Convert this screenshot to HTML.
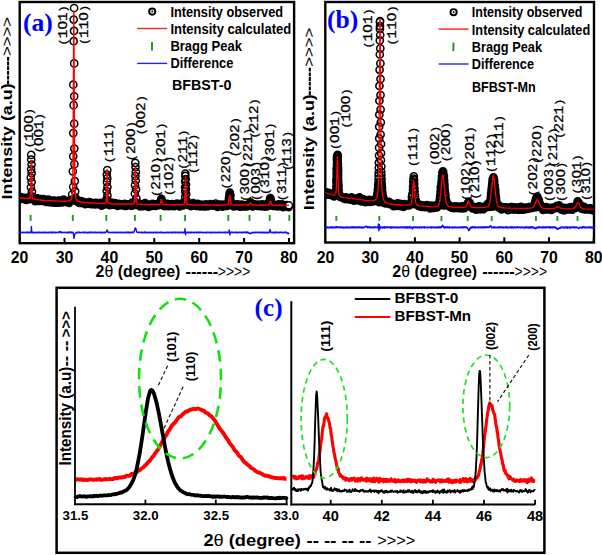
<!DOCTYPE html>
<html><head><meta charset="utf-8"><style>
html,body{margin:0;padding:0;background:#fff;overflow:hidden;}
svg{display:block;}
</style></head><body>
<svg width="602" height="555" viewBox="0 0 602 555">
<rect width="602" height="555" fill="#fff"/>
<rect x="19.7" y="2" width="274.4" height="241.2" fill="none" stroke="#000" stroke-width="2.4"/>
<line x1="64.5" y1="243.2" x2="64.5" y2="238" stroke="#000" stroke-width="2" />
<line x1="109.4" y1="243.2" x2="109.4" y2="238" stroke="#000" stroke-width="2" />
<line x1="154.3" y1="243.2" x2="154.3" y2="238" stroke="#000" stroke-width="2" />
<line x1="199.2" y1="243.2" x2="199.2" y2="238" stroke="#000" stroke-width="2" />
<line x1="244.1" y1="243.2" x2="244.1" y2="238" stroke="#000" stroke-width="2" />
<line x1="289" y1="243.2" x2="289" y2="238" stroke="#000" stroke-width="2" />
<clipPath id="c19"><rect x="19.7" y="2" width="274.4" height="241.2"/></clipPath><g clip-path="url(#c19)">
<path d="M16 199.4a3.6 3.6 0 1 0 7.2 0a3.6 3.6 0 1 0-7.2 0M16.5 198.6a3.6 3.6 0 1 0 7.2 0a3.6 3.6 0 1 0-7.2 0M17 198.4a3.6 3.6 0 1 0 7.2 0a3.6 3.6 0 1 0-7.2 0M17.5 197.1a3.6 3.6 0 1 0 7.2 0a3.6 3.6 0 1 0-7.2 0M18 198.2a3.6 3.6 0 1 0 7.2 0a3.6 3.6 0 1 0-7.2 0M18.5 198.2a3.6 3.6 0 1 0 7.2 0a3.6 3.6 0 1 0-7.2 0M19 198.5a3.6 3.6 0 1 0 7.2 0a3.6 3.6 0 1 0-7.2 0M19.5 198.1a3.6 3.6 0 1 0 7.2 0a3.6 3.6 0 1 0-7.2 0M20 198.6a3.6 3.6 0 1 0 7.2 0a3.6 3.6 0 1 0-7.2 0M20.5 198.3a3.6 3.6 0 1 0 7.2 0a3.6 3.6 0 1 0-7.2 0M21 197.8a3.6 3.6 0 1 0 7.2 0a3.6 3.6 0 1 0-7.2 0M21.5 199.4a3.6 3.6 0 1 0 7.2 0a3.6 3.6 0 1 0-7.2 0M22 199.4a3.6 3.6 0 1 0 7.2 0a3.6 3.6 0 1 0-7.2 0M22.5 200a3.6 3.6 0 1 0 7.2 0a3.6 3.6 0 1 0-7.2 0M23 198.9a3.6 3.6 0 1 0 7.2 0a3.6 3.6 0 1 0-7.2 0M23.5 198.6a3.6 3.6 0 1 0 7.2 0a3.6 3.6 0 1 0-7.2 0M24 198.5a3.6 3.6 0 1 0 7.2 0a3.6 3.6 0 1 0-7.2 0M24.5 197.8a3.6 3.6 0 1 0 7.2 0a3.6 3.6 0 1 0-7.2 0M25 199.5a3.6 3.6 0 1 0 7.2 0a3.6 3.6 0 1 0-7.2 0M25.5 198a3.6 3.6 0 1 0 7.2 0a3.6 3.6 0 1 0-7.2 0M26 197.7a3.6 3.6 0 1 0 7.2 0a3.6 3.6 0 1 0-7.2 0M26.5 197.7a3.6 3.6 0 1 0 7.2 0a3.6 3.6 0 1 0-7.2 0M27 197.9a3.6 3.6 0 1 0 7.2 0a3.6 3.6 0 1 0-7.2 0M27.5 197.1a3.6 3.6 0 1 0 7.2 0a3.6 3.6 0 1 0-7.2 0M28 196.3a3.6 3.6 0 1 0 7.2 0a3.6 3.6 0 1 0-7.2 0M28.5 196.6a3.6 3.6 0 1 0 7.2 0a3.6 3.6 0 1 0-7.2 0M29 198.6a3.6 3.6 0 1 0 7.2 0a3.6 3.6 0 1 0-7.2 0M29.5 198.8a3.6 3.6 0 1 0 7.2 0a3.6 3.6 0 1 0-7.2 0M30 198.7a3.6 3.6 0 1 0 7.2 0a3.6 3.6 0 1 0-7.2 0M30.5 199.3a3.6 3.6 0 1 0 7.2 0a3.6 3.6 0 1 0-7.2 0M31 200.1a3.6 3.6 0 1 0 7.2 0a3.6 3.6 0 1 0-7.2 0M31.5 201.1a3.6 3.6 0 1 0 7.2 0a3.6 3.6 0 1 0-7.2 0M32 198.9a3.6 3.6 0 1 0 7.2 0a3.6 3.6 0 1 0-7.2 0M32.5 199.4a3.6 3.6 0 1 0 7.2 0a3.6 3.6 0 1 0-7.2 0M33 199.4a3.6 3.6 0 1 0 7.2 0a3.6 3.6 0 1 0-7.2 0M33.5 198.3a3.6 3.6 0 1 0 7.2 0a3.6 3.6 0 1 0-7.2 0M34 199.4a3.6 3.6 0 1 0 7.2 0a3.6 3.6 0 1 0-7.2 0M34.5 199.4a3.6 3.6 0 1 0 7.2 0a3.6 3.6 0 1 0-7.2 0M35 201a3.6 3.6 0 1 0 7.2 0a3.6 3.6 0 1 0-7.2 0M35.5 200.1a3.6 3.6 0 1 0 7.2 0a3.6 3.6 0 1 0-7.2 0M36 199.1a3.6 3.6 0 1 0 7.2 0a3.6 3.6 0 1 0-7.2 0M36.5 200.8a3.6 3.6 0 1 0 7.2 0a3.6 3.6 0 1 0-7.2 0M37 200.1a3.6 3.6 0 1 0 7.2 0a3.6 3.6 0 1 0-7.2 0M37.5 199.2a3.6 3.6 0 1 0 7.2 0a3.6 3.6 0 1 0-7.2 0M38 200.1a3.6 3.6 0 1 0 7.2 0a3.6 3.6 0 1 0-7.2 0M38.5 200.1a3.6 3.6 0 1 0 7.2 0a3.6 3.6 0 1 0-7.2 0M39 200a3.6 3.6 0 1 0 7.2 0a3.6 3.6 0 1 0-7.2 0M39.5 200.7a3.6 3.6 0 1 0 7.2 0a3.6 3.6 0 1 0-7.2 0M40 199.1a3.6 3.6 0 1 0 7.2 0a3.6 3.6 0 1 0-7.2 0M40.5 200.6a3.6 3.6 0 1 0 7.2 0a3.6 3.6 0 1 0-7.2 0M41 201.5a3.6 3.6 0 1 0 7.2 0a3.6 3.6 0 1 0-7.2 0M41.5 201.5a3.6 3.6 0 1 0 7.2 0a3.6 3.6 0 1 0-7.2 0M42 201.7a3.6 3.6 0 1 0 7.2 0a3.6 3.6 0 1 0-7.2 0M42.5 201.7a3.6 3.6 0 1 0 7.2 0a3.6 3.6 0 1 0-7.2 0M43 202a3.6 3.6 0 1 0 7.2 0a3.6 3.6 0 1 0-7.2 0M43.5 200.2a3.6 3.6 0 1 0 7.2 0a3.6 3.6 0 1 0-7.2 0M44 201.6a3.6 3.6 0 1 0 7.2 0a3.6 3.6 0 1 0-7.2 0M44.5 199.7a3.6 3.6 0 1 0 7.2 0a3.6 3.6 0 1 0-7.2 0M45 200.7a3.6 3.6 0 1 0 7.2 0a3.6 3.6 0 1 0-7.2 0M45.5 199.8a3.6 3.6 0 1 0 7.2 0a3.6 3.6 0 1 0-7.2 0M46 201.9a3.6 3.6 0 1 0 7.2 0a3.6 3.6 0 1 0-7.2 0M46.5 202.1a3.6 3.6 0 1 0 7.2 0a3.6 3.6 0 1 0-7.2 0M47 201.1a3.6 3.6 0 1 0 7.2 0a3.6 3.6 0 1 0-7.2 0M47.5 202.5a3.6 3.6 0 1 0 7.2 0a3.6 3.6 0 1 0-7.2 0M48 200.8a3.6 3.6 0 1 0 7.2 0a3.6 3.6 0 1 0-7.2 0M48.5 201.4a3.6 3.6 0 1 0 7.2 0a3.6 3.6 0 1 0-7.2 0M49 201.4a3.6 3.6 0 1 0 7.2 0a3.6 3.6 0 1 0-7.2 0M49.5 200.6a3.6 3.6 0 1 0 7.2 0a3.6 3.6 0 1 0-7.2 0M50 201.7a3.6 3.6 0 1 0 7.2 0a3.6 3.6 0 1 0-7.2 0M50.5 202.7a3.6 3.6 0 1 0 7.2 0a3.6 3.6 0 1 0-7.2 0M51 200.7a3.6 3.6 0 1 0 7.2 0a3.6 3.6 0 1 0-7.2 0M51.5 202.1a3.6 3.6 0 1 0 7.2 0a3.6 3.6 0 1 0-7.2 0M52 201.4a3.6 3.6 0 1 0 7.2 0a3.6 3.6 0 1 0-7.2 0M52.5 202.7a3.6 3.6 0 1 0 7.2 0a3.6 3.6 0 1 0-7.2 0M53 201.8a3.6 3.6 0 1 0 7.2 0a3.6 3.6 0 1 0-7.2 0M53.5 202a3.6 3.6 0 1 0 7.2 0a3.6 3.6 0 1 0-7.2 0M54 202a3.6 3.6 0 1 0 7.2 0a3.6 3.6 0 1 0-7.2 0M54.5 201.7a3.6 3.6 0 1 0 7.2 0a3.6 3.6 0 1 0-7.2 0M55 200.6a3.6 3.6 0 1 0 7.2 0a3.6 3.6 0 1 0-7.2 0M55.5 202.6a3.6 3.6 0 1 0 7.2 0a3.6 3.6 0 1 0-7.2 0M56 200.7a3.6 3.6 0 1 0 7.2 0a3.6 3.6 0 1 0-7.2 0M56.5 201.8a3.6 3.6 0 1 0 7.2 0a3.6 3.6 0 1 0-7.2 0M57 202.1a3.6 3.6 0 1 0 7.2 0a3.6 3.6 0 1 0-7.2 0M57.5 201.1a3.6 3.6 0 1 0 7.2 0a3.6 3.6 0 1 0-7.2 0M58 201.8a3.6 3.6 0 1 0 7.2 0a3.6 3.6 0 1 0-7.2 0M58.5 202.5a3.6 3.6 0 1 0 7.2 0a3.6 3.6 0 1 0-7.2 0M59 201.7a3.6 3.6 0 1 0 7.2 0a3.6 3.6 0 1 0-7.2 0M59.5 201.1a3.6 3.6 0 1 0 7.2 0a3.6 3.6 0 1 0-7.2 0M60 199.7a3.6 3.6 0 1 0 7.2 0a3.6 3.6 0 1 0-7.2 0M60.5 201.1a3.6 3.6 0 1 0 7.2 0a3.6 3.6 0 1 0-7.2 0M61 201.3a3.6 3.6 0 1 0 7.2 0a3.6 3.6 0 1 0-7.2 0M61.5 201.4a3.6 3.6 0 1 0 7.2 0a3.6 3.6 0 1 0-7.2 0M62 201.1a3.6 3.6 0 1 0 7.2 0a3.6 3.6 0 1 0-7.2 0M62.5 202a3.6 3.6 0 1 0 7.2 0a3.6 3.6 0 1 0-7.2 0M63 201.3a3.6 3.6 0 1 0 7.2 0a3.6 3.6 0 1 0-7.2 0M63.5 201.6a3.6 3.6 0 1 0 7.2 0a3.6 3.6 0 1 0-7.2 0M64 202.1a3.6 3.6 0 1 0 7.2 0a3.6 3.6 0 1 0-7.2 0M64.5 201a3.6 3.6 0 1 0 7.2 0a3.6 3.6 0 1 0-7.2 0M65 201.3a3.6 3.6 0 1 0 7.2 0a3.6 3.6 0 1 0-7.2 0M65.5 202.8a3.6 3.6 0 1 0 7.2 0a3.6 3.6 0 1 0-7.2 0M66 201.8a3.6 3.6 0 1 0 7.2 0a3.6 3.6 0 1 0-7.2 0M66.5 200a3.6 3.6 0 1 0 7.2 0a3.6 3.6 0 1 0-7.2 0M67 200.4a3.6 3.6 0 1 0 7.2 0a3.6 3.6 0 1 0-7.2 0M67.5 200.2a3.6 3.6 0 1 0 7.2 0a3.6 3.6 0 1 0-7.2 0M68 200.7a3.6 3.6 0 1 0 7.2 0a3.6 3.6 0 1 0-7.2 0M68.5 200a3.6 3.6 0 1 0 7.2 0a3.6 3.6 0 1 0-7.2 0M69 199.5a3.6 3.6 0 1 0 7.2 0a3.6 3.6 0 1 0-7.2 0M69.5 199.4a3.6 3.6 0 1 0 7.2 0a3.6 3.6 0 1 0-7.2 0M70 200.4a3.6 3.6 0 1 0 7.2 0a3.6 3.6 0 1 0-7.2 0M70.5 200.2a3.6 3.6 0 1 0 7.2 0a3.6 3.6 0 1 0-7.2 0M71 199.6a3.6 3.6 0 1 0 7.2 0a3.6 3.6 0 1 0-7.2 0M71.5 199.9a3.6 3.6 0 1 0 7.2 0a3.6 3.6 0 1 0-7.2 0M72 199.7a3.6 3.6 0 1 0 7.2 0a3.6 3.6 0 1 0-7.2 0M72.5 200.6a3.6 3.6 0 1 0 7.2 0a3.6 3.6 0 1 0-7.2 0M73 199.6a3.6 3.6 0 1 0 7.2 0a3.6 3.6 0 1 0-7.2 0M73.5 201.2a3.6 3.6 0 1 0 7.2 0a3.6 3.6 0 1 0-7.2 0M74 201.9a3.6 3.6 0 1 0 7.2 0a3.6 3.6 0 1 0-7.2 0M74.5 201.9a3.6 3.6 0 1 0 7.2 0a3.6 3.6 0 1 0-7.2 0M75 201.3a3.6 3.6 0 1 0 7.2 0a3.6 3.6 0 1 0-7.2 0M75.5 203a3.6 3.6 0 1 0 7.2 0a3.6 3.6 0 1 0-7.2 0M76 201.7a3.6 3.6 0 1 0 7.2 0a3.6 3.6 0 1 0-7.2 0M76.5 202.6a3.6 3.6 0 1 0 7.2 0a3.6 3.6 0 1 0-7.2 0M77 201.8a3.6 3.6 0 1 0 7.2 0a3.6 3.6 0 1 0-7.2 0M77.5 201.2a3.6 3.6 0 1 0 7.2 0a3.6 3.6 0 1 0-7.2 0M78 202.7a3.6 3.6 0 1 0 7.2 0a3.6 3.6 0 1 0-7.2 0M78.5 202.8a3.6 3.6 0 1 0 7.2 0a3.6 3.6 0 1 0-7.2 0M79 202.6a3.6 3.6 0 1 0 7.2 0a3.6 3.6 0 1 0-7.2 0M79.5 202.9a3.6 3.6 0 1 0 7.2 0a3.6 3.6 0 1 0-7.2 0M80 202.3a3.6 3.6 0 1 0 7.2 0a3.6 3.6 0 1 0-7.2 0M80.5 202.2a3.6 3.6 0 1 0 7.2 0a3.6 3.6 0 1 0-7.2 0M81 202.7a3.6 3.6 0 1 0 7.2 0a3.6 3.6 0 1 0-7.2 0M81.5 204.2a3.6 3.6 0 1 0 7.2 0a3.6 3.6 0 1 0-7.2 0M82 203.5a3.6 3.6 0 1 0 7.2 0a3.6 3.6 0 1 0-7.2 0M82.5 202.6a3.6 3.6 0 1 0 7.2 0a3.6 3.6 0 1 0-7.2 0M83 203.4a3.6 3.6 0 1 0 7.2 0a3.6 3.6 0 1 0-7.2 0M83.5 202.7a3.6 3.6 0 1 0 7.2 0a3.6 3.6 0 1 0-7.2 0M84 202.8a3.6 3.6 0 1 0 7.2 0a3.6 3.6 0 1 0-7.2 0M84.5 203.7a3.6 3.6 0 1 0 7.2 0a3.6 3.6 0 1 0-7.2 0M85 202.8a3.6 3.6 0 1 0 7.2 0a3.6 3.6 0 1 0-7.2 0M85.5 202a3.6 3.6 0 1 0 7.2 0a3.6 3.6 0 1 0-7.2 0M86 202.6a3.6 3.6 0 1 0 7.2 0a3.6 3.6 0 1 0-7.2 0M86.5 203.3a3.6 3.6 0 1 0 7.2 0a3.6 3.6 0 1 0-7.2 0M87 203.4a3.6 3.6 0 1 0 7.2 0a3.6 3.6 0 1 0-7.2 0M87.5 204.2a3.6 3.6 0 1 0 7.2 0a3.6 3.6 0 1 0-7.2 0M88 202.9a3.6 3.6 0 1 0 7.2 0a3.6 3.6 0 1 0-7.2 0M88.5 203.9a3.6 3.6 0 1 0 7.2 0a3.6 3.6 0 1 0-7.2 0M89 203.8a3.6 3.6 0 1 0 7.2 0a3.6 3.6 0 1 0-7.2 0M89.5 203.4a3.6 3.6 0 1 0 7.2 0a3.6 3.6 0 1 0-7.2 0M90 204.1a3.6 3.6 0 1 0 7.2 0a3.6 3.6 0 1 0-7.2 0M90.5 203.9a3.6 3.6 0 1 0 7.2 0a3.6 3.6 0 1 0-7.2 0M91 203a3.6 3.6 0 1 0 7.2 0a3.6 3.6 0 1 0-7.2 0M91.5 204.4a3.6 3.6 0 1 0 7.2 0a3.6 3.6 0 1 0-7.2 0M92 202.8a3.6 3.6 0 1 0 7.2 0a3.6 3.6 0 1 0-7.2 0M92.5 203.7a3.6 3.6 0 1 0 7.2 0a3.6 3.6 0 1 0-7.2 0M93 203.7a3.6 3.6 0 1 0 7.2 0a3.6 3.6 0 1 0-7.2 0M93.5 204a3.6 3.6 0 1 0 7.2 0a3.6 3.6 0 1 0-7.2 0M94 203.2a3.6 3.6 0 1 0 7.2 0a3.6 3.6 0 1 0-7.2 0M94.5 203.7a3.6 3.6 0 1 0 7.2 0a3.6 3.6 0 1 0-7.2 0M95 203.7a3.6 3.6 0 1 0 7.2 0a3.6 3.6 0 1 0-7.2 0M95.5 204.5a3.6 3.6 0 1 0 7.2 0a3.6 3.6 0 1 0-7.2 0M96 203.2a3.6 3.6 0 1 0 7.2 0a3.6 3.6 0 1 0-7.2 0M96.5 203.8a3.6 3.6 0 1 0 7.2 0a3.6 3.6 0 1 0-7.2 0M97 203.6a3.6 3.6 0 1 0 7.2 0a3.6 3.6 0 1 0-7.2 0M97.5 202.9a3.6 3.6 0 1 0 7.2 0a3.6 3.6 0 1 0-7.2 0M98 205.7a3.6 3.6 0 1 0 7.2 0a3.6 3.6 0 1 0-7.2 0M98.5 203.8a3.6 3.6 0 1 0 7.2 0a3.6 3.6 0 1 0-7.2 0M99 202.8a3.6 3.6 0 1 0 7.2 0a3.6 3.6 0 1 0-7.2 0M99.5 204.8a3.6 3.6 0 1 0 7.2 0a3.6 3.6 0 1 0-7.2 0M100 203.1a3.6 3.6 0 1 0 7.2 0a3.6 3.6 0 1 0-7.2 0M100.5 204a3.6 3.6 0 1 0 7.2 0a3.6 3.6 0 1 0-7.2 0M101 204.3a3.6 3.6 0 1 0 7.2 0a3.6 3.6 0 1 0-7.2 0M101.5 203.1a3.6 3.6 0 1 0 7.2 0a3.6 3.6 0 1 0-7.2 0M102 202.9a3.6 3.6 0 1 0 7.2 0a3.6 3.6 0 1 0-7.2 0M102.5 201.9a3.6 3.6 0 1 0 7.2 0a3.6 3.6 0 1 0-7.2 0M103 201.5a3.6 3.6 0 1 0 7.2 0a3.6 3.6 0 1 0-7.2 0M103.5 200.5a3.6 3.6 0 1 0 7.2 0a3.6 3.6 0 1 0-7.2 0M104 200.7a3.6 3.6 0 1 0 7.2 0a3.6 3.6 0 1 0-7.2 0M104.5 202.6a3.6 3.6 0 1 0 7.2 0a3.6 3.6 0 1 0-7.2 0M105 204.2a3.6 3.6 0 1 0 7.2 0a3.6 3.6 0 1 0-7.2 0M105.5 204.2a3.6 3.6 0 1 0 7.2 0a3.6 3.6 0 1 0-7.2 0M106 205.1a3.6 3.6 0 1 0 7.2 0a3.6 3.6 0 1 0-7.2 0M106.5 204.5a3.6 3.6 0 1 0 7.2 0a3.6 3.6 0 1 0-7.2 0M107 203.7a3.6 3.6 0 1 0 7.2 0a3.6 3.6 0 1 0-7.2 0M107.5 204a3.6 3.6 0 1 0 7.2 0a3.6 3.6 0 1 0-7.2 0M108 202.7a3.6 3.6 0 1 0 7.2 0a3.6 3.6 0 1 0-7.2 0M108.5 203.5a3.6 3.6 0 1 0 7.2 0a3.6 3.6 0 1 0-7.2 0M109 203.5a3.6 3.6 0 1 0 7.2 0a3.6 3.6 0 1 0-7.2 0M109.5 204.4a3.6 3.6 0 1 0 7.2 0a3.6 3.6 0 1 0-7.2 0M110 204.7a3.6 3.6 0 1 0 7.2 0a3.6 3.6 0 1 0-7.2 0M110.5 203.9a3.6 3.6 0 1 0 7.2 0a3.6 3.6 0 1 0-7.2 0M111 203.9a3.6 3.6 0 1 0 7.2 0a3.6 3.6 0 1 0-7.2 0M111.5 203.2a3.6 3.6 0 1 0 7.2 0a3.6 3.6 0 1 0-7.2 0M112 204.2a3.6 3.6 0 1 0 7.2 0a3.6 3.6 0 1 0-7.2 0M112.5 204.5a3.6 3.6 0 1 0 7.2 0a3.6 3.6 0 1 0-7.2 0M113 204.7a3.6 3.6 0 1 0 7.2 0a3.6 3.6 0 1 0-7.2 0M113.5 203.8a3.6 3.6 0 1 0 7.2 0a3.6 3.6 0 1 0-7.2 0M114 205.8a3.6 3.6 0 1 0 7.2 0a3.6 3.6 0 1 0-7.2 0M114.5 205.2a3.6 3.6 0 1 0 7.2 0a3.6 3.6 0 1 0-7.2 0M115 204.4a3.6 3.6 0 1 0 7.2 0a3.6 3.6 0 1 0-7.2 0M115.5 204.1a3.6 3.6 0 1 0 7.2 0a3.6 3.6 0 1 0-7.2 0M116 204.2a3.6 3.6 0 1 0 7.2 0a3.6 3.6 0 1 0-7.2 0M116.5 204.6a3.6 3.6 0 1 0 7.2 0a3.6 3.6 0 1 0-7.2 0M117 204.5a3.6 3.6 0 1 0 7.2 0a3.6 3.6 0 1 0-7.2 0M117.5 204.8a3.6 3.6 0 1 0 7.2 0a3.6 3.6 0 1 0-7.2 0M118 205a3.6 3.6 0 1 0 7.2 0a3.6 3.6 0 1 0-7.2 0M118.5 205.5a3.6 3.6 0 1 0 7.2 0a3.6 3.6 0 1 0-7.2 0M119 205.3a3.6 3.6 0 1 0 7.2 0a3.6 3.6 0 1 0-7.2 0M119.5 204.4a3.6 3.6 0 1 0 7.2 0a3.6 3.6 0 1 0-7.2 0M120 204.8a3.6 3.6 0 1 0 7.2 0a3.6 3.6 0 1 0-7.2 0M120.5 204.2a3.6 3.6 0 1 0 7.2 0a3.6 3.6 0 1 0-7.2 0M121 204.1a3.6 3.6 0 1 0 7.2 0a3.6 3.6 0 1 0-7.2 0M121.5 205.9a3.6 3.6 0 1 0 7.2 0a3.6 3.6 0 1 0-7.2 0M122 204.2a3.6 3.6 0 1 0 7.2 0a3.6 3.6 0 1 0-7.2 0M122.5 205.9a3.6 3.6 0 1 0 7.2 0a3.6 3.6 0 1 0-7.2 0M123 204.3a3.6 3.6 0 1 0 7.2 0a3.6 3.6 0 1 0-7.2 0M123.5 204.7a3.6 3.6 0 1 0 7.2 0a3.6 3.6 0 1 0-7.2 0M124 205.3a3.6 3.6 0 1 0 7.2 0a3.6 3.6 0 1 0-7.2 0M124.5 204.6a3.6 3.6 0 1 0 7.2 0a3.6 3.6 0 1 0-7.2 0M125 204.8a3.6 3.6 0 1 0 7.2 0a3.6 3.6 0 1 0-7.2 0M125.5 204.4a3.6 3.6 0 1 0 7.2 0a3.6 3.6 0 1 0-7.2 0M126 204.2a3.6 3.6 0 1 0 7.2 0a3.6 3.6 0 1 0-7.2 0M126.5 204.4a3.6 3.6 0 1 0 7.2 0a3.6 3.6 0 1 0-7.2 0M127 204.1a3.6 3.6 0 1 0 7.2 0a3.6 3.6 0 1 0-7.2 0M127.5 205.6a3.6 3.6 0 1 0 7.2 0a3.6 3.6 0 1 0-7.2 0M128 204.3a3.6 3.6 0 1 0 7.2 0a3.6 3.6 0 1 0-7.2 0M128.5 205.6a3.6 3.6 0 1 0 7.2 0a3.6 3.6 0 1 0-7.2 0M129 202.4a3.6 3.6 0 1 0 7.2 0a3.6 3.6 0 1 0-7.2 0M129.5 204.2a3.6 3.6 0 1 0 7.2 0a3.6 3.6 0 1 0-7.2 0M130 204.3a3.6 3.6 0 1 0 7.2 0a3.6 3.6 0 1 0-7.2 0M130.5 203a3.6 3.6 0 1 0 7.2 0a3.6 3.6 0 1 0-7.2 0M131 203a3.6 3.6 0 1 0 7.2 0a3.6 3.6 0 1 0-7.2 0M131.5 202.6a3.6 3.6 0 1 0 7.2 0a3.6 3.6 0 1 0-7.2 0M132 202a3.6 3.6 0 1 0 7.2 0a3.6 3.6 0 1 0-7.2 0M132.5 202.5a3.6 3.6 0 1 0 7.2 0a3.6 3.6 0 1 0-7.2 0M133 204.9a3.6 3.6 0 1 0 7.2 0a3.6 3.6 0 1 0-7.2 0M133.5 204a3.6 3.6 0 1 0 7.2 0a3.6 3.6 0 1 0-7.2 0M134 204.4a3.6 3.6 0 1 0 7.2 0a3.6 3.6 0 1 0-7.2 0M134.5 204.1a3.6 3.6 0 1 0 7.2 0a3.6 3.6 0 1 0-7.2 0M135 204.6a3.6 3.6 0 1 0 7.2 0a3.6 3.6 0 1 0-7.2 0M135.5 203.6a3.6 3.6 0 1 0 7.2 0a3.6 3.6 0 1 0-7.2 0M136 204.5a3.6 3.6 0 1 0 7.2 0a3.6 3.6 0 1 0-7.2 0M136.5 206.4a3.6 3.6 0 1 0 7.2 0a3.6 3.6 0 1 0-7.2 0M137 205.4a3.6 3.6 0 1 0 7.2 0a3.6 3.6 0 1 0-7.2 0M137.5 205.1a3.6 3.6 0 1 0 7.2 0a3.6 3.6 0 1 0-7.2 0M138 205.5a3.6 3.6 0 1 0 7.2 0a3.6 3.6 0 1 0-7.2 0M138.5 206a3.6 3.6 0 1 0 7.2 0a3.6 3.6 0 1 0-7.2 0M139 205.2a3.6 3.6 0 1 0 7.2 0a3.6 3.6 0 1 0-7.2 0M139.5 206.2a3.6 3.6 0 1 0 7.2 0a3.6 3.6 0 1 0-7.2 0M140 205.5a3.6 3.6 0 1 0 7.2 0a3.6 3.6 0 1 0-7.2 0M140.5 204.9a3.6 3.6 0 1 0 7.2 0a3.6 3.6 0 1 0-7.2 0M141 206a3.6 3.6 0 1 0 7.2 0a3.6 3.6 0 1 0-7.2 0M141.5 203.1a3.6 3.6 0 1 0 7.2 0a3.6 3.6 0 1 0-7.2 0M142 204.4a3.6 3.6 0 1 0 7.2 0a3.6 3.6 0 1 0-7.2 0M142.5 205a3.6 3.6 0 1 0 7.2 0a3.6 3.6 0 1 0-7.2 0M143 204.2a3.6 3.6 0 1 0 7.2 0a3.6 3.6 0 1 0-7.2 0M143.5 204.7a3.6 3.6 0 1 0 7.2 0a3.6 3.6 0 1 0-7.2 0M144 204.4a3.6 3.6 0 1 0 7.2 0a3.6 3.6 0 1 0-7.2 0M144.5 204.4a3.6 3.6 0 1 0 7.2 0a3.6 3.6 0 1 0-7.2 0M145 206.8a3.6 3.6 0 1 0 7.2 0a3.6 3.6 0 1 0-7.2 0M145.5 205.3a3.6 3.6 0 1 0 7.2 0a3.6 3.6 0 1 0-7.2 0M146 204.8a3.6 3.6 0 1 0 7.2 0a3.6 3.6 0 1 0-7.2 0M146.5 205.8a3.6 3.6 0 1 0 7.2 0a3.6 3.6 0 1 0-7.2 0M147 204.7a3.6 3.6 0 1 0 7.2 0a3.6 3.6 0 1 0-7.2 0M147.5 205.5a3.6 3.6 0 1 0 7.2 0a3.6 3.6 0 1 0-7.2 0M148 205.1a3.6 3.6 0 1 0 7.2 0a3.6 3.6 0 1 0-7.2 0M148.5 206a3.6 3.6 0 1 0 7.2 0a3.6 3.6 0 1 0-7.2 0M149 203.9a3.6 3.6 0 1 0 7.2 0a3.6 3.6 0 1 0-7.2 0M149.5 205.4a3.6 3.6 0 1 0 7.2 0a3.6 3.6 0 1 0-7.2 0M150 205a3.6 3.6 0 1 0 7.2 0a3.6 3.6 0 1 0-7.2 0M150.5 204.1a3.6 3.6 0 1 0 7.2 0a3.6 3.6 0 1 0-7.2 0M151 205.6a3.6 3.6 0 1 0 7.2 0a3.6 3.6 0 1 0-7.2 0M151.5 204.3a3.6 3.6 0 1 0 7.2 0a3.6 3.6 0 1 0-7.2 0M152 206a3.6 3.6 0 1 0 7.2 0a3.6 3.6 0 1 0-7.2 0M152.5 205.3a3.6 3.6 0 1 0 7.2 0a3.6 3.6 0 1 0-7.2 0M153 205.4a3.6 3.6 0 1 0 7.2 0a3.6 3.6 0 1 0-7.2 0M153.5 204.9a3.6 3.6 0 1 0 7.2 0a3.6 3.6 0 1 0-7.2 0M154 205.5a3.6 3.6 0 1 0 7.2 0a3.6 3.6 0 1 0-7.2 0M154.5 203.6a3.6 3.6 0 1 0 7.2 0a3.6 3.6 0 1 0-7.2 0M155 204.9a3.6 3.6 0 1 0 7.2 0a3.6 3.6 0 1 0-7.2 0M155.5 204.4a3.6 3.6 0 1 0 7.2 0a3.6 3.6 0 1 0-7.2 0M156 204.9a3.6 3.6 0 1 0 7.2 0a3.6 3.6 0 1 0-7.2 0M156.5 204.4a3.6 3.6 0 1 0 7.2 0a3.6 3.6 0 1 0-7.2 0M157 203.8a3.6 3.6 0 1 0 7.2 0a3.6 3.6 0 1 0-7.2 0M157.5 201.9a3.6 3.6 0 1 0 7.2 0a3.6 3.6 0 1 0-7.2 0M158 203.8a3.6 3.6 0 1 0 7.2 0a3.6 3.6 0 1 0-7.2 0M158.5 204.6a3.6 3.6 0 1 0 7.2 0a3.6 3.6 0 1 0-7.2 0M159 204.2a3.6 3.6 0 1 0 7.2 0a3.6 3.6 0 1 0-7.2 0M159.5 204.7a3.6 3.6 0 1 0 7.2 0a3.6 3.6 0 1 0-7.2 0M160 205a3.6 3.6 0 1 0 7.2 0a3.6 3.6 0 1 0-7.2 0M160.5 205.8a3.6 3.6 0 1 0 7.2 0a3.6 3.6 0 1 0-7.2 0M161 206.2a3.6 3.6 0 1 0 7.2 0a3.6 3.6 0 1 0-7.2 0M161.5 204.1a3.6 3.6 0 1 0 7.2 0a3.6 3.6 0 1 0-7.2 0M162 204.5a3.6 3.6 0 1 0 7.2 0a3.6 3.6 0 1 0-7.2 0M162.5 204.2a3.6 3.6 0 1 0 7.2 0a3.6 3.6 0 1 0-7.2 0M163 204.2a3.6 3.6 0 1 0 7.2 0a3.6 3.6 0 1 0-7.2 0M163.5 203.8a3.6 3.6 0 1 0 7.2 0a3.6 3.6 0 1 0-7.2 0M164 205.2a3.6 3.6 0 1 0 7.2 0a3.6 3.6 0 1 0-7.2 0M164.5 204.2a3.6 3.6 0 1 0 7.2 0a3.6 3.6 0 1 0-7.2 0M165 206.1a3.6 3.6 0 1 0 7.2 0a3.6 3.6 0 1 0-7.2 0M165.5 205.6a3.6 3.6 0 1 0 7.2 0a3.6 3.6 0 1 0-7.2 0M166 204.3a3.6 3.6 0 1 0 7.2 0a3.6 3.6 0 1 0-7.2 0M166.5 204.3a3.6 3.6 0 1 0 7.2 0a3.6 3.6 0 1 0-7.2 0M167 204.6a3.6 3.6 0 1 0 7.2 0a3.6 3.6 0 1 0-7.2 0M167.5 206a3.6 3.6 0 1 0 7.2 0a3.6 3.6 0 1 0-7.2 0M168 204.4a3.6 3.6 0 1 0 7.2 0a3.6 3.6 0 1 0-7.2 0M168.5 204a3.6 3.6 0 1 0 7.2 0a3.6 3.6 0 1 0-7.2 0M169 205a3.6 3.6 0 1 0 7.2 0a3.6 3.6 0 1 0-7.2 0M169.5 205.3a3.6 3.6 0 1 0 7.2 0a3.6 3.6 0 1 0-7.2 0M170 204.6a3.6 3.6 0 1 0 7.2 0a3.6 3.6 0 1 0-7.2 0M170.5 206.2a3.6 3.6 0 1 0 7.2 0a3.6 3.6 0 1 0-7.2 0M171 205.2a3.6 3.6 0 1 0 7.2 0a3.6 3.6 0 1 0-7.2 0M171.5 205.4a3.6 3.6 0 1 0 7.2 0a3.6 3.6 0 1 0-7.2 0M172 204.5a3.6 3.6 0 1 0 7.2 0a3.6 3.6 0 1 0-7.2 0M172.5 205a3.6 3.6 0 1 0 7.2 0a3.6 3.6 0 1 0-7.2 0M173 204.9a3.6 3.6 0 1 0 7.2 0a3.6 3.6 0 1 0-7.2 0M173.5 203.5a3.6 3.6 0 1 0 7.2 0a3.6 3.6 0 1 0-7.2 0M174 205.3a3.6 3.6 0 1 0 7.2 0a3.6 3.6 0 1 0-7.2 0M174.5 203.8a3.6 3.6 0 1 0 7.2 0a3.6 3.6 0 1 0-7.2 0M175 205a3.6 3.6 0 1 0 7.2 0a3.6 3.6 0 1 0-7.2 0M175.5 204a3.6 3.6 0 1 0 7.2 0a3.6 3.6 0 1 0-7.2 0M176 206.5a3.6 3.6 0 1 0 7.2 0a3.6 3.6 0 1 0-7.2 0M176.5 205.3a3.6 3.6 0 1 0 7.2 0a3.6 3.6 0 1 0-7.2 0M177 205.6a3.6 3.6 0 1 0 7.2 0a3.6 3.6 0 1 0-7.2 0M177.5 205.6a3.6 3.6 0 1 0 7.2 0a3.6 3.6 0 1 0-7.2 0M178 204.1a3.6 3.6 0 1 0 7.2 0a3.6 3.6 0 1 0-7.2 0M178.5 203.3a3.6 3.6 0 1 0 7.2 0a3.6 3.6 0 1 0-7.2 0M179 204.6a3.6 3.6 0 1 0 7.2 0a3.6 3.6 0 1 0-7.2 0M179.5 205.4a3.6 3.6 0 1 0 7.2 0a3.6 3.6 0 1 0-7.2 0M180 204.6a3.6 3.6 0 1 0 7.2 0a3.6 3.6 0 1 0-7.2 0M180.5 204.7a3.6 3.6 0 1 0 7.2 0a3.6 3.6 0 1 0-7.2 0M181 203.3a3.6 3.6 0 1 0 7.2 0a3.6 3.6 0 1 0-7.2 0M181.5 201.6a3.6 3.6 0 1 0 7.2 0a3.6 3.6 0 1 0-7.2 0M182 202.9a3.6 3.6 0 1 0 7.2 0a3.6 3.6 0 1 0-7.2 0M182.5 204a3.6 3.6 0 1 0 7.2 0a3.6 3.6 0 1 0-7.2 0M183 202.9a3.6 3.6 0 1 0 7.2 0a3.6 3.6 0 1 0-7.2 0M183.5 202.9a3.6 3.6 0 1 0 7.2 0a3.6 3.6 0 1 0-7.2 0M184 204.5a3.6 3.6 0 1 0 7.2 0a3.6 3.6 0 1 0-7.2 0M184.5 204.5a3.6 3.6 0 1 0 7.2 0a3.6 3.6 0 1 0-7.2 0M185 205.2a3.6 3.6 0 1 0 7.2 0a3.6 3.6 0 1 0-7.2 0M185.5 204.4a3.6 3.6 0 1 0 7.2 0a3.6 3.6 0 1 0-7.2 0M186 205.1a3.6 3.6 0 1 0 7.2 0a3.6 3.6 0 1 0-7.2 0M186.5 203.5a3.6 3.6 0 1 0 7.2 0a3.6 3.6 0 1 0-7.2 0M187 205.7a3.6 3.6 0 1 0 7.2 0a3.6 3.6 0 1 0-7.2 0M187.5 206.2a3.6 3.6 0 1 0 7.2 0a3.6 3.6 0 1 0-7.2 0M188 206a3.6 3.6 0 1 0 7.2 0a3.6 3.6 0 1 0-7.2 0M188.5 204.1a3.6 3.6 0 1 0 7.2 0a3.6 3.6 0 1 0-7.2 0M189 205.4a3.6 3.6 0 1 0 7.2 0a3.6 3.6 0 1 0-7.2 0M189.5 203.1a3.6 3.6 0 1 0 7.2 0a3.6 3.6 0 1 0-7.2 0M190 205.4a3.6 3.6 0 1 0 7.2 0a3.6 3.6 0 1 0-7.2 0M190.5 205.1a3.6 3.6 0 1 0 7.2 0a3.6 3.6 0 1 0-7.2 0M191 204.5a3.6 3.6 0 1 0 7.2 0a3.6 3.6 0 1 0-7.2 0M191.5 205.4a3.6 3.6 0 1 0 7.2 0a3.6 3.6 0 1 0-7.2 0M192 205.3a3.6 3.6 0 1 0 7.2 0a3.6 3.6 0 1 0-7.2 0M192.5 205.9a3.6 3.6 0 1 0 7.2 0a3.6 3.6 0 1 0-7.2 0M193 205.3a3.6 3.6 0 1 0 7.2 0a3.6 3.6 0 1 0-7.2 0M193.5 205.4a3.6 3.6 0 1 0 7.2 0a3.6 3.6 0 1 0-7.2 0M194 203.9a3.6 3.6 0 1 0 7.2 0a3.6 3.6 0 1 0-7.2 0M194.5 204.4a3.6 3.6 0 1 0 7.2 0a3.6 3.6 0 1 0-7.2 0M195 204.9a3.6 3.6 0 1 0 7.2 0a3.6 3.6 0 1 0-7.2 0M195.5 205.4a3.6 3.6 0 1 0 7.2 0a3.6 3.6 0 1 0-7.2 0M196 205.2a3.6 3.6 0 1 0 7.2 0a3.6 3.6 0 1 0-7.2 0M196.5 206.3a3.6 3.6 0 1 0 7.2 0a3.6 3.6 0 1 0-7.2 0M197 204.6a3.6 3.6 0 1 0 7.2 0a3.6 3.6 0 1 0-7.2 0M197.5 205.1a3.6 3.6 0 1 0 7.2 0a3.6 3.6 0 1 0-7.2 0M198 205.4a3.6 3.6 0 1 0 7.2 0a3.6 3.6 0 1 0-7.2 0M198.5 205.1a3.6 3.6 0 1 0 7.2 0a3.6 3.6 0 1 0-7.2 0M199 205.6a3.6 3.6 0 1 0 7.2 0a3.6 3.6 0 1 0-7.2 0M199.5 204.9a3.6 3.6 0 1 0 7.2 0a3.6 3.6 0 1 0-7.2 0M200 206.3a3.6 3.6 0 1 0 7.2 0a3.6 3.6 0 1 0-7.2 0M200.5 205.1a3.6 3.6 0 1 0 7.2 0a3.6 3.6 0 1 0-7.2 0M201 206.1a3.6 3.6 0 1 0 7.2 0a3.6 3.6 0 1 0-7.2 0M201.5 205.3a3.6 3.6 0 1 0 7.2 0a3.6 3.6 0 1 0-7.2 0M202 206.3a3.6 3.6 0 1 0 7.2 0a3.6 3.6 0 1 0-7.2 0M202.5 204.3a3.6 3.6 0 1 0 7.2 0a3.6 3.6 0 1 0-7.2 0M203 205.7a3.6 3.6 0 1 0 7.2 0a3.6 3.6 0 1 0-7.2 0M203.5 205a3.6 3.6 0 1 0 7.2 0a3.6 3.6 0 1 0-7.2 0M204 205.5a3.6 3.6 0 1 0 7.2 0a3.6 3.6 0 1 0-7.2 0M204.5 206.1a3.6 3.6 0 1 0 7.2 0a3.6 3.6 0 1 0-7.2 0M205 204.5a3.6 3.6 0 1 0 7.2 0a3.6 3.6 0 1 0-7.2 0M205.5 204.4a3.6 3.6 0 1 0 7.2 0a3.6 3.6 0 1 0-7.2 0M206 204.6a3.6 3.6 0 1 0 7.2 0a3.6 3.6 0 1 0-7.2 0M206.5 205.5a3.6 3.6 0 1 0 7.2 0a3.6 3.6 0 1 0-7.2 0M207 204a3.6 3.6 0 1 0 7.2 0a3.6 3.6 0 1 0-7.2 0M207.5 205.4a3.6 3.6 0 1 0 7.2 0a3.6 3.6 0 1 0-7.2 0M208 204.4a3.6 3.6 0 1 0 7.2 0a3.6 3.6 0 1 0-7.2 0M208.5 204.5a3.6 3.6 0 1 0 7.2 0a3.6 3.6 0 1 0-7.2 0M209 205.1a3.6 3.6 0 1 0 7.2 0a3.6 3.6 0 1 0-7.2 0M209.5 205.6a3.6 3.6 0 1 0 7.2 0a3.6 3.6 0 1 0-7.2 0M210 204.9a3.6 3.6 0 1 0 7.2 0a3.6 3.6 0 1 0-7.2 0M210.5 205a3.6 3.6 0 1 0 7.2 0a3.6 3.6 0 1 0-7.2 0M211 205.3a3.6 3.6 0 1 0 7.2 0a3.6 3.6 0 1 0-7.2 0M211.5 205.1a3.6 3.6 0 1 0 7.2 0a3.6 3.6 0 1 0-7.2 0M212 203.5a3.6 3.6 0 1 0 7.2 0a3.6 3.6 0 1 0-7.2 0M212.5 205a3.6 3.6 0 1 0 7.2 0a3.6 3.6 0 1 0-7.2 0M213 205.4a3.6 3.6 0 1 0 7.2 0a3.6 3.6 0 1 0-7.2 0M213.5 206.1a3.6 3.6 0 1 0 7.2 0a3.6 3.6 0 1 0-7.2 0M214 206.8a3.6 3.6 0 1 0 7.2 0a3.6 3.6 0 1 0-7.2 0M214.5 205.8a3.6 3.6 0 1 0 7.2 0a3.6 3.6 0 1 0-7.2 0M215 205.4a3.6 3.6 0 1 0 7.2 0a3.6 3.6 0 1 0-7.2 0M215.5 204.7a3.6 3.6 0 1 0 7.2 0a3.6 3.6 0 1 0-7.2 0M216 205.4a3.6 3.6 0 1 0 7.2 0a3.6 3.6 0 1 0-7.2 0M216.5 205.9a3.6 3.6 0 1 0 7.2 0a3.6 3.6 0 1 0-7.2 0M217 206.2a3.6 3.6 0 1 0 7.2 0a3.6 3.6 0 1 0-7.2 0M217.5 204.7a3.6 3.6 0 1 0 7.2 0a3.6 3.6 0 1 0-7.2 0M218 205.5a3.6 3.6 0 1 0 7.2 0a3.6 3.6 0 1 0-7.2 0M218.5 205.9a3.6 3.6 0 1 0 7.2 0a3.6 3.6 0 1 0-7.2 0M219 206.6a3.6 3.6 0 1 0 7.2 0a3.6 3.6 0 1 0-7.2 0M219.5 205.5a3.6 3.6 0 1 0 7.2 0a3.6 3.6 0 1 0-7.2 0M220 204.9a3.6 3.6 0 1 0 7.2 0a3.6 3.6 0 1 0-7.2 0M220.5 204.8a3.6 3.6 0 1 0 7.2 0a3.6 3.6 0 1 0-7.2 0M221 205a3.6 3.6 0 1 0 7.2 0a3.6 3.6 0 1 0-7.2 0M221.5 204.8a3.6 3.6 0 1 0 7.2 0a3.6 3.6 0 1 0-7.2 0M222 205.8a3.6 3.6 0 1 0 7.2 0a3.6 3.6 0 1 0-7.2 0M222.5 205.9a3.6 3.6 0 1 0 7.2 0a3.6 3.6 0 1 0-7.2 0M223 205.6a3.6 3.6 0 1 0 7.2 0a3.6 3.6 0 1 0-7.2 0M223.5 205.8a3.6 3.6 0 1 0 7.2 0a3.6 3.6 0 1 0-7.2 0M224 204.5a3.6 3.6 0 1 0 7.2 0a3.6 3.6 0 1 0-7.2 0M224.5 204.5a3.6 3.6 0 1 0 7.2 0a3.6 3.6 0 1 0-7.2 0M225 202.6a3.6 3.6 0 1 0 7.2 0a3.6 3.6 0 1 0-7.2 0M225.5 202.9a3.6 3.6 0 1 0 7.2 0a3.6 3.6 0 1 0-7.2 0M226 203.8a3.6 3.6 0 1 0 7.2 0a3.6 3.6 0 1 0-7.2 0M226.5 202.9a3.6 3.6 0 1 0 7.2 0a3.6 3.6 0 1 0-7.2 0M227 201.6a3.6 3.6 0 1 0 7.2 0a3.6 3.6 0 1 0-7.2 0M227.5 204a3.6 3.6 0 1 0 7.2 0a3.6 3.6 0 1 0-7.2 0M228 204.3a3.6 3.6 0 1 0 7.2 0a3.6 3.6 0 1 0-7.2 0M228.5 204a3.6 3.6 0 1 0 7.2 0a3.6 3.6 0 1 0-7.2 0M229 204.6a3.6 3.6 0 1 0 7.2 0a3.6 3.6 0 1 0-7.2 0M229.5 205.9a3.6 3.6 0 1 0 7.2 0a3.6 3.6 0 1 0-7.2 0M230 206.4a3.6 3.6 0 1 0 7.2 0a3.6 3.6 0 1 0-7.2 0M230.5 205a3.6 3.6 0 1 0 7.2 0a3.6 3.6 0 1 0-7.2 0M231 206a3.6 3.6 0 1 0 7.2 0a3.6 3.6 0 1 0-7.2 0M231.5 206.2a3.6 3.6 0 1 0 7.2 0a3.6 3.6 0 1 0-7.2 0M232 204.5a3.6 3.6 0 1 0 7.2 0a3.6 3.6 0 1 0-7.2 0M232.5 205.3a3.6 3.6 0 1 0 7.2 0a3.6 3.6 0 1 0-7.2 0M233 205.4a3.6 3.6 0 1 0 7.2 0a3.6 3.6 0 1 0-7.2 0M233.5 205.5a3.6 3.6 0 1 0 7.2 0a3.6 3.6 0 1 0-7.2 0M234 204.3a3.6 3.6 0 1 0 7.2 0a3.6 3.6 0 1 0-7.2 0M234.5 205.2a3.6 3.6 0 1 0 7.2 0a3.6 3.6 0 1 0-7.2 0M235 206.2a3.6 3.6 0 1 0 7.2 0a3.6 3.6 0 1 0-7.2 0M235.5 206.3a3.6 3.6 0 1 0 7.2 0a3.6 3.6 0 1 0-7.2 0M236 206.7a3.6 3.6 0 1 0 7.2 0a3.6 3.6 0 1 0-7.2 0M236.5 205.2a3.6 3.6 0 1 0 7.2 0a3.6 3.6 0 1 0-7.2 0M237 206.7a3.6 3.6 0 1 0 7.2 0a3.6 3.6 0 1 0-7.2 0M237.5 205.9a3.6 3.6 0 1 0 7.2 0a3.6 3.6 0 1 0-7.2 0M238 204.5a3.6 3.6 0 1 0 7.2 0a3.6 3.6 0 1 0-7.2 0M238.5 206a3.6 3.6 0 1 0 7.2 0a3.6 3.6 0 1 0-7.2 0M239 205.2a3.6 3.6 0 1 0 7.2 0a3.6 3.6 0 1 0-7.2 0M239.5 205.8a3.6 3.6 0 1 0 7.2 0a3.6 3.6 0 1 0-7.2 0M240 205.4a3.6 3.6 0 1 0 7.2 0a3.6 3.6 0 1 0-7.2 0M240.5 206.3a3.6 3.6 0 1 0 7.2 0a3.6 3.6 0 1 0-7.2 0M241 205.6a3.6 3.6 0 1 0 7.2 0a3.6 3.6 0 1 0-7.2 0M241.5 205.2a3.6 3.6 0 1 0 7.2 0a3.6 3.6 0 1 0-7.2 0M242 206.1a3.6 3.6 0 1 0 7.2 0a3.6 3.6 0 1 0-7.2 0M242.5 205.6a3.6 3.6 0 1 0 7.2 0a3.6 3.6 0 1 0-7.2 0M243 205.1a3.6 3.6 0 1 0 7.2 0a3.6 3.6 0 1 0-7.2 0M243.5 206.3a3.6 3.6 0 1 0 7.2 0a3.6 3.6 0 1 0-7.2 0M244 205.1a3.6 3.6 0 1 0 7.2 0a3.6 3.6 0 1 0-7.2 0M244.5 204.9a3.6 3.6 0 1 0 7.2 0a3.6 3.6 0 1 0-7.2 0M245 204.8a3.6 3.6 0 1 0 7.2 0a3.6 3.6 0 1 0-7.2 0M245.5 203.9a3.6 3.6 0 1 0 7.2 0a3.6 3.6 0 1 0-7.2 0M246 203.9a3.6 3.6 0 1 0 7.2 0a3.6 3.6 0 1 0-7.2 0M246.5 204.7a3.6 3.6 0 1 0 7.2 0a3.6 3.6 0 1 0-7.2 0M247 202.4a3.6 3.6 0 1 0 7.2 0a3.6 3.6 0 1 0-7.2 0M247.5 203.7a3.6 3.6 0 1 0 7.2 0a3.6 3.6 0 1 0-7.2 0M248 203.8a3.6 3.6 0 1 0 7.2 0a3.6 3.6 0 1 0-7.2 0M248.5 204.6a3.6 3.6 0 1 0 7.2 0a3.6 3.6 0 1 0-7.2 0M249 206.3a3.6 3.6 0 1 0 7.2 0a3.6 3.6 0 1 0-7.2 0M249.5 206a3.6 3.6 0 1 0 7.2 0a3.6 3.6 0 1 0-7.2 0M250 205a3.6 3.6 0 1 0 7.2 0a3.6 3.6 0 1 0-7.2 0M250.5 205.4a3.6 3.6 0 1 0 7.2 0a3.6 3.6 0 1 0-7.2 0M251 204.9a3.6 3.6 0 1 0 7.2 0a3.6 3.6 0 1 0-7.2 0M251.5 204.9a3.6 3.6 0 1 0 7.2 0a3.6 3.6 0 1 0-7.2 0M252 204.8a3.6 3.6 0 1 0 7.2 0a3.6 3.6 0 1 0-7.2 0M252.5 204.9a3.6 3.6 0 1 0 7.2 0a3.6 3.6 0 1 0-7.2 0M253 205.7a3.6 3.6 0 1 0 7.2 0a3.6 3.6 0 1 0-7.2 0M253.5 205.9a3.6 3.6 0 1 0 7.2 0a3.6 3.6 0 1 0-7.2 0M254 205.9a3.6 3.6 0 1 0 7.2 0a3.6 3.6 0 1 0-7.2 0M254.5 205.4a3.6 3.6 0 1 0 7.2 0a3.6 3.6 0 1 0-7.2 0M255 204.6a3.6 3.6 0 1 0 7.2 0a3.6 3.6 0 1 0-7.2 0M255.5 205.5a3.6 3.6 0 1 0 7.2 0a3.6 3.6 0 1 0-7.2 0M256 204.9a3.6 3.6 0 1 0 7.2 0a3.6 3.6 0 1 0-7.2 0M256.5 206.1a3.6 3.6 0 1 0 7.2 0a3.6 3.6 0 1 0-7.2 0M257 205.9a3.6 3.6 0 1 0 7.2 0a3.6 3.6 0 1 0-7.2 0M257.5 206a3.6 3.6 0 1 0 7.2 0a3.6 3.6 0 1 0-7.2 0M258 205.3a3.6 3.6 0 1 0 7.2 0a3.6 3.6 0 1 0-7.2 0M258.5 204.3a3.6 3.6 0 1 0 7.2 0a3.6 3.6 0 1 0-7.2 0M259 206.2a3.6 3.6 0 1 0 7.2 0a3.6 3.6 0 1 0-7.2 0M259.5 206.4a3.6 3.6 0 1 0 7.2 0a3.6 3.6 0 1 0-7.2 0M260 204.5a3.6 3.6 0 1 0 7.2 0a3.6 3.6 0 1 0-7.2 0M260.5 205.6a3.6 3.6 0 1 0 7.2 0a3.6 3.6 0 1 0-7.2 0M261 206.3a3.6 3.6 0 1 0 7.2 0a3.6 3.6 0 1 0-7.2 0M261.5 204.7a3.6 3.6 0 1 0 7.2 0a3.6 3.6 0 1 0-7.2 0M262 206.7a3.6 3.6 0 1 0 7.2 0a3.6 3.6 0 1 0-7.2 0M262.5 205.2a3.6 3.6 0 1 0 7.2 0a3.6 3.6 0 1 0-7.2 0M263 204.7a3.6 3.6 0 1 0 7.2 0a3.6 3.6 0 1 0-7.2 0M263.5 206.3a3.6 3.6 0 1 0 7.2 0a3.6 3.6 0 1 0-7.2 0M264 205.5a3.6 3.6 0 1 0 7.2 0a3.6 3.6 0 1 0-7.2 0M264.5 204.7a3.6 3.6 0 1 0 7.2 0a3.6 3.6 0 1 0-7.2 0M265 205.5a3.6 3.6 0 1 0 7.2 0a3.6 3.6 0 1 0-7.2 0M265.5 202.5a3.6 3.6 0 1 0 7.2 0a3.6 3.6 0 1 0-7.2 0M266 204.4a3.6 3.6 0 1 0 7.2 0a3.6 3.6 0 1 0-7.2 0M266.5 202.5a3.6 3.6 0 1 0 7.2 0a3.6 3.6 0 1 0-7.2 0M267 203.3a3.6 3.6 0 1 0 7.2 0a3.6 3.6 0 1 0-7.2 0M267.5 202.8a3.6 3.6 0 1 0 7.2 0a3.6 3.6 0 1 0-7.2 0M268 204.4a3.6 3.6 0 1 0 7.2 0a3.6 3.6 0 1 0-7.2 0M268.5 205.6a3.6 3.6 0 1 0 7.2 0a3.6 3.6 0 1 0-7.2 0M269 204.7a3.6 3.6 0 1 0 7.2 0a3.6 3.6 0 1 0-7.2 0M269.5 205.9a3.6 3.6 0 1 0 7.2 0a3.6 3.6 0 1 0-7.2 0M270 205.2a3.6 3.6 0 1 0 7.2 0a3.6 3.6 0 1 0-7.2 0M270.5 205a3.6 3.6 0 1 0 7.2 0a3.6 3.6 0 1 0-7.2 0M271 205.4a3.6 3.6 0 1 0 7.2 0a3.6 3.6 0 1 0-7.2 0M271.5 204.8a3.6 3.6 0 1 0 7.2 0a3.6 3.6 0 1 0-7.2 0M272 205a3.6 3.6 0 1 0 7.2 0a3.6 3.6 0 1 0-7.2 0M272.5 206.2a3.6 3.6 0 1 0 7.2 0a3.6 3.6 0 1 0-7.2 0M273 205.5a3.6 3.6 0 1 0 7.2 0a3.6 3.6 0 1 0-7.2 0M273.5 206.4a3.6 3.6 0 1 0 7.2 0a3.6 3.6 0 1 0-7.2 0M274 205.9a3.6 3.6 0 1 0 7.2 0a3.6 3.6 0 1 0-7.2 0M274.5 204.9a3.6 3.6 0 1 0 7.2 0a3.6 3.6 0 1 0-7.2 0M275 204.3a3.6 3.6 0 1 0 7.2 0a3.6 3.6 0 1 0-7.2 0M275.5 205.1a3.6 3.6 0 1 0 7.2 0a3.6 3.6 0 1 0-7.2 0M276 205.8a3.6 3.6 0 1 0 7.2 0a3.6 3.6 0 1 0-7.2 0M276.5 205.6a3.6 3.6 0 1 0 7.2 0a3.6 3.6 0 1 0-7.2 0M277 205.1a3.6 3.6 0 1 0 7.2 0a3.6 3.6 0 1 0-7.2 0M277.5 206.3a3.6 3.6 0 1 0 7.2 0a3.6 3.6 0 1 0-7.2 0M278 204.4a3.6 3.6 0 1 0 7.2 0a3.6 3.6 0 1 0-7.2 0M278.5 204.8a3.6 3.6 0 1 0 7.2 0a3.6 3.6 0 1 0-7.2 0M279 205.7a3.6 3.6 0 1 0 7.2 0a3.6 3.6 0 1 0-7.2 0M279.5 207.2a3.6 3.6 0 1 0 7.2 0a3.6 3.6 0 1 0-7.2 0M280 205.9a3.6 3.6 0 1 0 7.2 0a3.6 3.6 0 1 0-7.2 0M280.5 205a3.6 3.6 0 1 0 7.2 0a3.6 3.6 0 1 0-7.2 0M281 206.1a3.6 3.6 0 1 0 7.2 0a3.6 3.6 0 1 0-7.2 0M281.5 206.1a3.6 3.6 0 1 0 7.2 0a3.6 3.6 0 1 0-7.2 0M282 206.3a3.6 3.6 0 1 0 7.2 0a3.6 3.6 0 1 0-7.2 0M282.5 205.4a3.6 3.6 0 1 0 7.2 0a3.6 3.6 0 1 0-7.2 0M283 205.1a3.6 3.6 0 1 0 7.2 0a3.6 3.6 0 1 0-7.2 0M283.5 205.8a3.6 3.6 0 1 0 7.2 0a3.6 3.6 0 1 0-7.2 0M284 206a3.6 3.6 0 1 0 7.2 0a3.6 3.6 0 1 0-7.2 0M284.5 206.8a3.6 3.6 0 1 0 7.2 0a3.6 3.6 0 1 0-7.2 0M285 207.1a3.6 3.6 0 1 0 7.2 0a3.6 3.6 0 1 0-7.2 0M27.6 154.9a3.6 3.6 0 1 0 7.2 0a3.6 3.6 0 1 0-7.2 0M27.6 159.6a3.6 3.6 0 1 0 7.2 0a3.6 3.6 0 1 0-7.2 0M28 164.5a3.6 3.6 0 1 0 7.2 0a3.6 3.6 0 1 0-7.2 0M27.5 169.3a3.6 3.6 0 1 0 7.2 0a3.6 3.6 0 1 0-7.2 0M28 173.2a3.6 3.6 0 1 0 7.2 0a3.6 3.6 0 1 0-7.2 0M27.2 177.7a3.6 3.6 0 1 0 7.2 0a3.6 3.6 0 1 0-7.2 0M28 182.1a3.6 3.6 0 1 0 7.2 0a3.6 3.6 0 1 0-7.2 0M27.3 187.3a3.6 3.6 0 1 0 7.2 0a3.6 3.6 0 1 0-7.2 0M28.3 191.7a3.6 3.6 0 1 0 7.2 0a3.6 3.6 0 1 0-7.2 0M26.6 196.1a3.6 3.6 0 1 0 7.2 0a3.6 3.6 0 1 0-7.2 0M70.5 8a3.6 3.6 0 1 0 7.2 0a3.6 3.6 0 1 0-7.2 0M70.1 19.6a3.6 3.6 0 1 0 7.2 0a3.6 3.6 0 1 0-7.2 0M70.4 30.9a3.6 3.6 0 1 0 7.2 0a3.6 3.6 0 1 0-7.2 0M70.1 41.2a3.6 3.6 0 1 0 7.2 0a3.6 3.6 0 1 0-7.2 0M70.6 63.4a3.6 3.6 0 1 0 7.2 0a3.6 3.6 0 1 0-7.2 0M69.7 84.7a3.6 3.6 0 1 0 7.2 0a3.6 3.6 0 1 0-7.2 0M70.6 96.3a3.6 3.6 0 1 0 7.2 0a3.6 3.6 0 1 0-7.2 0M70 105.2a3.6 3.6 0 1 0 7.2 0a3.6 3.6 0 1 0-7.2 0M70.6 123.7a3.6 3.6 0 1 0 7.2 0a3.6 3.6 0 1 0-7.2 0M69.7 133.1a3.6 3.6 0 1 0 7.2 0a3.6 3.6 0 1 0-7.2 0M70.7 148.6a3.6 3.6 0 1 0 7.2 0a3.6 3.6 0 1 0-7.2 0M69.6 156.3a3.6 3.6 0 1 0 7.2 0a3.6 3.6 0 1 0-7.2 0M70.8 164.2a3.6 3.6 0 1 0 7.2 0a3.6 3.6 0 1 0-7.2 0M69.2 171.3a3.6 3.6 0 1 0 7.2 0a3.6 3.6 0 1 0-7.2 0M71.2 181.2a3.6 3.6 0 1 0 7.2 0a3.6 3.6 0 1 0-7.2 0M69.6 186.8a3.6 3.6 0 1 0 7.2 0a3.6 3.6 0 1 0-7.2 0M71.6 191.4a3.6 3.6 0 1 0 7.2 0a3.6 3.6 0 1 0-7.2 0M68.5 194.6a3.6 3.6 0 1 0 7.2 0a3.6 3.6 0 1 0-7.2 0M71.9 197.6a3.6 3.6 0 1 0 7.2 0a3.6 3.6 0 1 0-7.2 0M103.7 170.1a3.6 3.6 0 1 0 7.2 0a3.6 3.6 0 1 0-7.2 0M103.2 174.7a3.6 3.6 0 1 0 7.2 0a3.6 3.6 0 1 0-7.2 0M103.7 178.4a3.6 3.6 0 1 0 7.2 0a3.6 3.6 0 1 0-7.2 0M103.3 182.1a3.6 3.6 0 1 0 7.2 0a3.6 3.6 0 1 0-7.2 0M103.8 187.1a3.6 3.6 0 1 0 7.2 0a3.6 3.6 0 1 0-7.2 0M103.1 191a3.6 3.6 0 1 0 7.2 0a3.6 3.6 0 1 0-7.2 0M103.8 195.4a3.6 3.6 0 1 0 7.2 0a3.6 3.6 0 1 0-7.2 0M102.8 199.4a3.6 3.6 0 1 0 7.2 0a3.6 3.6 0 1 0-7.2 0M131.7 162.8a3.6 3.6 0 1 0 7.2 0a3.6 3.6 0 1 0-7.2 0M131.9 167.1a3.6 3.6 0 1 0 7.2 0a3.6 3.6 0 1 0-7.2 0M132.2 171.9a3.6 3.6 0 1 0 7.2 0a3.6 3.6 0 1 0-7.2 0M131.8 176.1a3.6 3.6 0 1 0 7.2 0a3.6 3.6 0 1 0-7.2 0M132.1 180.4a3.6 3.6 0 1 0 7.2 0a3.6 3.6 0 1 0-7.2 0M131.4 185.2a3.6 3.6 0 1 0 7.2 0a3.6 3.6 0 1 0-7.2 0M132.4 189.4a3.6 3.6 0 1 0 7.2 0a3.6 3.6 0 1 0-7.2 0M131.3 193.7a3.6 3.6 0 1 0 7.2 0a3.6 3.6 0 1 0-7.2 0M132.7 198.4a3.6 3.6 0 1 0 7.2 0a3.6 3.6 0 1 0-7.2 0M157.8 198.9a3.6 3.6 0 1 0 7.2 0a3.6 3.6 0 1 0-7.2 0M157.7 198.9a3.6 3.6 0 1 0 7.2 0a3.6 3.6 0 1 0-7.2 0M158.4 200.4a3.6 3.6 0 1 0 7.2 0a3.6 3.6 0 1 0-7.2 0M157.5 200a3.6 3.6 0 1 0 7.2 0a3.6 3.6 0 1 0-7.2 0M158.2 201.7a3.6 3.6 0 1 0 7.2 0a3.6 3.6 0 1 0-7.2 0M157.5 201.1a3.6 3.6 0 1 0 7.2 0a3.6 3.6 0 1 0-7.2 0M181.8 173.7a3.6 3.6 0 1 0 7.2 0a3.6 3.6 0 1 0-7.2 0M181.7 175.9a3.6 3.6 0 1 0 7.2 0a3.6 3.6 0 1 0-7.2 0M182.1 179.2a3.6 3.6 0 1 0 7.2 0a3.6 3.6 0 1 0-7.2 0M181.5 181.6a3.6 3.6 0 1 0 7.2 0a3.6 3.6 0 1 0-7.2 0M182.4 184.5a3.6 3.6 0 1 0 7.2 0a3.6 3.6 0 1 0-7.2 0M181.5 187.4a3.6 3.6 0 1 0 7.2 0a3.6 3.6 0 1 0-7.2 0M182.4 189.1a3.6 3.6 0 1 0 7.2 0a3.6 3.6 0 1 0-7.2 0M181.6 191.6a3.6 3.6 0 1 0 7.2 0a3.6 3.6 0 1 0-7.2 0M182.6 194.2a3.6 3.6 0 1 0 7.2 0a3.6 3.6 0 1 0-7.2 0M181.5 197a3.6 3.6 0 1 0 7.2 0a3.6 3.6 0 1 0-7.2 0M182.8 200a3.6 3.6 0 1 0 7.2 0a3.6 3.6 0 1 0-7.2 0M226.1 193a3.6 3.6 0 1 0 7.2 0a3.6 3.6 0 1 0-7.2 0M226.2 192.5a3.6 3.6 0 1 0 7.2 0a3.6 3.6 0 1 0-7.2 0M226.3 194.3a3.6 3.6 0 1 0 7.2 0a3.6 3.6 0 1 0-7.2 0M225.8 194.5a3.6 3.6 0 1 0 7.2 0a3.6 3.6 0 1 0-7.2 0M226.9 195.5a3.6 3.6 0 1 0 7.2 0a3.6 3.6 0 1 0-7.2 0M225.8 195.5a3.6 3.6 0 1 0 7.2 0a3.6 3.6 0 1 0-7.2 0M226.7 196a3.6 3.6 0 1 0 7.2 0a3.6 3.6 0 1 0-7.2 0M225.8 196.4a3.6 3.6 0 1 0 7.2 0a3.6 3.6 0 1 0-7.2 0M226.2 197.5a3.6 3.6 0 1 0 7.2 0a3.6 3.6 0 1 0-7.2 0M225.4 197.9a3.6 3.6 0 1 0 7.2 0a3.6 3.6 0 1 0-7.2 0M226.7 199.3a3.6 3.6 0 1 0 7.2 0a3.6 3.6 0 1 0-7.2 0M225.3 199a3.6 3.6 0 1 0 7.2 0a3.6 3.6 0 1 0-7.2 0M226.5 200.4a3.6 3.6 0 1 0 7.2 0a3.6 3.6 0 1 0-7.2 0M225.4 200.1a3.6 3.6 0 1 0 7.2 0a3.6 3.6 0 1 0-7.2 0M226.7 201a3.6 3.6 0 1 0 7.2 0a3.6 3.6 0 1 0-7.2 0M225.3 201.2a3.6 3.6 0 1 0 7.2 0a3.6 3.6 0 1 0-7.2 0M266.6 198a3.6 3.6 0 1 0 7.2 0a3.6 3.6 0 1 0-7.2 0M266.8 198a3.6 3.6 0 1 0 7.2 0a3.6 3.6 0 1 0-7.2 0M267 199a3.6 3.6 0 1 0 7.2 0a3.6 3.6 0 1 0-7.2 0M266.3 199.7a3.6 3.6 0 1 0 7.2 0a3.6 3.6 0 1 0-7.2 0M267.3 200.9a3.6 3.6 0 1 0 7.2 0a3.6 3.6 0 1 0-7.2 0M266.2 200.6a3.6 3.6 0 1 0 7.2 0a3.6 3.6 0 1 0-7.2 0M267.6 201.8a3.6 3.6 0 1 0 7.2 0a3.6 3.6 0 1 0-7.2 0M266.1 202a3.6 3.6 0 1 0 7.2 0a3.6 3.6 0 1 0-7.2 0" fill="none" stroke="#000" stroke-width="1.5"/>
<path d="M19.6 197.8 24.8 198.3 28.3 198.5 29.1 198.4 29.7 198.2 30 197.8 30.3 197.2 30.6 194.5 30.8 189.7 31.4 161.7 32 193.8 32.4 197.3 32.6 198 33.1 198.6 34 199 35.6 199.4 45 200.5 56.6 201.1 65.6 201.3 68.3 201.1 69.9 200.6 70.5 200.1 71 199.6 71.7 197.9 72.2 194.9 72.6 190.3 72.9 175.3 73.2 141.2 73.7 29.2 73.8 11.4 74.5 149.1 74.8 183.5 75.1 191.3 75.5 196.1 75.9 197.9 76.3 199 76.7 199.9 77.3 200.7 78.7 201.5 80.8 202 92.1 203 95 203.2 102.9 203.4 104.7 203.3 105.6 202.8 106 202.2 106.2 201.6 106.4 198.8 107.1 169.8 107.6 197.8 107.9 201.4 108.1 202.2 108.4 202.9 109.2 203.4 110.7 203.7 120 204.1 130.7 204.1 132.5 204 133.5 203.7 134 203.2 134.4 202.3 134.7 199.1 135.4 168 135.9 192.1 136.2 199.9 136.3 201.7 136.7 203 137.2 203.6 138.1 204 140.5 204.3 146.4 204.4 156.5 204.5 159.5 204.4 160.1 204.1 160.5 203.6 161.2 200.4 161.4 200.1 161.6 200.4 162.3 203.6 162.7 204.1 163.3 204.4 166.9 204.6 179.5 204.7 182.3 204.5 183.7 204.2 184.1 203.8 184.5 203.1 184.8 200.2 185.6 177.2 186.3 200.9 186.4 202.5 186.7 203.5 187.2 204.1 188 204.4 189.2 204.6 191.5 204.7 205 204.9 222.8 204.9 225.6 204.9 227 204.7 227.9 204.2 228.4 203.3 228.7 201.5 229.4 196.1 229.6 195.2 229.6 195.2 230.5 201.5 230.8 203.3 231.3 204.3 231.8 204.6 232.5 204.8 237.5 205 248 205 248.7 204.8 249.1 204.6 250.2 203.3 250.6 203.1 251.9 204.6 252.4 204.9 253 205 260.4 205.1 267.5 205.1 268.4 204.9 269 204.5 269.4 203.7 270.1 201.9 270.3 201.6 270.6 201.9 271.6 204.4 272 204.8 272.6 205 275.9 205.2 289 205.3" fill="none" stroke="#ff0000" stroke-width="1.5" stroke-linejoin="round" />
</g>
<line x1="30.6" y1="214.9" x2="30.6" y2="220.9" stroke="#1f9a1f" stroke-width="1.9" />
<line x1="72.81" y1="214.9" x2="72.81" y2="220.9" stroke="#1f9a1f" stroke-width="1.9" />
<line x1="106.3" y1="214.9" x2="106.3" y2="220.9" stroke="#1f9a1f" stroke-width="1.9" />
<line x1="134.9" y1="214.9" x2="134.9" y2="220.9" stroke="#1f9a1f" stroke-width="1.9" />
<line x1="160.59" y1="214.9" x2="160.59" y2="220.9" stroke="#1f9a1f" stroke-width="1.9" />
<line x1="185.01" y1="214.9" x2="185.01" y2="220.9" stroke="#1f9a1f" stroke-width="1.9" />
<line x1="228.3" y1="214.9" x2="228.3" y2="220.9" stroke="#1f9a1f" stroke-width="1.9" />
<line x1="249.49" y1="214.9" x2="249.49" y2="220.9" stroke="#1f9a1f" stroke-width="1.9" />
<line x1="269.69" y1="214.9" x2="269.69" y2="220.9" stroke="#1f9a1f" stroke-width="1.9" />
<line x1="289.31" y1="214.9" x2="289.31" y2="220.9" stroke="#1f9a1f" stroke-width="1.9" />
<path d="M19.6 232.4 20 232.6 20.1 232.3 20.3 232.7 20.4 232.3 20.5 232.7 20.8 232.2 20.9 232.7 20.9 232.4 21.1 232.6 21.2 232.3 21.4 232.3 21.6 232.6 22 232.4 22.1 232.8 22.3 232.2 22.5 232.7 22.6 232.3 22.7 232.6 22.8 232.3 23 232.8 23.1 232.4 23.2 232.7 23.4 232.4 23.5 232.5 23.6 232.4 23.7 232.6 23.8 232.3 24 232.3 24.2 232.6 24.4 232.3 24.5 232.6 24.6 232.3 24.8 232.6 25.3 232.5 25.4 232.4 25.6 232.4 25.7 232.8 25.9 232.5 26.2 232.5 26.2 232.6 26.3 232.5 26.4 232.6 26.5 232.4 26.7 232.6 26.8 232.3 27 232.5 27.2 232.2 27.3 232.7 27.5 232.3 27.6 232.6 27.7 232.2 27.8 232.6 28 232.6 28.2 232.2 28.3 232.7 28.4 232.4 28.5 232.4 28.6 232.7 28.7 232.4 28.9 232.5 29 232.3 29.2 232.7 29.4 232.1 29.6 232.6 29.7 232.4 29.8 232.7 29.9 232.2 30 232.7 30.1 232.5 30.4 232.6 30.6 232.4 30.6 232.6 30.8 232.3 30.9 232.6 31.1 231.3 31.4 226.4 31.8 232.7 31.9 232.2 32.2 232.7 32.3 232.5 32.6 232.3 32.7 232.7 32.9 232.6 33 232.4 33.1 232.9 33.2 232.2 33.5 232.6 33.6 232.3 33.8 232.8 33.9 232.4 34.1 232.2 34.1 232.5 34.5 232.7 34.6 232.5 34.7 232.6 34.8 232.4 35 232.5 35 232.4 35.2 232.7 35.4 232.4 35.6 232.7 35.7 232.4 36 232.7 36.2 232.3 36.3 232.7 36.4 232.5 36.5 232.6 36.6 232.5 36.8 232.7 36.9 232.5 37.3 232.6 37.5 232.2 37.6 232.6 37.8 232.7 38 232.4 38.1 232.6 38.2 232.5 38.3 232.7 38.4 232.5 38.6 232.5 38.7 232.3 38.8 232.5 38.9 232.2 39.2 232.8 39.4 232.3 39.5 232.8 39.6 232.3 39.7 232.6 39.8 232.2 40 232.6 40.3 232.4 40.4 232.7 40.8 232.4 40.9 232.7 41 232.7 41.1 232.4 41.2 232.7 41.3 232.4 41.4 232.8 41.6 232.5 41.8 232.7 41.9 232.3 42 232.6 42.1 232.5 42.2 232.6 42.5 232.3 42.7 232.6 42.9 232.5 43 232.7 43.2 232.4 43.4 232.7 43.5 232.4 43.7 232.5 43.8 232.3 43.8 232.6 43.9 232.2 44 232.7 44.2 232.3 44.3 232.5 44.4 232.2 44.5 232.6 44.6 232.6 44.7 232.4 44.8 232.6 44.9 232.4 45.2 232.7 45.3 232.4 45.5 232.7 45.6 232.1 45.6 232.5 45.8 232.2 45.9 232.8 46 232.5 46.1 232.7 46.2 232.5 46.3 232.6 46.5 232.4 46.7 232.7 46.8 232.5 47.1 232.5 47.2 232.3 47.3 232.7 47.3 232.4 47.5 232.5 47.6 232.6 47.8 232.5 48.3 232.7 48.5 232.3 48.7 232.8 49 232.2 49.1 232.6 49.1 232.3 49.2 232.8 49.3 232.1 49.5 232.6 49.7 232.4 49.8 232.5 49.9 232.4 50.1 232.4 50.3 232.6 50.6 232.4 50.7 232.6 50.8 232.3 50.9 232.6 50.9 232 51.2 232.7 51.4 232.3 51.6 232.7 51.9 232.3 52.1 232.8 52.2 232.4 52.3 232.6 52.4 232.4 52.5 232.7 52.7 232.2 53 232.7 53.1 232.3 53.2 232.6 53.5 232.2 53.7 232.7 53.8 232.3 54 232.7 54.1 232.2 54.2 232.6 54.3 232.4 54.4 232.6 54.5 232.5 54.8 232.6 55.1 232.3 55.2 232.7 55.3 232.3 55.4 232.8 55.6 232.4 55.8 232.4 55.9 232.6 56.1 232.5 56.1 232.9 56.2 232.4 56.5 232.5 56.7 232.5 56.8 232.6 57 232.4 57 232.1 57.1 232.6 57.2 232.4 57.4 232.5 57.5 232.3 57.9 232.5 57.9 232.4 58 232.5 58.1 232.3 58.3 232.5 58.5 232.3 58.8 232.6 59 232.1 59.1 232.5 59.2 232 59.4 231.9 59.5 231.6 59.6 231.9 59.8 231.4 60.1 231.7 60.2 232.1 60.4 231.6 60.6 232.3 60.7 232.2 60.8 232.4 60.9 232.3 61.1 232.7 61.3 232.2 61.4 232.7 61.7 232.3 61.8 232.6 62.1 232.4 62.3 232.4 62.4 232.7 62.5 232.2 62.7 232.5 62.8 232.5 62.9 232.3 63.4 232.6 63.8 232.4 64 232.6 64.4 232.6 64.5 232.3 64.8 232.6 64.9 232.4 64.9 232.5 65 232.4 65.2 232.6 65.3 232.5 65.6 232.6 65.7 232.4 65.8 232.5 65.9 232.3 66.1 232.6 66.2 232.4 66.3 232.7 66.4 232.4 66.5 232.6 66.7 232.2 66.7 232.5 66.8 232.3 67.1 232.8 67.3 232.3 67.5 232.7 67.6 232.5 67.6 232.8 67.7 232.4 67.9 232.3 68.1 232.7 68.2 232.3 68.3 232.6 68.6 232.5 68.7 232.8 68.8 232.3 69 232.7 69.1 232.6 69.2 232.7 69.3 232 69.3 232.4 69.4 232.3 69.7 232.6 69.8 232.4 69.9 232.6 70 232.2 70.1 232.6 70.2 232.2 70.4 232.2 70.7 232.7 71 232.1 71.1 232.4 71.1 232.3 71.2 232.5 71.3 232.4 71.4 232.9 71.5 232.2 71.7 232.8 71.9 232.4 72 232.7 72 232.2 72.3 232.5 72.4 232.6 72.5 232.5 72.6 232.8 72.7 232.4 72.9 232.3 72.9 232.4 73.1 232.2 73.5 234.4 73.7 237.4 74 238.4 74.7 234.4 75.1 233.9 75.2 233.9 75.5 233.1 75.6 233.2 75.7 232.9 75.9 232.8 76.1 233 76.2 232.6 76.3 232.9 76.6 232.3 76.8 232.7 76.9 232.3 77.2 232.6 77.3 232.3 77.5 232.8 77.6 232.5 77.7 232.6 78.1 232.4 78.3 232.7 78.6 232.4 78.7 232.6 78.8 232 79 232.4 79 232.2 79.1 232.6 79.3 232.4 79.4 232.5 79.5 232.3 79.7 232.4 79.8 232.3 79.9 232.7 79.9 232.4 80 232.7 80.3 232.4 80.7 232.7 80.8 232.4 81 232.6 81.2 232.4 81.5 232.5 81.6 232.4 81.7 232.6 81.9 232.4 82 232.6 82.3 232.6 82.4 232.4 82.6 232.5 82.7 232.2 82.8 232.5 83 232.6 83.2 232.5 83.4 232.1 83.6 232.7 83.7 232.8 83.8 232.3 84 232.7 84.2 232.2 84.3 232.7 84.4 232.4 84.5 232.8 84.6 232.6 84.8 232.7 85 232.4 85.1 232.6 85.2 232.5 85.2 232.6 85.4 232.4 85.5 232.5 86 232.5 86.1 232.3 86.1 232.6 86.2 232.3 86.3 232.8 86.4 232.4 86.6 232.7 86.9 232.3 86.9 232.5 87.1 232.6 87.3 232.4 87.5 232.7 87.6 232.4 87.7 233 87.8 232.4 87.9 232.8 88.1 232.6 88.3 232.7 88.4 232.1 88.5 232.6 88.7 232.4 88.9 232.6 89 232.4 89.1 232.7 89.2 232.2 89.5 232.5 89.6 232.4 89.6 232.6 89.7 232.4 89.8 232.7 90.1 232.2 90.3 232.3 90.4 232.7 90.5 232.3 90.6 232.8 90.8 232.2 91 232.7 91.2 232.4 91.3 232.7 91.4 232.4 91.5 232.6 91.8 232.3 91.9 232.6 92 232.2 92.1 232.5 92.2 232.6 92.3 232.4 92.5 232.6 92.6 232.3 92.8 232.6 92.9 232.3 93.1 232.7 93.2 232.4 93.3 232.6 93.6 232.7 93.7 232.1 94 232.7 94.1 232.3 94.2 232.5 94.5 232.3 94.6 232.6 94.8 232.6 94.9 232.2 95.1 232.6 95.2 232.2 95.4 232.8 95.5 232.4 95.7 232.6 95.8 232.4 96.3 232.6 96.4 232.7 96.5 232.2 96.6 232.7 96.7 232.5 96.9 232.6 97.1 232.5 97.2 232.5 97.4 232.3 97.7 232.6 97.8 232.5 97.9 232.7 98 232.5 98.3 232.4 98.4 232.7 98.5 232.3 98.6 232.6 98.7 232.5 98.8 232.6 98.9 232.4 99 232.6 99.1 232.4 99.2 232.6 99.3 232.2 99.4 232.6 99.5 232.3 99.6 232.6 99.7 232.3 99.8 232.7 99.9 232.5 100.1 232.6 100.2 232.3 100.2 232.7 100.4 232.4 100.5 232.6 100.8 232.4 100.9 232.7 101 232.5 101.1 232.8 101.3 232.4 101.4 232.7 101.5 232.3 101.7 233 101.8 232.4 101.9 232.6 101.9 232.4 102.1 232.5 102.2 232.1 102.4 232.6 102.6 232.6 102.7 232.4 102.8 232.6 102.9 232.4 103.1 232.9 103.2 232.4 103.3 232.7 103.5 232.3 103.8 232.5 104 232.4 104.1 232.7 104.3 232.4 104.5 232.8 104.6 232.3 104.8 232.8 105.1 232.2 105.2 232.7 105.3 232.5 105.4 232.6 105.4 232.5 105.5 232.7 105.9 232.2 106 232.4 106.1 232.3 106.2 231.8 106.6 231.2 106.9 230 107 230.2 107.1 230 107.2 229.9 107.4 230.8 107.5 230.7 107.7 231.1 107.8 231.8 107.9 231.8 108.2 232.6 108.3 232.1 108.4 232.5 108.5 232.4 108.7 232.4 108.8 232.6 108.9 232.3 109 232.6 109.1 232.4 109.3 232.6 109.6 232.5 109.7 232.4 109.8 232.6 109.9 232.3 110 232.6 110.1 232.3 110.4 232.6 110.5 232.4 110.7 232.5 110.8 232.4 111 232.7 111.3 232.4 111.6 232.3 111.8 232.6 111.9 232.4 112 232.5 112.1 232.3 112.3 232.9 112.4 232.5 112.6 232.6 112.8 232.3 112.9 232.6 113 232.3 113.1 232.5 113.2 232.4 113.4 232.7 113.5 232.5 113.7 232.5 113.9 232.2 114 232.5 114.1 232.2 114.2 232.6 114.2 232.4 114.3 232.5 114.4 232.3 114.7 232.7 115 232.3 115.1 232.6 115.2 232.4 115.3 232.7 115.4 232.4 115.5 232.8 115.6 232.4 115.8 232.5 115.9 232.3 116 232.5 116.1 232.2 116.2 232.4 116.3 232.3 116.5 232.7 116.6 232.4 116.8 232.5 116.9 232.3 116.9 232.5 117.2 232.2 117.5 232.7 117.6 232.4 117.7 232.5 117.9 232.2 118 232.7 118.1 232.3 118.3 232.7 118.4 232.4 118.6 232.5 118.8 232.4 118.9 232.7 119.2 232.3 119.5 232.4 119.5 232.6 119.6 232.4 119.8 232.5 119.9 232.2 120 232.6 120.2 232.7 120.3 232.4 120.4 232.5 120.6 232.3 120.7 232.6 121 232.3 121.1 232.6 121.3 232.4 121.4 232.7 121.5 232.4 121.7 232.7 121.9 232.3 122.1 232.7 122.2 232.3 122.2 232.8 122.3 232.5 122.5 232.7 122.6 232.5 122.7 232.7 122.8 232.5 123.1 232.6 123.3 232.5 123.4 232.6 123.5 232.5 123.6 232.7 123.9 232.4 124 232.7 124.6 232.2 124.7 232.5 124.8 232.5 124.9 232.6 125 232.4 125.1 232.8 125.2 232.3 125.3 232.5 125.4 232.3 125.6 232.7 125.7 232.3 125.7 232.5 126.4 232.6 126.6 232.3 126.7 232.6 126.8 232.4 126.9 232.7 127.1 232.3 127.2 232.7 127.4 232.3 127.4 232.7 127.5 232.3 127.6 232.7 127.7 232.4 127.8 232.6 127.9 232.5 128 232.2 128.1 232.5 128.2 232.4 128.4 232.7 128.5 232.5 128.6 232.5 128.7 232.8 129 232.3 129.1 232.3 129.3 232.6 129.4 232.9 129.5 232.3 129.9 232.7 130.1 232.4 130.1 232.8 130.3 232.3 130.5 232.5 130.6 232.3 130.7 232.6 131 232.4 131 232.7 131.3 232.2 131.6 232.7 131.8 232.2 131.8 232.5 132 232.6 132.1 232.4 132.2 232.5 132.3 232.2 132.7 232.7 132.8 232.3 132.9 232.7 133 232.4 133.2 232.6 133.3 232.1 133.6 232.5 133.8 232 133.9 232.2 134 231.9 134.1 232 135 228.5 135.4 227.9 135.7 228.2 135.8 228.7 135.9 228.6 136.4 231 136.7 231.3 136.9 232.2 137 232.1 137.1 232.4 137.3 232.2 137.5 232.5 137.6 232.4 137.8 232.6 138 232.3 138.1 232.6 138.3 232.3 138.7 232.5 138.8 232.3 138.9 232.5 139.1 232.2 139.5 232.6 139.7 232.5 139.8 232.3 139.9 232.6 140.4 232.3 140.5 232.4 140.7 232.2 140.7 232.6 140.9 232.6 141 232.4 141.2 232.6 141.4 232.2 141.5 232.8 141.8 232.4 142 232.5 142.1 232.3 142.4 232.7 142.6 232.3 142.7 232.8 142.8 232.5 142.9 232.6 143.1 232.3 143.2 232.8 143.4 232.4 143.6 232.7 143.7 232.4 144 232.3 144.1 232.6 144.2 232.2 144.3 232.7 144.5 232.7 144.6 232.2 144.8 232.7 144.9 232.3 145.1 232.5 145.1 232.2 145.2 232.5 145.5 232.7 145.6 232.5 145.9 232.3 146.5 232.6 146.7 232.2 146.8 232.8 147 232.4 147.3 232.4 147.6 232.7 147.7 232.4 147.8 232.4 148 232.7 148.1 232.4 148.2 232.8 148.5 232.4 148.7 232.5 148.8 232.2 148.9 232.6 149 232.2 149.2 232.7 149.3 232.5 149.5 232.5 149.9 232.7 150.3 232.3 150.4 232.4 150.5 232.8 150.6 232.6 150.7 232.8 150.8 232.2 151 232.7 151.2 232.4 151.6 232.7 151.7 232.5 152 232.6 152.1 232.4 152.1 232.6 152.2 232.5 152.3 232.6 152.4 232.4 152.6 232.5 152.7 232.4 152.8 232.7 153 232.5 153 232.7 153.1 232.5 153.4 232.9 153.5 232.5 153.6 232.8 153.8 232.4 153.9 232.7 154 232.5 154.1 232.6 154.3 232.2 154.4 232.6 154.5 232.3 154.6 232.5 154.7 232.4 154.8 232.6 154.9 232.3 155.2 232.7 155.4 232.4 155.5 232.4 155.6 232.8 155.6 232.4 155.8 232.5 156.1 232.2 156.3 232.6 156.5 232.2 156.5 232.7 156.6 232.3 156.7 232.4 156.8 232.7 157 232.5 157.1 232.7 157.2 232.5 157.3 232.6 157.4 232.4 157.6 232.7 157.9 232.2 158.1 232.6 158.2 232.4 158.3 232.6 158.4 232.4 158.6 232.5 158.7 232.2 158.9 232.7 159.1 232.5 159.3 232.7 159.5 232.4 160 232.5 160 232.1 160.1 232.5 160.3 232.3 160.4 232.5 160.5 232.4 160.6 232.7 160.7 232.3 160.9 232.5 161 232.3 161.1 232.5 161.4 232.3 161.6 232.7 161.7 232.4 161.8 232.7 162 232.4 162.3 232.9 162.4 232.5 162.5 232.6 162.7 232.6 162.7 232.4 162.9 232.7 163 232.4 163.1 232.5 163.2 232.4 163.5 232.6 163.5 232.4 163.7 232.4 163.9 232.5 164 232.8 164.1 232.4 164.2 232.6 164.4 232.4 164.4 232.7 164.6 232.6 164.7 232.3 164.8 232.9 165.1 232.3 165.3 232.5 165.3 232.4 165.4 232.5 165.5 232.4 165.6 232.9 165.7 232.5 165.8 232.4 165.9 232.8 166 232.6 166.2 232.6 166.3 232.4 166.4 232.5 166.6 232.3 166.9 232.7 167.1 232.5 167.2 232.6 167.3 232.2 167.4 232.4 167.5 232.2 168 232.7 168.3 232.5 168.4 232.8 168.6 232.4 168.8 232.6 168.9 232.5 169 232.7 169.1 232.3 169.3 232.7 169.4 232.4 169.5 232.5 169.7 232.5 169.7 232.2 169.8 232.5 170.1 232.6 170.4 232.5 170.5 232.8 170.7 232.5 170.8 232.7 171 232.5 171.3 232.5 171.4 232.8 171.5 232.3 171.5 232.6 171.6 232.4 171.8 232.6 171.9 232.3 172.1 232.3 172.3 232.7 172.4 232.4 172.5 232.6 172.6 232.3 172.7 232.8 172.8 232.4 173.1 232.5 173.2 232.3 173.3 232.6 173.6 232.3 173.8 232.7 173.9 232.2 174.1 232.5 174.1 232.4 174.6 232.6 174.9 232.1 175 232.5 175.1 232.6 175.2 232.4 175.3 232.8 175.4 232.3 175.5 232.6 175.8 232.7 176 232.5 176.1 232.6 176.3 232.6 176.5 232.3 176.7 232.6 176.7 232.3 177.2 232.6 177.3 232.5 177.5 232.7 177.6 232.5 177.6 232.8 177.9 232.2 178 232.5 178.2 232.4 178.3 232.5 178.4 232.3 178.5 232.5 178.5 232.2 178.7 232.7 179.1 232.3 179.2 232.7 179.4 232.5 179.5 232.7 179.6 232.4 179.8 232.6 179.9 232.4 180 232.7 180.1 232.5 180.2 232.6 180.3 232.3 180.6 232.7 180.8 232.5 180.9 232.6 181 232.5 181.2 232.6 181.2 232.4 181.3 232.6 181.4 232.3 181.6 232.6 181.7 232.4 181.8 232.6 182 232.5 182 232.7 182.2 232.4 182.4 232.5 182.5 232.3 182.6 232.7 182.8 232.2 182.9 232.7 183 232.5 183.1 232.8 183.2 232.5 183.5 232.8 183.6 232.4 183.7 232.6 183.8 232.3 183.8 232.4 183.9 232.2 184 232.6 184.1 232.4 184.2 232.4 184.3 232.8 184.6 232.2 184.7 232.2 185 228.6 185.6 234.7 185.6 234.8 185.9 232.8 186.1 232.3 186.2 232.6 186.4 232.3 186.6 232.6 186.8 232.5 187.1 232.6 187.3 232.3 187.5 232.7 187.6 232.4 187.7 232.3 187.8 232.6 188 232.4 188.2 232.4 188.3 232.9 188.4 232.4 188.5 232.5 188.6 232.4 188.8 232.6 189.1 232.3 189.1 232.6 189.4 232.6 189.5 232.4 189.6 232.7 189.7 232.4 189.9 232.3 190 232.9 190.1 232.5 190.3 232.7 190.5 232.3 190.7 232.4 190.8 232.2 191 232.8 191.5 232.2 191.6 232.5 191.7 232.1 191.8 232.7 191.9 232.4 192 232.5 192.2 232.2 192.3 232.5 192.4 232.4 192.6 232.6 192.7 232.4 192.9 232.6 193 232.4 193.2 232.6 193.5 232.3 193.6 232.7 193.7 232.4 193.9 232.3 194.2 232.5 194.4 232.3 194.4 232.8 194.6 232.4 194.9 232.6 195.1 232.4 195.2 232.6 195.2 232.3 195.4 232.7 195.8 232.3 196.1 232.7 196.1 232.4 196.2 232.5 196.4 232.4 196.5 232.8 196.8 232.3 197 232.6 197.1 232.2 197.2 232.7 197.3 232.3 197.4 232.6 197.5 232.4 197.7 232.6 197.8 232.3 198.1 232.6 198.3 232.3 198.4 232.7 198.5 232.4 198.6 232.5 198.7 232.2 198.8 232.6 198.9 232.4 199.2 232.7 199.5 232.1 199.6 232.4 199.6 232.2 199.7 232.6 199.8 232.2 199.9 232.6 200.1 232.2 200.3 232.6 200.8 232.5 200.9 232.3 201 232.6 201.1 232.3 201.2 232.5 201.3 232.3 201.4 232.6 201.5 232.3 201.8 232.6 202.1 232.4 202.2 232.2 202.3 232.5 202.3 232.6 202.4 232.3 202.6 232.6 202.9 232.6 203 232.4 203.1 232.8 203.2 232.4 203.3 232.7 203.4 232.4 203.5 232.6 203.6 232.4 203.8 232.7 203.9 232.4 204 232.6 204.5 232.4 204.8 232.6 204.9 232.6 205 232.4 205.1 232.8 205.2 232.4 205.3 232.6 205.5 232.5 205.6 232.8 205.8 232.3 205.8 232.6 205.9 232.4 206 232.8 206.1 232.4 206.2 232.5 206.4 232.4 206.7 232.7 206.8 232.4 206.9 232.6 207 232.5 207.1 232.7 207.2 232.3 207.3 232.6 207.4 232.3 207.6 232.3 207.7 232.6 208 232.3 208.3 232.6 208.5 232.5 208.6 232.6 208.7 232.4 208.8 232.5 208.9 232.3 209.1 232.6 209.3 232.4 209.5 232.8 209.6 232.6 209.8 232.5 209.9 232.7 210 232.4 210.1 232.9 210.2 232.5 210.3 232.7 210.4 232.3 210.7 232.5 210.8 232.8 210.9 232.4 211 232.9 211.1 232.6 211.1 232.7 211.3 232.3 211.5 232.7 211.6 232.5 211.9 232.7 212.1 232.5 212.2 232.7 212.3 232.4 212.7 232.3 212.8 232.6 212.8 232.5 212.9 232.8 213 232.5 213.1 232.6 213.2 232.4 213.3 232.6 213.8 232.4 213.9 232.6 214.1 232.3 214.2 232.6 214.4 232.3 214.6 232.4 214.6 232.3 214.7 232.5 214.9 232.3 215.1 232.7 215.3 232.4 215.4 232.6 215.5 232.5 215.5 232.8 215.6 232.5 215.8 232.8 216.1 232.4 216.2 232.4 216.3 232.3 216.4 232.7 216.4 232.5 216.5 232.6 216.7 232.4 216.9 232.6 217.2 232.6 217.2 232.4 217.3 232.5 217.5 232.4 217.6 232.5 217.7 232.2 218 232.7 218.1 232.4 218.2 232.7 218.4 232.4 218.6 232.7 218.9 232.3 219 232.6 219 232.3 219.2 232.6 219.3 232.3 219.5 232.5 219.6 232.5 219.7 232.7 219.8 232.5 219.9 232.6 220 232.4 220.2 232.7 220.4 232.4 220.6 232.7 220.8 232.3 220.9 232.5 221 232.3 221.1 232.6 221.3 232.3 221.4 232.6 221.6 232.4 221.7 232.6 221.9 232.5 222.1 232.6 222.2 232.5 222.3 232.7 222.5 232.5 222.6 232.5 222.7 232.7 222.9 232.5 223.1 232.6 223.2 232.3 223.5 232.6 223.8 232.2 223.9 232.5 224.2 232.6 224.3 232.4 224.3 232.7 224.4 232.4 224.6 232.5 224.7 232.2 224.8 232.8 224.9 232.4 225 232.7 225.2 232.3 225.3 232.3 225.5 232.1 225.6 232.6 225.7 232.4 225.9 232.7 226 232.4 226.1 232.6 226.4 232.3 226.6 232.6 226.7 232.5 226.8 232.6 227.1 232.5 227.2 232.7 227.3 232.2 227.6 232.7 227.7 232.3 227.9 232.7 228.1 232.2 228.3 232.6 228.6 232.6 228.7 232.4 228.8 232.6 229.3 230 229.9 235 230.2 233.1 230.5 232.3 230.6 232.7 230.8 232.4 231 232.4 231.1 232.6 231.4 232.3 231.5 232.4 231.6 232.2 231.7 232.6 232.2 232.2 232.5 232.6 232.7 232.3 232.9 232.6 233 232.2 233.1 232.6 233.3 232.4 233.4 232.6 233.6 232.4 234 232.7 234.1 232.1 234.2 232.5 234.4 232.6 234.5 232.4 234.7 232.5 234.9 232.2 234.9 232.6 235.1 232.3 235.2 232.6 235.3 232.4 235.4 232.5 235.5 232.3 235.6 232.5 235.7 232.4 235.9 232.6 236 232.3 236.1 232.7 236.3 232.3 236.5 232.8 236.6 232.3 237.2 232.8 237.3 232.5 237.5 232.5 237.6 232.7 237.8 232.3 237.9 232.6 238 232.7 238.1 232.5 238.2 232.8 238.4 232.3 238.4 232.4 238.7 232.4 238.9 232.6 239 232.2 239.1 232.6 239.2 232.5 239.3 232.6 239.4 232.2 239.6 232.5 239.9 232.3 240.1 232.3 240.4 232.6 240.6 232.5 240.7 232.6 240.9 232.3 241 232.6 241.1 232.5 241.2 232.7 241.4 232.6 241.5 232.8 241.9 232.1 242.1 232.8 242.2 232.5 242.3 232.4 242.5 232.7 242.9 232.4 243 232.2 243.1 232.5 243.4 232.6 243.5 232.3 243.7 232.6 243.7 232.2 243.8 232.5 244 232.6 244.1 232.4 244.2 232.6 244.3 232.3 244.4 232.6 244.5 232.4 244.7 232.7 244.8 232.3 244.9 232.4 245 232.3 245.1 232.6 245.3 232.3 245.4 232.4 245.4 232.3 245.6 232.6 245.9 232.2 246 232.7 246.1 232.3 246.3 232.6 246.6 232.3 246.7 232.7 246.8 232.2 246.9 232.7 247.1 232.8 247.2 232.3 247.4 232.7 247.5 232.3 247.6 232.7 247.7 232.3 247.8 232.6 248.1 232.5 248.1 232.7 248.2 232.3 248.3 232.8 248.4 232.5 248.6 232.6 248.7 232.8 248.9 232.7 249 233.2 249.1 232.9 249.2 233.1 249.3 233 249.4 233.3 249.8 233.6 249.8 233.1 250.1 233.6 250.3 233.3 250.4 233.7 250.5 233.5 250.6 233.7 250.7 233.3 250.8 233.5 250.9 233.3 251.3 233.1 251.4 232.7 251.5 233.1 251.6 232.7 251.7 232.9 251.8 232.5 252 232.9 252.2 232.5 252.3 232.8 252.4 232.6 252.6 232.6 252.8 232.4 253.1 232.7 253.2 232.6 253.3 232.6 253.4 232.4 253.6 232.8 253.7 232.5 253.8 232.6 253.9 232.3 254 233 254.1 232.4 254.2 232.6 254.2 232.6 254.3 232.3 254.5 232.7 254.6 232.4 254.7 232.6 254.8 232.5 255 232.8 255.1 232.3 255.1 232.6 255.3 232.4 255.4 232.5 255.7 232.6 255.8 232.2 255.9 232.4 256 232.2 256.1 232.6 256.3 232.4 256.5 232.6 256.7 232.4 256.9 232.7 256.9 232.5 257.2 232.6 257.6 232.5 257.7 232.6 257.8 232.3 257.9 232.7 258 232.3 258.1 232.5 258.2 232.3 258.6 232.6 258.7 232.5 258.8 232.7 258.9 232.3 259 232.5 259.4 232.4 259.6 232.6 260 232.4 260.2 232.6 260.4 232.3 260.5 232.7 260.6 232.3 260.7 232.6 260.8 232.4 260.9 232.6 261 232.3 261.1 232.6 261.2 232.3 261.3 232.7 261.4 232.5 261.5 232.8 261.6 232.5 261.8 232.8 262.1 232.2 262.2 232.6 262.4 232.4 262.5 232.6 262.6 232.3 262.7 232.3 262.9 232.8 263 232.4 263.1 232.6 263.3 232.4 263.4 232.6 263.5 232.3 263.7 232.8 263.8 232.2 263.9 232.8 264 232.4 264.1 232.7 264.3 232.4 264.5 232.4 264.6 232.7 264.8 232.3 264.9 232.4 265 232.8 265.1 232.4 265.4 232.4 265.5 232.2 265.6 232.5 265.7 232.4 265.8 232.7 266 232.6 266.1 232.4 266.2 232.5 266.5 232.4 266.6 232.6 266.7 232.4 266.8 232.7 267.2 232.4 267.4 232.6 267.4 232.4 267.5 233.1 267.6 232.3 267.7 232.3 267.8 232.7 267.9 232.4 268.1 232.3 268.2 232.5 268.3 232.4 268.3 232.6 268.4 232.4 268.6 232.6 269.1 232.2 269.2 232.6 269.4 232.2 270.1 229.5 270.2 229.6 270.6 231.7 270.9 232.5 271 232.4 271 232.5 271.1 232.3 271.2 232.6 271.3 232.4 271.6 232.5 271.8 232.3 271.8 232.5 272 232.4 272.2 232.6 272.3 232.4 272.5 232.6 272.6 232.3 272.7 232.3 272.7 232.2 272.8 232.7 272.9 232.4 273.2 232.7 273.3 232.6 273.4 232.7 273.5 232.7 273.6 233 273.6 232.4 273.8 232.4 273.9 232.6 274 232.4 274.1 232.6 274.2 232.2 274.3 232.6 274.4 232.6 274.5 232.7 274.7 232.5 274.8 232.2 275.1 232.8 275.3 232.3 275.4 232.8 275.4 232.3 275.5 232.5 275.7 232 275.8 232.6 275.9 232.4 276 232.6 276.1 232.4 276.2 232.7 276.7 232.3 276.9 232.6 277 232.3 277.1 232.8 277.2 232.5 277.3 232.8 277.6 232.5 277.7 232.7 277.8 232.7 278 232.2 278.1 232.5 278.2 232.3 278.3 232.6 278.9 232.5 278.9 232.3 279.2 232.6 279.4 232.4 279.5 232.8 279.6 232.6 279.8 232.7 279.8 232.4 279.9 232.6 280.1 232.3 280.2 232.5 280.4 232.6 280.6 232.3 280.7 232.6 280.8 232.2 280.9 232.5 281.1 232.4 281.2 232.5 281.5 232.2 282 232.5 282.2 232.3 282.4 232.4 282.4 232.7 282.6 232.4 282.8 232.7 282.9 232.5 283 232.6 283.1 232.5 283.3 232.6 283.4 232.4 283.6 232.7 283.8 232.3 283.9 232.6 284.2 232.5 284.3 232.2 284.4 232.5 284.5 232.2 284.7 232.8 284.8 232.5 285 232.4 285 232.5 285.1 232.3 285.3 232.5 285.6 232.1 285.7 232.4 285.9 232.4 285.9 232.6 286 232.2 286.1 232.6 286.2 232.3 286.3 232.9 286.6 232.4 286.7 232.6 286.9 232.6 287.2 233.1 287.4 233 287.6 233.2 287.7 233.1 287.9 233.7 288.1 233.1 288.2 233.5 288.3 233.3 288.4 233.7 288.7 233 288.9 233.1 289 232.8" fill="none" stroke="#1010ff" stroke-width="1.4" stroke-linejoin="round" />
<text x="19.6" y="262.6" font-size="16.4" font-weight="bold" font-family='"Liberation Sans", sans-serif' fill="#000" text-anchor="middle" textLength="17.6" lengthAdjust="spacingAndGlyphs" >20</text>
<text x="64.5" y="262.6" font-size="16.4" font-weight="bold" font-family='"Liberation Sans", sans-serif' fill="#000" text-anchor="middle" textLength="17.6" lengthAdjust="spacingAndGlyphs" >30</text>
<text x="109.4" y="262.6" font-size="16.4" font-weight="bold" font-family='"Liberation Sans", sans-serif' fill="#000" text-anchor="middle" textLength="17.6" lengthAdjust="spacingAndGlyphs" >40</text>
<text x="154.3" y="262.6" font-size="16.4" font-weight="bold" font-family='"Liberation Sans", sans-serif' fill="#000" text-anchor="middle" textLength="17.6" lengthAdjust="spacingAndGlyphs" >50</text>
<text x="199.2" y="262.6" font-size="16.4" font-weight="bold" font-family='"Liberation Sans", sans-serif' fill="#000" text-anchor="middle" textLength="17.6" lengthAdjust="spacingAndGlyphs" >60</text>
<text x="244.1" y="262.6" font-size="16.4" font-weight="bold" font-family='"Liberation Sans", sans-serif' fill="#000" text-anchor="middle" textLength="17.6" lengthAdjust="spacingAndGlyphs" >70</text>
<text x="289" y="262.6" font-size="16.4" font-weight="bold" font-family='"Liberation Sans", sans-serif' fill="#000" text-anchor="middle" textLength="17.6" lengthAdjust="spacingAndGlyphs" >80</text>
<circle cx="288.9" cy="205.2" r="3.5" fill="#fff" stroke="#000" stroke-width="1.4"/>
<line x1="285.4" y1="205.2" x2="288.9" y2="205.2" stroke="#ff0000" stroke-width="1.4" />
<rect x="325.3" y="2" width="268.7" height="240.5" fill="none" stroke="#000" stroke-width="2.4"/>
<line x1="370.2" y1="242.5" x2="370.2" y2="237.3" stroke="#000" stroke-width="2" />
<line x1="414.9" y1="242.5" x2="414.9" y2="237.3" stroke="#000" stroke-width="2" />
<line x1="459.6" y1="242.5" x2="459.6" y2="237.3" stroke="#000" stroke-width="2" />
<line x1="504.3" y1="242.5" x2="504.3" y2="237.3" stroke="#000" stroke-width="2" />
<line x1="549" y1="242.5" x2="549" y2="237.3" stroke="#000" stroke-width="2" />
<line x1="593.7" y1="242.5" x2="593.7" y2="237.3" stroke="#000" stroke-width="2" />
<clipPath id="c325"><rect x="325.3" y="2" width="268.7" height="240.5"/></clipPath><g clip-path="url(#c325)">
<path d="M321.9 192.9a3.6 3.6 0 1 0 7.2 0a3.6 3.6 0 1 0-7.2 0M322.4 192.3a3.6 3.6 0 1 0 7.2 0a3.6 3.6 0 1 0-7.2 0M322.9 194.7a3.6 3.6 0 1 0 7.2 0a3.6 3.6 0 1 0-7.2 0M323.4 192.8a3.6 3.6 0 1 0 7.2 0a3.6 3.6 0 1 0-7.2 0M323.9 193.3a3.6 3.6 0 1 0 7.2 0a3.6 3.6 0 1 0-7.2 0M324.4 194.7a3.6 3.6 0 1 0 7.2 0a3.6 3.6 0 1 0-7.2 0M324.9 192.9a3.6 3.6 0 1 0 7.2 0a3.6 3.6 0 1 0-7.2 0M325.4 193.3a3.6 3.6 0 1 0 7.2 0a3.6 3.6 0 1 0-7.2 0M325.9 194.1a3.6 3.6 0 1 0 7.2 0a3.6 3.6 0 1 0-7.2 0M326.4 193.9a3.6 3.6 0 1 0 7.2 0a3.6 3.6 0 1 0-7.2 0M326.9 193.4a3.6 3.6 0 1 0 7.2 0a3.6 3.6 0 1 0-7.2 0M327.4 194.3a3.6 3.6 0 1 0 7.2 0a3.6 3.6 0 1 0-7.2 0M327.9 194.4a3.6 3.6 0 1 0 7.2 0a3.6 3.6 0 1 0-7.2 0M328.4 195.3a3.6 3.6 0 1 0 7.2 0a3.6 3.6 0 1 0-7.2 0M328.9 193.6a3.6 3.6 0 1 0 7.2 0a3.6 3.6 0 1 0-7.2 0M329.4 194.5a3.6 3.6 0 1 0 7.2 0a3.6 3.6 0 1 0-7.2 0M329.9 196a3.6 3.6 0 1 0 7.2 0a3.6 3.6 0 1 0-7.2 0M330.4 196.5a3.6 3.6 0 1 0 7.2 0a3.6 3.6 0 1 0-7.2 0M330.9 193.7a3.6 3.6 0 1 0 7.2 0a3.6 3.6 0 1 0-7.2 0M331.4 195.1a3.6 3.6 0 1 0 7.2 0a3.6 3.6 0 1 0-7.2 0M331.9 193.1a3.6 3.6 0 1 0 7.2 0a3.6 3.6 0 1 0-7.2 0M332.4 192.7a3.6 3.6 0 1 0 7.2 0a3.6 3.6 0 1 0-7.2 0M332.9 192.8a3.6 3.6 0 1 0 7.2 0a3.6 3.6 0 1 0-7.2 0M333.4 193.3a3.6 3.6 0 1 0 7.2 0a3.6 3.6 0 1 0-7.2 0M333.9 194.6a3.6 3.6 0 1 0 7.2 0a3.6 3.6 0 1 0-7.2 0M334.4 194.5a3.6 3.6 0 1 0 7.2 0a3.6 3.6 0 1 0-7.2 0M334.9 194.1a3.6 3.6 0 1 0 7.2 0a3.6 3.6 0 1 0-7.2 0M335.4 193.9a3.6 3.6 0 1 0 7.2 0a3.6 3.6 0 1 0-7.2 0M335.9 195.3a3.6 3.6 0 1 0 7.2 0a3.6 3.6 0 1 0-7.2 0M336.4 196.1a3.6 3.6 0 1 0 7.2 0a3.6 3.6 0 1 0-7.2 0M336.9 197.2a3.6 3.6 0 1 0 7.2 0a3.6 3.6 0 1 0-7.2 0M337.4 196.3a3.6 3.6 0 1 0 7.2 0a3.6 3.6 0 1 0-7.2 0M337.9 197.1a3.6 3.6 0 1 0 7.2 0a3.6 3.6 0 1 0-7.2 0M338.4 197.1a3.6 3.6 0 1 0 7.2 0a3.6 3.6 0 1 0-7.2 0M338.9 197.3a3.6 3.6 0 1 0 7.2 0a3.6 3.6 0 1 0-7.2 0M339.4 197.7a3.6 3.6 0 1 0 7.2 0a3.6 3.6 0 1 0-7.2 0M339.9 197.7a3.6 3.6 0 1 0 7.2 0a3.6 3.6 0 1 0-7.2 0M340.4 198.7a3.6 3.6 0 1 0 7.2 0a3.6 3.6 0 1 0-7.2 0M340.9 197.7a3.6 3.6 0 1 0 7.2 0a3.6 3.6 0 1 0-7.2 0M341.4 199a3.6 3.6 0 1 0 7.2 0a3.6 3.6 0 1 0-7.2 0M341.9 197.6a3.6 3.6 0 1 0 7.2 0a3.6 3.6 0 1 0-7.2 0M342.4 197.5a3.6 3.6 0 1 0 7.2 0a3.6 3.6 0 1 0-7.2 0M342.9 198.1a3.6 3.6 0 1 0 7.2 0a3.6 3.6 0 1 0-7.2 0M343.4 198.3a3.6 3.6 0 1 0 7.2 0a3.6 3.6 0 1 0-7.2 0M343.9 198.3a3.6 3.6 0 1 0 7.2 0a3.6 3.6 0 1 0-7.2 0M344.4 199.2a3.6 3.6 0 1 0 7.2 0a3.6 3.6 0 1 0-7.2 0M344.9 199.1a3.6 3.6 0 1 0 7.2 0a3.6 3.6 0 1 0-7.2 0M345.4 198.7a3.6 3.6 0 1 0 7.2 0a3.6 3.6 0 1 0-7.2 0M345.9 198.1a3.6 3.6 0 1 0 7.2 0a3.6 3.6 0 1 0-7.2 0M346.4 198.3a3.6 3.6 0 1 0 7.2 0a3.6 3.6 0 1 0-7.2 0M346.9 199.6a3.6 3.6 0 1 0 7.2 0a3.6 3.6 0 1 0-7.2 0M347.4 198.7a3.6 3.6 0 1 0 7.2 0a3.6 3.6 0 1 0-7.2 0M347.9 197.5a3.6 3.6 0 1 0 7.2 0a3.6 3.6 0 1 0-7.2 0M348.4 198a3.6 3.6 0 1 0 7.2 0a3.6 3.6 0 1 0-7.2 0M348.9 198.2a3.6 3.6 0 1 0 7.2 0a3.6 3.6 0 1 0-7.2 0M349.4 199.6a3.6 3.6 0 1 0 7.2 0a3.6 3.6 0 1 0-7.2 0M349.9 198.7a3.6 3.6 0 1 0 7.2 0a3.6 3.6 0 1 0-7.2 0M350.4 200.6a3.6 3.6 0 1 0 7.2 0a3.6 3.6 0 1 0-7.2 0M350.9 199.4a3.6 3.6 0 1 0 7.2 0a3.6 3.6 0 1 0-7.2 0M351.4 199a3.6 3.6 0 1 0 7.2 0a3.6 3.6 0 1 0-7.2 0M351.9 198.6a3.6 3.6 0 1 0 7.2 0a3.6 3.6 0 1 0-7.2 0M352.4 199.8a3.6 3.6 0 1 0 7.2 0a3.6 3.6 0 1 0-7.2 0M352.9 198.9a3.6 3.6 0 1 0 7.2 0a3.6 3.6 0 1 0-7.2 0M353.4 198.5a3.6 3.6 0 1 0 7.2 0a3.6 3.6 0 1 0-7.2 0M353.9 199.7a3.6 3.6 0 1 0 7.2 0a3.6 3.6 0 1 0-7.2 0M354.4 199.4a3.6 3.6 0 1 0 7.2 0a3.6 3.6 0 1 0-7.2 0M354.9 200.4a3.6 3.6 0 1 0 7.2 0a3.6 3.6 0 1 0-7.2 0M355.4 199.4a3.6 3.6 0 1 0 7.2 0a3.6 3.6 0 1 0-7.2 0M355.9 197.3a3.6 3.6 0 1 0 7.2 0a3.6 3.6 0 1 0-7.2 0M356.4 200.3a3.6 3.6 0 1 0 7.2 0a3.6 3.6 0 1 0-7.2 0M356.9 198.2a3.6 3.6 0 1 0 7.2 0a3.6 3.6 0 1 0-7.2 0M357.4 201a3.6 3.6 0 1 0 7.2 0a3.6 3.6 0 1 0-7.2 0M357.9 201.3a3.6 3.6 0 1 0 7.2 0a3.6 3.6 0 1 0-7.2 0M358.4 199.6a3.6 3.6 0 1 0 7.2 0a3.6 3.6 0 1 0-7.2 0M358.9 199.1a3.6 3.6 0 1 0 7.2 0a3.6 3.6 0 1 0-7.2 0M359.4 199a3.6 3.6 0 1 0 7.2 0a3.6 3.6 0 1 0-7.2 0M359.9 200.8a3.6 3.6 0 1 0 7.2 0a3.6 3.6 0 1 0-7.2 0M360.4 200a3.6 3.6 0 1 0 7.2 0a3.6 3.6 0 1 0-7.2 0M360.9 199.8a3.6 3.6 0 1 0 7.2 0a3.6 3.6 0 1 0-7.2 0M361.4 200.1a3.6 3.6 0 1 0 7.2 0a3.6 3.6 0 1 0-7.2 0M361.9 202.1a3.6 3.6 0 1 0 7.2 0a3.6 3.6 0 1 0-7.2 0M362.4 200.7a3.6 3.6 0 1 0 7.2 0a3.6 3.6 0 1 0-7.2 0M362.9 201.1a3.6 3.6 0 1 0 7.2 0a3.6 3.6 0 1 0-7.2 0M363.4 201.2a3.6 3.6 0 1 0 7.2 0a3.6 3.6 0 1 0-7.2 0M363.9 201.4a3.6 3.6 0 1 0 7.2 0a3.6 3.6 0 1 0-7.2 0M364.4 201.5a3.6 3.6 0 1 0 7.2 0a3.6 3.6 0 1 0-7.2 0M364.9 200.1a3.6 3.6 0 1 0 7.2 0a3.6 3.6 0 1 0-7.2 0M365.4 200.6a3.6 3.6 0 1 0 7.2 0a3.6 3.6 0 1 0-7.2 0M365.9 200.2a3.6 3.6 0 1 0 7.2 0a3.6 3.6 0 1 0-7.2 0M366.4 200.2a3.6 3.6 0 1 0 7.2 0a3.6 3.6 0 1 0-7.2 0M366.9 201.8a3.6 3.6 0 1 0 7.2 0a3.6 3.6 0 1 0-7.2 0M367.4 200.5a3.6 3.6 0 1 0 7.2 0a3.6 3.6 0 1 0-7.2 0M367.9 200.8a3.6 3.6 0 1 0 7.2 0a3.6 3.6 0 1 0-7.2 0M368.4 200.3a3.6 3.6 0 1 0 7.2 0a3.6 3.6 0 1 0-7.2 0M368.9 200.4a3.6 3.6 0 1 0 7.2 0a3.6 3.6 0 1 0-7.2 0M369.4 201.4a3.6 3.6 0 1 0 7.2 0a3.6 3.6 0 1 0-7.2 0M369.9 200.3a3.6 3.6 0 1 0 7.2 0a3.6 3.6 0 1 0-7.2 0M370.4 200.2a3.6 3.6 0 1 0 7.2 0a3.6 3.6 0 1 0-7.2 0M370.9 200.8a3.6 3.6 0 1 0 7.2 0a3.6 3.6 0 1 0-7.2 0M371.4 200.5a3.6 3.6 0 1 0 7.2 0a3.6 3.6 0 1 0-7.2 0M371.9 200.3a3.6 3.6 0 1 0 7.2 0a3.6 3.6 0 1 0-7.2 0M372.4 199.7a3.6 3.6 0 1 0 7.2 0a3.6 3.6 0 1 0-7.2 0M372.9 198.2a3.6 3.6 0 1 0 7.2 0a3.6 3.6 0 1 0-7.2 0M373.4 200.2a3.6 3.6 0 1 0 7.2 0a3.6 3.6 0 1 0-7.2 0M373.9 200.2a3.6 3.6 0 1 0 7.2 0a3.6 3.6 0 1 0-7.2 0M374.4 200.7a3.6 3.6 0 1 0 7.2 0a3.6 3.6 0 1 0-7.2 0M374.9 199.3a3.6 3.6 0 1 0 7.2 0a3.6 3.6 0 1 0-7.2 0M375.4 202.1a3.6 3.6 0 1 0 7.2 0a3.6 3.6 0 1 0-7.2 0M375.9 199.2a3.6 3.6 0 1 0 7.2 0a3.6 3.6 0 1 0-7.2 0M376.4 200.9a3.6 3.6 0 1 0 7.2 0a3.6 3.6 0 1 0-7.2 0M376.9 200.4a3.6 3.6 0 1 0 7.2 0a3.6 3.6 0 1 0-7.2 0M377.4 200.1a3.6 3.6 0 1 0 7.2 0a3.6 3.6 0 1 0-7.2 0M377.9 201.2a3.6 3.6 0 1 0 7.2 0a3.6 3.6 0 1 0-7.2 0M378.4 200.5a3.6 3.6 0 1 0 7.2 0a3.6 3.6 0 1 0-7.2 0M378.9 198.9a3.6 3.6 0 1 0 7.2 0a3.6 3.6 0 1 0-7.2 0M379.4 199.9a3.6 3.6 0 1 0 7.2 0a3.6 3.6 0 1 0-7.2 0M379.9 201.3a3.6 3.6 0 1 0 7.2 0a3.6 3.6 0 1 0-7.2 0M380.4 202.9a3.6 3.6 0 1 0 7.2 0a3.6 3.6 0 1 0-7.2 0M380.9 200.1a3.6 3.6 0 1 0 7.2 0a3.6 3.6 0 1 0-7.2 0M381.4 201.9a3.6 3.6 0 1 0 7.2 0a3.6 3.6 0 1 0-7.2 0M381.9 203.5a3.6 3.6 0 1 0 7.2 0a3.6 3.6 0 1 0-7.2 0M382.4 203.2a3.6 3.6 0 1 0 7.2 0a3.6 3.6 0 1 0-7.2 0M382.9 202.7a3.6 3.6 0 1 0 7.2 0a3.6 3.6 0 1 0-7.2 0M383.4 202a3.6 3.6 0 1 0 7.2 0a3.6 3.6 0 1 0-7.2 0M383.9 201.9a3.6 3.6 0 1 0 7.2 0a3.6 3.6 0 1 0-7.2 0M384.4 202.9a3.6 3.6 0 1 0 7.2 0a3.6 3.6 0 1 0-7.2 0M384.9 203.3a3.6 3.6 0 1 0 7.2 0a3.6 3.6 0 1 0-7.2 0M385.4 201.9a3.6 3.6 0 1 0 7.2 0a3.6 3.6 0 1 0-7.2 0M385.9 202.5a3.6 3.6 0 1 0 7.2 0a3.6 3.6 0 1 0-7.2 0M386.4 204.2a3.6 3.6 0 1 0 7.2 0a3.6 3.6 0 1 0-7.2 0M386.9 203.7a3.6 3.6 0 1 0 7.2 0a3.6 3.6 0 1 0-7.2 0M387.4 203.5a3.6 3.6 0 1 0 7.2 0a3.6 3.6 0 1 0-7.2 0M387.9 203.8a3.6 3.6 0 1 0 7.2 0a3.6 3.6 0 1 0-7.2 0M388.4 203.6a3.6 3.6 0 1 0 7.2 0a3.6 3.6 0 1 0-7.2 0M388.9 205a3.6 3.6 0 1 0 7.2 0a3.6 3.6 0 1 0-7.2 0M389.4 205.7a3.6 3.6 0 1 0 7.2 0a3.6 3.6 0 1 0-7.2 0M389.9 206.1a3.6 3.6 0 1 0 7.2 0a3.6 3.6 0 1 0-7.2 0M390.4 205a3.6 3.6 0 1 0 7.2 0a3.6 3.6 0 1 0-7.2 0M390.9 205.1a3.6 3.6 0 1 0 7.2 0a3.6 3.6 0 1 0-7.2 0M391.4 205.7a3.6 3.6 0 1 0 7.2 0a3.6 3.6 0 1 0-7.2 0M391.9 206a3.6 3.6 0 1 0 7.2 0a3.6 3.6 0 1 0-7.2 0M392.4 205.8a3.6 3.6 0 1 0 7.2 0a3.6 3.6 0 1 0-7.2 0M392.9 205.6a3.6 3.6 0 1 0 7.2 0a3.6 3.6 0 1 0-7.2 0M393.4 204.2a3.6 3.6 0 1 0 7.2 0a3.6 3.6 0 1 0-7.2 0M393.9 203.5a3.6 3.6 0 1 0 7.2 0a3.6 3.6 0 1 0-7.2 0M394.4 205.5a3.6 3.6 0 1 0 7.2 0a3.6 3.6 0 1 0-7.2 0M394.9 204.8a3.6 3.6 0 1 0 7.2 0a3.6 3.6 0 1 0-7.2 0M395.4 204.8a3.6 3.6 0 1 0 7.2 0a3.6 3.6 0 1 0-7.2 0M395.9 204.2a3.6 3.6 0 1 0 7.2 0a3.6 3.6 0 1 0-7.2 0M396.4 203.9a3.6 3.6 0 1 0 7.2 0a3.6 3.6 0 1 0-7.2 0M396.9 206.1a3.6 3.6 0 1 0 7.2 0a3.6 3.6 0 1 0-7.2 0M397.4 205.4a3.6 3.6 0 1 0 7.2 0a3.6 3.6 0 1 0-7.2 0M397.9 204.2a3.6 3.6 0 1 0 7.2 0a3.6 3.6 0 1 0-7.2 0M398.4 205.4a3.6 3.6 0 1 0 7.2 0a3.6 3.6 0 1 0-7.2 0M398.9 205.3a3.6 3.6 0 1 0 7.2 0a3.6 3.6 0 1 0-7.2 0M399.4 205.5a3.6 3.6 0 1 0 7.2 0a3.6 3.6 0 1 0-7.2 0M399.9 206.9a3.6 3.6 0 1 0 7.2 0a3.6 3.6 0 1 0-7.2 0M400.4 205.1a3.6 3.6 0 1 0 7.2 0a3.6 3.6 0 1 0-7.2 0M400.9 204.1a3.6 3.6 0 1 0 7.2 0a3.6 3.6 0 1 0-7.2 0M401.4 205.2a3.6 3.6 0 1 0 7.2 0a3.6 3.6 0 1 0-7.2 0M401.9 204.7a3.6 3.6 0 1 0 7.2 0a3.6 3.6 0 1 0-7.2 0M402.4 205.6a3.6 3.6 0 1 0 7.2 0a3.6 3.6 0 1 0-7.2 0M402.9 205.3a3.6 3.6 0 1 0 7.2 0a3.6 3.6 0 1 0-7.2 0M403.4 205.4a3.6 3.6 0 1 0 7.2 0a3.6 3.6 0 1 0-7.2 0M403.9 204.7a3.6 3.6 0 1 0 7.2 0a3.6 3.6 0 1 0-7.2 0M404.4 205.4a3.6 3.6 0 1 0 7.2 0a3.6 3.6 0 1 0-7.2 0M404.9 204.6a3.6 3.6 0 1 0 7.2 0a3.6 3.6 0 1 0-7.2 0M405.4 205.4a3.6 3.6 0 1 0 7.2 0a3.6 3.6 0 1 0-7.2 0M405.9 204.6a3.6 3.6 0 1 0 7.2 0a3.6 3.6 0 1 0-7.2 0M406.4 203.7a3.6 3.6 0 1 0 7.2 0a3.6 3.6 0 1 0-7.2 0M406.9 204.7a3.6 3.6 0 1 0 7.2 0a3.6 3.6 0 1 0-7.2 0M407.4 202.9a3.6 3.6 0 1 0 7.2 0a3.6 3.6 0 1 0-7.2 0M407.9 204a3.6 3.6 0 1 0 7.2 0a3.6 3.6 0 1 0-7.2 0M408.4 203.2a3.6 3.6 0 1 0 7.2 0a3.6 3.6 0 1 0-7.2 0M408.9 203.3a3.6 3.6 0 1 0 7.2 0a3.6 3.6 0 1 0-7.2 0M409.4 203a3.6 3.6 0 1 0 7.2 0a3.6 3.6 0 1 0-7.2 0M409.9 202.9a3.6 3.6 0 1 0 7.2 0a3.6 3.6 0 1 0-7.2 0M410.4 201.1a3.6 3.6 0 1 0 7.2 0a3.6 3.6 0 1 0-7.2 0M410.9 204a3.6 3.6 0 1 0 7.2 0a3.6 3.6 0 1 0-7.2 0M411.4 202.4a3.6 3.6 0 1 0 7.2 0a3.6 3.6 0 1 0-7.2 0M411.9 203.8a3.6 3.6 0 1 0 7.2 0a3.6 3.6 0 1 0-7.2 0M412.4 202.6a3.6 3.6 0 1 0 7.2 0a3.6 3.6 0 1 0-7.2 0M412.9 204.2a3.6 3.6 0 1 0 7.2 0a3.6 3.6 0 1 0-7.2 0M413.4 204.6a3.6 3.6 0 1 0 7.2 0a3.6 3.6 0 1 0-7.2 0M413.9 204.3a3.6 3.6 0 1 0 7.2 0a3.6 3.6 0 1 0-7.2 0M414.4 205.2a3.6 3.6 0 1 0 7.2 0a3.6 3.6 0 1 0-7.2 0M414.9 205.9a3.6 3.6 0 1 0 7.2 0a3.6 3.6 0 1 0-7.2 0M415.4 205.3a3.6 3.6 0 1 0 7.2 0a3.6 3.6 0 1 0-7.2 0M415.9 204.7a3.6 3.6 0 1 0 7.2 0a3.6 3.6 0 1 0-7.2 0M416.4 205.4a3.6 3.6 0 1 0 7.2 0a3.6 3.6 0 1 0-7.2 0M416.9 206.1a3.6 3.6 0 1 0 7.2 0a3.6 3.6 0 1 0-7.2 0M417.4 206.9a3.6 3.6 0 1 0 7.2 0a3.6 3.6 0 1 0-7.2 0M417.9 206.7a3.6 3.6 0 1 0 7.2 0a3.6 3.6 0 1 0-7.2 0M418.4 206.3a3.6 3.6 0 1 0 7.2 0a3.6 3.6 0 1 0-7.2 0M418.9 205.3a3.6 3.6 0 1 0 7.2 0a3.6 3.6 0 1 0-7.2 0M419.4 206.9a3.6 3.6 0 1 0 7.2 0a3.6 3.6 0 1 0-7.2 0M419.9 206.2a3.6 3.6 0 1 0 7.2 0a3.6 3.6 0 1 0-7.2 0M420.4 206a3.6 3.6 0 1 0 7.2 0a3.6 3.6 0 1 0-7.2 0M420.9 207a3.6 3.6 0 1 0 7.2 0a3.6 3.6 0 1 0-7.2 0M421.4 206.8a3.6 3.6 0 1 0 7.2 0a3.6 3.6 0 1 0-7.2 0M421.9 206.7a3.6 3.6 0 1 0 7.2 0a3.6 3.6 0 1 0-7.2 0M422.4 205.5a3.6 3.6 0 1 0 7.2 0a3.6 3.6 0 1 0-7.2 0M422.9 205.9a3.6 3.6 0 1 0 7.2 0a3.6 3.6 0 1 0-7.2 0M423.4 205.1a3.6 3.6 0 1 0 7.2 0a3.6 3.6 0 1 0-7.2 0M423.9 206.7a3.6 3.6 0 1 0 7.2 0a3.6 3.6 0 1 0-7.2 0M424.4 206.6a3.6 3.6 0 1 0 7.2 0a3.6 3.6 0 1 0-7.2 0M424.9 207.4a3.6 3.6 0 1 0 7.2 0a3.6 3.6 0 1 0-7.2 0M425.4 206.8a3.6 3.6 0 1 0 7.2 0a3.6 3.6 0 1 0-7.2 0M425.9 206.4a3.6 3.6 0 1 0 7.2 0a3.6 3.6 0 1 0-7.2 0M426.4 208.4a3.6 3.6 0 1 0 7.2 0a3.6 3.6 0 1 0-7.2 0M426.9 205.9a3.6 3.6 0 1 0 7.2 0a3.6 3.6 0 1 0-7.2 0M427.4 205.7a3.6 3.6 0 1 0 7.2 0a3.6 3.6 0 1 0-7.2 0M427.9 206.3a3.6 3.6 0 1 0 7.2 0a3.6 3.6 0 1 0-7.2 0M428.4 207.3a3.6 3.6 0 1 0 7.2 0a3.6 3.6 0 1 0-7.2 0M428.9 206.6a3.6 3.6 0 1 0 7.2 0a3.6 3.6 0 1 0-7.2 0M429.4 206.5a3.6 3.6 0 1 0 7.2 0a3.6 3.6 0 1 0-7.2 0M429.9 206a3.6 3.6 0 1 0 7.2 0a3.6 3.6 0 1 0-7.2 0M430.4 208a3.6 3.6 0 1 0 7.2 0a3.6 3.6 0 1 0-7.2 0M430.9 206.4a3.6 3.6 0 1 0 7.2 0a3.6 3.6 0 1 0-7.2 0M431.4 206a3.6 3.6 0 1 0 7.2 0a3.6 3.6 0 1 0-7.2 0M431.9 206.6a3.6 3.6 0 1 0 7.2 0a3.6 3.6 0 1 0-7.2 0M432.4 206a3.6 3.6 0 1 0 7.2 0a3.6 3.6 0 1 0-7.2 0M432.9 206.3a3.6 3.6 0 1 0 7.2 0a3.6 3.6 0 1 0-7.2 0M433.4 207.3a3.6 3.6 0 1 0 7.2 0a3.6 3.6 0 1 0-7.2 0M433.9 205.6a3.6 3.6 0 1 0 7.2 0a3.6 3.6 0 1 0-7.2 0M434.4 205.5a3.6 3.6 0 1 0 7.2 0a3.6 3.6 0 1 0-7.2 0M434.9 204.5a3.6 3.6 0 1 0 7.2 0a3.6 3.6 0 1 0-7.2 0M435.4 204.4a3.6 3.6 0 1 0 7.2 0a3.6 3.6 0 1 0-7.2 0M435.9 205.2a3.6 3.6 0 1 0 7.2 0a3.6 3.6 0 1 0-7.2 0M436.4 205a3.6 3.6 0 1 0 7.2 0a3.6 3.6 0 1 0-7.2 0M436.9 204.3a3.6 3.6 0 1 0 7.2 0a3.6 3.6 0 1 0-7.2 0M437.4 203.8a3.6 3.6 0 1 0 7.2 0a3.6 3.6 0 1 0-7.2 0M437.9 204.4a3.6 3.6 0 1 0 7.2 0a3.6 3.6 0 1 0-7.2 0M438.4 205.2a3.6 3.6 0 1 0 7.2 0a3.6 3.6 0 1 0-7.2 0M438.9 204.5a3.6 3.6 0 1 0 7.2 0a3.6 3.6 0 1 0-7.2 0M439.4 204.4a3.6 3.6 0 1 0 7.2 0a3.6 3.6 0 1 0-7.2 0M439.9 203.1a3.6 3.6 0 1 0 7.2 0a3.6 3.6 0 1 0-7.2 0M440.4 205.3a3.6 3.6 0 1 0 7.2 0a3.6 3.6 0 1 0-7.2 0M440.9 203.3a3.6 3.6 0 1 0 7.2 0a3.6 3.6 0 1 0-7.2 0M441.4 203.5a3.6 3.6 0 1 0 7.2 0a3.6 3.6 0 1 0-7.2 0M441.9 204.2a3.6 3.6 0 1 0 7.2 0a3.6 3.6 0 1 0-7.2 0M442.4 204.5a3.6 3.6 0 1 0 7.2 0a3.6 3.6 0 1 0-7.2 0M442.9 204.5a3.6 3.6 0 1 0 7.2 0a3.6 3.6 0 1 0-7.2 0M443.4 203.9a3.6 3.6 0 1 0 7.2 0a3.6 3.6 0 1 0-7.2 0M443.9 205a3.6 3.6 0 1 0 7.2 0a3.6 3.6 0 1 0-7.2 0M444.4 205.3a3.6 3.6 0 1 0 7.2 0a3.6 3.6 0 1 0-7.2 0M444.9 204.7a3.6 3.6 0 1 0 7.2 0a3.6 3.6 0 1 0-7.2 0M445.4 206.1a3.6 3.6 0 1 0 7.2 0a3.6 3.6 0 1 0-7.2 0M445.9 205.9a3.6 3.6 0 1 0 7.2 0a3.6 3.6 0 1 0-7.2 0M446.4 206.9a3.6 3.6 0 1 0 7.2 0a3.6 3.6 0 1 0-7.2 0M446.9 206.6a3.6 3.6 0 1 0 7.2 0a3.6 3.6 0 1 0-7.2 0M447.4 207.5a3.6 3.6 0 1 0 7.2 0a3.6 3.6 0 1 0-7.2 0M447.9 207.4a3.6 3.6 0 1 0 7.2 0a3.6 3.6 0 1 0-7.2 0M448.4 207.6a3.6 3.6 0 1 0 7.2 0a3.6 3.6 0 1 0-7.2 0M448.9 207.9a3.6 3.6 0 1 0 7.2 0a3.6 3.6 0 1 0-7.2 0M449.4 207.5a3.6 3.6 0 1 0 7.2 0a3.6 3.6 0 1 0-7.2 0M449.9 206.9a3.6 3.6 0 1 0 7.2 0a3.6 3.6 0 1 0-7.2 0M450.4 208.1a3.6 3.6 0 1 0 7.2 0a3.6 3.6 0 1 0-7.2 0M450.9 206.3a3.6 3.6 0 1 0 7.2 0a3.6 3.6 0 1 0-7.2 0M451.4 207a3.6 3.6 0 1 0 7.2 0a3.6 3.6 0 1 0-7.2 0M451.9 207.8a3.6 3.6 0 1 0 7.2 0a3.6 3.6 0 1 0-7.2 0M452.4 206.9a3.6 3.6 0 1 0 7.2 0a3.6 3.6 0 1 0-7.2 0M452.9 207.7a3.6 3.6 0 1 0 7.2 0a3.6 3.6 0 1 0-7.2 0M453.4 206.5a3.6 3.6 0 1 0 7.2 0a3.6 3.6 0 1 0-7.2 0M453.9 206.8a3.6 3.6 0 1 0 7.2 0a3.6 3.6 0 1 0-7.2 0M454.4 207.7a3.6 3.6 0 1 0 7.2 0a3.6 3.6 0 1 0-7.2 0M454.9 207.8a3.6 3.6 0 1 0 7.2 0a3.6 3.6 0 1 0-7.2 0M455.4 208.2a3.6 3.6 0 1 0 7.2 0a3.6 3.6 0 1 0-7.2 0M455.9 207.2a3.6 3.6 0 1 0 7.2 0a3.6 3.6 0 1 0-7.2 0M456.4 207.5a3.6 3.6 0 1 0 7.2 0a3.6 3.6 0 1 0-7.2 0M456.9 207.8a3.6 3.6 0 1 0 7.2 0a3.6 3.6 0 1 0-7.2 0M457.4 207.7a3.6 3.6 0 1 0 7.2 0a3.6 3.6 0 1 0-7.2 0M457.9 206.3a3.6 3.6 0 1 0 7.2 0a3.6 3.6 0 1 0-7.2 0M458.4 206.9a3.6 3.6 0 1 0 7.2 0a3.6 3.6 0 1 0-7.2 0M458.9 208.5a3.6 3.6 0 1 0 7.2 0a3.6 3.6 0 1 0-7.2 0M459.4 206.3a3.6 3.6 0 1 0 7.2 0a3.6 3.6 0 1 0-7.2 0M459.9 207.8a3.6 3.6 0 1 0 7.2 0a3.6 3.6 0 1 0-7.2 0M460.4 207a3.6 3.6 0 1 0 7.2 0a3.6 3.6 0 1 0-7.2 0M460.9 208.1a3.6 3.6 0 1 0 7.2 0a3.6 3.6 0 1 0-7.2 0M461.4 206.6a3.6 3.6 0 1 0 7.2 0a3.6 3.6 0 1 0-7.2 0M461.9 207.2a3.6 3.6 0 1 0 7.2 0a3.6 3.6 0 1 0-7.2 0M462.4 205.3a3.6 3.6 0 1 0 7.2 0a3.6 3.6 0 1 0-7.2 0M462.9 206.4a3.6 3.6 0 1 0 7.2 0a3.6 3.6 0 1 0-7.2 0M463.4 206.3a3.6 3.6 0 1 0 7.2 0a3.6 3.6 0 1 0-7.2 0M463.9 203.5a3.6 3.6 0 1 0 7.2 0a3.6 3.6 0 1 0-7.2 0M464.4 205.6a3.6 3.6 0 1 0 7.2 0a3.6 3.6 0 1 0-7.2 0M464.9 204.1a3.6 3.6 0 1 0 7.2 0a3.6 3.6 0 1 0-7.2 0M465.4 204.7a3.6 3.6 0 1 0 7.2 0a3.6 3.6 0 1 0-7.2 0M465.9 202.5a3.6 3.6 0 1 0 7.2 0a3.6 3.6 0 1 0-7.2 0M466.4 206.2a3.6 3.6 0 1 0 7.2 0a3.6 3.6 0 1 0-7.2 0M466.9 205.7a3.6 3.6 0 1 0 7.2 0a3.6 3.6 0 1 0-7.2 0M467.4 206.5a3.6 3.6 0 1 0 7.2 0a3.6 3.6 0 1 0-7.2 0M467.9 206.2a3.6 3.6 0 1 0 7.2 0a3.6 3.6 0 1 0-7.2 0M468.4 206.6a3.6 3.6 0 1 0 7.2 0a3.6 3.6 0 1 0-7.2 0M468.9 208.3a3.6 3.6 0 1 0 7.2 0a3.6 3.6 0 1 0-7.2 0M469.4 207.1a3.6 3.6 0 1 0 7.2 0a3.6 3.6 0 1 0-7.2 0M469.9 208.2a3.6 3.6 0 1 0 7.2 0a3.6 3.6 0 1 0-7.2 0M470.4 207.4a3.6 3.6 0 1 0 7.2 0a3.6 3.6 0 1 0-7.2 0M470.9 207.8a3.6 3.6 0 1 0 7.2 0a3.6 3.6 0 1 0-7.2 0M471.4 207.2a3.6 3.6 0 1 0 7.2 0a3.6 3.6 0 1 0-7.2 0M471.9 207.9a3.6 3.6 0 1 0 7.2 0a3.6 3.6 0 1 0-7.2 0M472.4 209.7a3.6 3.6 0 1 0 7.2 0a3.6 3.6 0 1 0-7.2 0M472.9 208.1a3.6 3.6 0 1 0 7.2 0a3.6 3.6 0 1 0-7.2 0M473.4 208a3.6 3.6 0 1 0 7.2 0a3.6 3.6 0 1 0-7.2 0M473.9 207.2a3.6 3.6 0 1 0 7.2 0a3.6 3.6 0 1 0-7.2 0M474.4 208.4a3.6 3.6 0 1 0 7.2 0a3.6 3.6 0 1 0-7.2 0M474.9 208.7a3.6 3.6 0 1 0 7.2 0a3.6 3.6 0 1 0-7.2 0M475.4 206.3a3.6 3.6 0 1 0 7.2 0a3.6 3.6 0 1 0-7.2 0M475.9 206.5a3.6 3.6 0 1 0 7.2 0a3.6 3.6 0 1 0-7.2 0M476.4 209.3a3.6 3.6 0 1 0 7.2 0a3.6 3.6 0 1 0-7.2 0M476.9 207.9a3.6 3.6 0 1 0 7.2 0a3.6 3.6 0 1 0-7.2 0M477.4 207.7a3.6 3.6 0 1 0 7.2 0a3.6 3.6 0 1 0-7.2 0M477.9 208a3.6 3.6 0 1 0 7.2 0a3.6 3.6 0 1 0-7.2 0M478.4 208.4a3.6 3.6 0 1 0 7.2 0a3.6 3.6 0 1 0-7.2 0M478.9 208.2a3.6 3.6 0 1 0 7.2 0a3.6 3.6 0 1 0-7.2 0M479.4 207.3a3.6 3.6 0 1 0 7.2 0a3.6 3.6 0 1 0-7.2 0M479.9 209.1a3.6 3.6 0 1 0 7.2 0a3.6 3.6 0 1 0-7.2 0M480.4 207.4a3.6 3.6 0 1 0 7.2 0a3.6 3.6 0 1 0-7.2 0M480.9 206.7a3.6 3.6 0 1 0 7.2 0a3.6 3.6 0 1 0-7.2 0M481.4 206.9a3.6 3.6 0 1 0 7.2 0a3.6 3.6 0 1 0-7.2 0M481.9 207.2a3.6 3.6 0 1 0 7.2 0a3.6 3.6 0 1 0-7.2 0M482.4 206.9a3.6 3.6 0 1 0 7.2 0a3.6 3.6 0 1 0-7.2 0M482.9 206.9a3.6 3.6 0 1 0 7.2 0a3.6 3.6 0 1 0-7.2 0M483.4 207.2a3.6 3.6 0 1 0 7.2 0a3.6 3.6 0 1 0-7.2 0M483.9 204.1a3.6 3.6 0 1 0 7.2 0a3.6 3.6 0 1 0-7.2 0M484.4 205.8a3.6 3.6 0 1 0 7.2 0a3.6 3.6 0 1 0-7.2 0M484.9 206.8a3.6 3.6 0 1 0 7.2 0a3.6 3.6 0 1 0-7.2 0M485.4 205.7a3.6 3.6 0 1 0 7.2 0a3.6 3.6 0 1 0-7.2 0M485.9 204.5a3.6 3.6 0 1 0 7.2 0a3.6 3.6 0 1 0-7.2 0M486.4 204.5a3.6 3.6 0 1 0 7.2 0a3.6 3.6 0 1 0-7.2 0M486.9 206a3.6 3.6 0 1 0 7.2 0a3.6 3.6 0 1 0-7.2 0M487.4 204.9a3.6 3.6 0 1 0 7.2 0a3.6 3.6 0 1 0-7.2 0M487.9 204.6a3.6 3.6 0 1 0 7.2 0a3.6 3.6 0 1 0-7.2 0M488.4 206.6a3.6 3.6 0 1 0 7.2 0a3.6 3.6 0 1 0-7.2 0M488.9 204.8a3.6 3.6 0 1 0 7.2 0a3.6 3.6 0 1 0-7.2 0M489.4 205.6a3.6 3.6 0 1 0 7.2 0a3.6 3.6 0 1 0-7.2 0M489.9 205.1a3.6 3.6 0 1 0 7.2 0a3.6 3.6 0 1 0-7.2 0M490.4 205.1a3.6 3.6 0 1 0 7.2 0a3.6 3.6 0 1 0-7.2 0M490.9 204.3a3.6 3.6 0 1 0 7.2 0a3.6 3.6 0 1 0-7.2 0M491.4 204.4a3.6 3.6 0 1 0 7.2 0a3.6 3.6 0 1 0-7.2 0M491.9 206.1a3.6 3.6 0 1 0 7.2 0a3.6 3.6 0 1 0-7.2 0M492.4 204.2a3.6 3.6 0 1 0 7.2 0a3.6 3.6 0 1 0-7.2 0M492.9 205.3a3.6 3.6 0 1 0 7.2 0a3.6 3.6 0 1 0-7.2 0M493.4 204.2a3.6 3.6 0 1 0 7.2 0a3.6 3.6 0 1 0-7.2 0M493.9 204.9a3.6 3.6 0 1 0 7.2 0a3.6 3.6 0 1 0-7.2 0M494.4 205.9a3.6 3.6 0 1 0 7.2 0a3.6 3.6 0 1 0-7.2 0M494.9 205.2a3.6 3.6 0 1 0 7.2 0a3.6 3.6 0 1 0-7.2 0M495.4 207.7a3.6 3.6 0 1 0 7.2 0a3.6 3.6 0 1 0-7.2 0M495.9 206.9a3.6 3.6 0 1 0 7.2 0a3.6 3.6 0 1 0-7.2 0M496.4 208.2a3.6 3.6 0 1 0 7.2 0a3.6 3.6 0 1 0-7.2 0M496.9 206.6a3.6 3.6 0 1 0 7.2 0a3.6 3.6 0 1 0-7.2 0M497.4 208.2a3.6 3.6 0 1 0 7.2 0a3.6 3.6 0 1 0-7.2 0M497.9 209.4a3.6 3.6 0 1 0 7.2 0a3.6 3.6 0 1 0-7.2 0M498.4 207.8a3.6 3.6 0 1 0 7.2 0a3.6 3.6 0 1 0-7.2 0M498.9 207.1a3.6 3.6 0 1 0 7.2 0a3.6 3.6 0 1 0-7.2 0M499.4 208.1a3.6 3.6 0 1 0 7.2 0a3.6 3.6 0 1 0-7.2 0M499.9 207.9a3.6 3.6 0 1 0 7.2 0a3.6 3.6 0 1 0-7.2 0M500.4 207.6a3.6 3.6 0 1 0 7.2 0a3.6 3.6 0 1 0-7.2 0M500.9 207.7a3.6 3.6 0 1 0 7.2 0a3.6 3.6 0 1 0-7.2 0M501.4 207.4a3.6 3.6 0 1 0 7.2 0a3.6 3.6 0 1 0-7.2 0M501.9 208.2a3.6 3.6 0 1 0 7.2 0a3.6 3.6 0 1 0-7.2 0M502.4 207.6a3.6 3.6 0 1 0 7.2 0a3.6 3.6 0 1 0-7.2 0M502.9 207.3a3.6 3.6 0 1 0 7.2 0a3.6 3.6 0 1 0-7.2 0M503.4 208.6a3.6 3.6 0 1 0 7.2 0a3.6 3.6 0 1 0-7.2 0M503.9 207.9a3.6 3.6 0 1 0 7.2 0a3.6 3.6 0 1 0-7.2 0M504.4 210.1a3.6 3.6 0 1 0 7.2 0a3.6 3.6 0 1 0-7.2 0M504.9 207.8a3.6 3.6 0 1 0 7.2 0a3.6 3.6 0 1 0-7.2 0M505.4 207.5a3.6 3.6 0 1 0 7.2 0a3.6 3.6 0 1 0-7.2 0M505.9 207.6a3.6 3.6 0 1 0 7.2 0a3.6 3.6 0 1 0-7.2 0M506.4 208.4a3.6 3.6 0 1 0 7.2 0a3.6 3.6 0 1 0-7.2 0M506.9 207.5a3.6 3.6 0 1 0 7.2 0a3.6 3.6 0 1 0-7.2 0M507.4 207.1a3.6 3.6 0 1 0 7.2 0a3.6 3.6 0 1 0-7.2 0M507.9 209.4a3.6 3.6 0 1 0 7.2 0a3.6 3.6 0 1 0-7.2 0M508.4 207.1a3.6 3.6 0 1 0 7.2 0a3.6 3.6 0 1 0-7.2 0M508.9 209.4a3.6 3.6 0 1 0 7.2 0a3.6 3.6 0 1 0-7.2 0M509.4 208.3a3.6 3.6 0 1 0 7.2 0a3.6 3.6 0 1 0-7.2 0M509.9 207.3a3.6 3.6 0 1 0 7.2 0a3.6 3.6 0 1 0-7.2 0M510.4 209.5a3.6 3.6 0 1 0 7.2 0a3.6 3.6 0 1 0-7.2 0M510.9 208a3.6 3.6 0 1 0 7.2 0a3.6 3.6 0 1 0-7.2 0M511.4 207.4a3.6 3.6 0 1 0 7.2 0a3.6 3.6 0 1 0-7.2 0M511.9 208.3a3.6 3.6 0 1 0 7.2 0a3.6 3.6 0 1 0-7.2 0M512.4 209.2a3.6 3.6 0 1 0 7.2 0a3.6 3.6 0 1 0-7.2 0M512.9 208.8a3.6 3.6 0 1 0 7.2 0a3.6 3.6 0 1 0-7.2 0M513.4 208.9a3.6 3.6 0 1 0 7.2 0a3.6 3.6 0 1 0-7.2 0M513.9 209.6a3.6 3.6 0 1 0 7.2 0a3.6 3.6 0 1 0-7.2 0M514.4 208.4a3.6 3.6 0 1 0 7.2 0a3.6 3.6 0 1 0-7.2 0M514.9 208.5a3.6 3.6 0 1 0 7.2 0a3.6 3.6 0 1 0-7.2 0M515.4 208.1a3.6 3.6 0 1 0 7.2 0a3.6 3.6 0 1 0-7.2 0M515.9 207.1a3.6 3.6 0 1 0 7.2 0a3.6 3.6 0 1 0-7.2 0M516.4 208.1a3.6 3.6 0 1 0 7.2 0a3.6 3.6 0 1 0-7.2 0M516.9 209.6a3.6 3.6 0 1 0 7.2 0a3.6 3.6 0 1 0-7.2 0M517.4 206.9a3.6 3.6 0 1 0 7.2 0a3.6 3.6 0 1 0-7.2 0M517.9 209.3a3.6 3.6 0 1 0 7.2 0a3.6 3.6 0 1 0-7.2 0M518.4 208.5a3.6 3.6 0 1 0 7.2 0a3.6 3.6 0 1 0-7.2 0M518.9 207.5a3.6 3.6 0 1 0 7.2 0a3.6 3.6 0 1 0-7.2 0M519.4 208.3a3.6 3.6 0 1 0 7.2 0a3.6 3.6 0 1 0-7.2 0M519.9 209.7a3.6 3.6 0 1 0 7.2 0a3.6 3.6 0 1 0-7.2 0M520.4 207.8a3.6 3.6 0 1 0 7.2 0a3.6 3.6 0 1 0-7.2 0M520.9 208.9a3.6 3.6 0 1 0 7.2 0a3.6 3.6 0 1 0-7.2 0M521.4 209.2a3.6 3.6 0 1 0 7.2 0a3.6 3.6 0 1 0-7.2 0M521.9 207.5a3.6 3.6 0 1 0 7.2 0a3.6 3.6 0 1 0-7.2 0M522.4 208.8a3.6 3.6 0 1 0 7.2 0a3.6 3.6 0 1 0-7.2 0M522.9 208.7a3.6 3.6 0 1 0 7.2 0a3.6 3.6 0 1 0-7.2 0M523.4 207.9a3.6 3.6 0 1 0 7.2 0a3.6 3.6 0 1 0-7.2 0M523.9 208.8a3.6 3.6 0 1 0 7.2 0a3.6 3.6 0 1 0-7.2 0M524.4 207.9a3.6 3.6 0 1 0 7.2 0a3.6 3.6 0 1 0-7.2 0M524.9 207.7a3.6 3.6 0 1 0 7.2 0a3.6 3.6 0 1 0-7.2 0M525.4 207.2a3.6 3.6 0 1 0 7.2 0a3.6 3.6 0 1 0-7.2 0M525.9 208.5a3.6 3.6 0 1 0 7.2 0a3.6 3.6 0 1 0-7.2 0M526.4 207.8a3.6 3.6 0 1 0 7.2 0a3.6 3.6 0 1 0-7.2 0M526.9 207.6a3.6 3.6 0 1 0 7.2 0a3.6 3.6 0 1 0-7.2 0M527.4 207.1a3.6 3.6 0 1 0 7.2 0a3.6 3.6 0 1 0-7.2 0M527.9 206.8a3.6 3.6 0 1 0 7.2 0a3.6 3.6 0 1 0-7.2 0M528.4 207.1a3.6 3.6 0 1 0 7.2 0a3.6 3.6 0 1 0-7.2 0M528.9 208a3.6 3.6 0 1 0 7.2 0a3.6 3.6 0 1 0-7.2 0M529.4 206.3a3.6 3.6 0 1 0 7.2 0a3.6 3.6 0 1 0-7.2 0M529.9 207.5a3.6 3.6 0 1 0 7.2 0a3.6 3.6 0 1 0-7.2 0M530.4 205.9a3.6 3.6 0 1 0 7.2 0a3.6 3.6 0 1 0-7.2 0M530.9 205.7a3.6 3.6 0 1 0 7.2 0a3.6 3.6 0 1 0-7.2 0M531.4 204.6a3.6 3.6 0 1 0 7.2 0a3.6 3.6 0 1 0-7.2 0M531.9 207.2a3.6 3.6 0 1 0 7.2 0a3.6 3.6 0 1 0-7.2 0M532.4 204.4a3.6 3.6 0 1 0 7.2 0a3.6 3.6 0 1 0-7.2 0M532.9 206a3.6 3.6 0 1 0 7.2 0a3.6 3.6 0 1 0-7.2 0M533.4 207a3.6 3.6 0 1 0 7.2 0a3.6 3.6 0 1 0-7.2 0M533.9 205.5a3.6 3.6 0 1 0 7.2 0a3.6 3.6 0 1 0-7.2 0M534.4 205.1a3.6 3.6 0 1 0 7.2 0a3.6 3.6 0 1 0-7.2 0M534.9 205.6a3.6 3.6 0 1 0 7.2 0a3.6 3.6 0 1 0-7.2 0M535.4 206.4a3.6 3.6 0 1 0 7.2 0a3.6 3.6 0 1 0-7.2 0M535.9 206.7a3.6 3.6 0 1 0 7.2 0a3.6 3.6 0 1 0-7.2 0M536.4 206.1a3.6 3.6 0 1 0 7.2 0a3.6 3.6 0 1 0-7.2 0M536.9 204.8a3.6 3.6 0 1 0 7.2 0a3.6 3.6 0 1 0-7.2 0M537.4 206a3.6 3.6 0 1 0 7.2 0a3.6 3.6 0 1 0-7.2 0M537.9 207.3a3.6 3.6 0 1 0 7.2 0a3.6 3.6 0 1 0-7.2 0M538.4 206.6a3.6 3.6 0 1 0 7.2 0a3.6 3.6 0 1 0-7.2 0M538.9 207.7a3.6 3.6 0 1 0 7.2 0a3.6 3.6 0 1 0-7.2 0M539.4 209.8a3.6 3.6 0 1 0 7.2 0a3.6 3.6 0 1 0-7.2 0M539.9 207.3a3.6 3.6 0 1 0 7.2 0a3.6 3.6 0 1 0-7.2 0M540.4 209.2a3.6 3.6 0 1 0 7.2 0a3.6 3.6 0 1 0-7.2 0M540.9 207.5a3.6 3.6 0 1 0 7.2 0a3.6 3.6 0 1 0-7.2 0M541.4 208.1a3.6 3.6 0 1 0 7.2 0a3.6 3.6 0 1 0-7.2 0M541.9 208.3a3.6 3.6 0 1 0 7.2 0a3.6 3.6 0 1 0-7.2 0M542.4 207.2a3.6 3.6 0 1 0 7.2 0a3.6 3.6 0 1 0-7.2 0M542.9 208.4a3.6 3.6 0 1 0 7.2 0a3.6 3.6 0 1 0-7.2 0M543.4 209.5a3.6 3.6 0 1 0 7.2 0a3.6 3.6 0 1 0-7.2 0M543.9 209.1a3.6 3.6 0 1 0 7.2 0a3.6 3.6 0 1 0-7.2 0M544.4 209.1a3.6 3.6 0 1 0 7.2 0a3.6 3.6 0 1 0-7.2 0M544.9 207.9a3.6 3.6 0 1 0 7.2 0a3.6 3.6 0 1 0-7.2 0M545.4 208.4a3.6 3.6 0 1 0 7.2 0a3.6 3.6 0 1 0-7.2 0M545.9 208.7a3.6 3.6 0 1 0 7.2 0a3.6 3.6 0 1 0-7.2 0M546.4 209.1a3.6 3.6 0 1 0 7.2 0a3.6 3.6 0 1 0-7.2 0M546.9 209.6a3.6 3.6 0 1 0 7.2 0a3.6 3.6 0 1 0-7.2 0M547.4 207.8a3.6 3.6 0 1 0 7.2 0a3.6 3.6 0 1 0-7.2 0M547.9 209.9a3.6 3.6 0 1 0 7.2 0a3.6 3.6 0 1 0-7.2 0M548.4 208.3a3.6 3.6 0 1 0 7.2 0a3.6 3.6 0 1 0-7.2 0M548.9 208.4a3.6 3.6 0 1 0 7.2 0a3.6 3.6 0 1 0-7.2 0M549.4 207.6a3.6 3.6 0 1 0 7.2 0a3.6 3.6 0 1 0-7.2 0M549.9 208.5a3.6 3.6 0 1 0 7.2 0a3.6 3.6 0 1 0-7.2 0M550.4 208.3a3.6 3.6 0 1 0 7.2 0a3.6 3.6 0 1 0-7.2 0M550.9 207.4a3.6 3.6 0 1 0 7.2 0a3.6 3.6 0 1 0-7.2 0M551.4 208a3.6 3.6 0 1 0 7.2 0a3.6 3.6 0 1 0-7.2 0M551.9 208.1a3.6 3.6 0 1 0 7.2 0a3.6 3.6 0 1 0-7.2 0M552.4 207.3a3.6 3.6 0 1 0 7.2 0a3.6 3.6 0 1 0-7.2 0M552.9 207.8a3.6 3.6 0 1 0 7.2 0a3.6 3.6 0 1 0-7.2 0M553.4 205.9a3.6 3.6 0 1 0 7.2 0a3.6 3.6 0 1 0-7.2 0M553.9 207.1a3.6 3.6 0 1 0 7.2 0a3.6 3.6 0 1 0-7.2 0M554.4 206.1a3.6 3.6 0 1 0 7.2 0a3.6 3.6 0 1 0-7.2 0M554.9 206.7a3.6 3.6 0 1 0 7.2 0a3.6 3.6 0 1 0-7.2 0M555.4 205.3a3.6 3.6 0 1 0 7.2 0a3.6 3.6 0 1 0-7.2 0M555.9 207.4a3.6 3.6 0 1 0 7.2 0a3.6 3.6 0 1 0-7.2 0M556.4 207.7a3.6 3.6 0 1 0 7.2 0a3.6 3.6 0 1 0-7.2 0M556.9 208.8a3.6 3.6 0 1 0 7.2 0a3.6 3.6 0 1 0-7.2 0M557.4 207.4a3.6 3.6 0 1 0 7.2 0a3.6 3.6 0 1 0-7.2 0M557.9 209.6a3.6 3.6 0 1 0 7.2 0a3.6 3.6 0 1 0-7.2 0M558.4 207.7a3.6 3.6 0 1 0 7.2 0a3.6 3.6 0 1 0-7.2 0M558.9 209.7a3.6 3.6 0 1 0 7.2 0a3.6 3.6 0 1 0-7.2 0M559.4 209.1a3.6 3.6 0 1 0 7.2 0a3.6 3.6 0 1 0-7.2 0M559.9 208.1a3.6 3.6 0 1 0 7.2 0a3.6 3.6 0 1 0-7.2 0M560.4 210.4a3.6 3.6 0 1 0 7.2 0a3.6 3.6 0 1 0-7.2 0M560.9 207.8a3.6 3.6 0 1 0 7.2 0a3.6 3.6 0 1 0-7.2 0M561.4 208.6a3.6 3.6 0 1 0 7.2 0a3.6 3.6 0 1 0-7.2 0M561.9 208.9a3.6 3.6 0 1 0 7.2 0a3.6 3.6 0 1 0-7.2 0M562.4 209.2a3.6 3.6 0 1 0 7.2 0a3.6 3.6 0 1 0-7.2 0M562.9 208.9a3.6 3.6 0 1 0 7.2 0a3.6 3.6 0 1 0-7.2 0M563.4 209.4a3.6 3.6 0 1 0 7.2 0a3.6 3.6 0 1 0-7.2 0M563.9 209.1a3.6 3.6 0 1 0 7.2 0a3.6 3.6 0 1 0-7.2 0M564.4 208.8a3.6 3.6 0 1 0 7.2 0a3.6 3.6 0 1 0-7.2 0M564.9 208a3.6 3.6 0 1 0 7.2 0a3.6 3.6 0 1 0-7.2 0M565.4 208.5a3.6 3.6 0 1 0 7.2 0a3.6 3.6 0 1 0-7.2 0M565.9 209.5a3.6 3.6 0 1 0 7.2 0a3.6 3.6 0 1 0-7.2 0M566.4 207.8a3.6 3.6 0 1 0 7.2 0a3.6 3.6 0 1 0-7.2 0M566.9 208.8a3.6 3.6 0 1 0 7.2 0a3.6 3.6 0 1 0-7.2 0M567.4 207.1a3.6 3.6 0 1 0 7.2 0a3.6 3.6 0 1 0-7.2 0M567.9 208.1a3.6 3.6 0 1 0 7.2 0a3.6 3.6 0 1 0-7.2 0M568.4 207.3a3.6 3.6 0 1 0 7.2 0a3.6 3.6 0 1 0-7.2 0M568.9 209.6a3.6 3.6 0 1 0 7.2 0a3.6 3.6 0 1 0-7.2 0M569.4 207a3.6 3.6 0 1 0 7.2 0a3.6 3.6 0 1 0-7.2 0M569.9 208.2a3.6 3.6 0 1 0 7.2 0a3.6 3.6 0 1 0-7.2 0M570.4 208.7a3.6 3.6 0 1 0 7.2 0a3.6 3.6 0 1 0-7.2 0M570.9 208.3a3.6 3.6 0 1 0 7.2 0a3.6 3.6 0 1 0-7.2 0M571.4 207.9a3.6 3.6 0 1 0 7.2 0a3.6 3.6 0 1 0-7.2 0M571.9 207.3a3.6 3.6 0 1 0 7.2 0a3.6 3.6 0 1 0-7.2 0M572.4 206.3a3.6 3.6 0 1 0 7.2 0a3.6 3.6 0 1 0-7.2 0M572.9 206.6a3.6 3.6 0 1 0 7.2 0a3.6 3.6 0 1 0-7.2 0M573.4 205.9a3.6 3.6 0 1 0 7.2 0a3.6 3.6 0 1 0-7.2 0M573.9 206a3.6 3.6 0 1 0 7.2 0a3.6 3.6 0 1 0-7.2 0M574.4 204.6a3.6 3.6 0 1 0 7.2 0a3.6 3.6 0 1 0-7.2 0M574.9 206.1a3.6 3.6 0 1 0 7.2 0a3.6 3.6 0 1 0-7.2 0M575.4 207a3.6 3.6 0 1 0 7.2 0a3.6 3.6 0 1 0-7.2 0M575.9 205.4a3.6 3.6 0 1 0 7.2 0a3.6 3.6 0 1 0-7.2 0M576.4 205.1a3.6 3.6 0 1 0 7.2 0a3.6 3.6 0 1 0-7.2 0M576.9 206.4a3.6 3.6 0 1 0 7.2 0a3.6 3.6 0 1 0-7.2 0M577.4 208.1a3.6 3.6 0 1 0 7.2 0a3.6 3.6 0 1 0-7.2 0M577.9 208.7a3.6 3.6 0 1 0 7.2 0a3.6 3.6 0 1 0-7.2 0M578.4 207a3.6 3.6 0 1 0 7.2 0a3.6 3.6 0 1 0-7.2 0M578.9 208.8a3.6 3.6 0 1 0 7.2 0a3.6 3.6 0 1 0-7.2 0M579.4 208.1a3.6 3.6 0 1 0 7.2 0a3.6 3.6 0 1 0-7.2 0M579.9 208.9a3.6 3.6 0 1 0 7.2 0a3.6 3.6 0 1 0-7.2 0M580.4 206.9a3.6 3.6 0 1 0 7.2 0a3.6 3.6 0 1 0-7.2 0M580.9 209.5a3.6 3.6 0 1 0 7.2 0a3.6 3.6 0 1 0-7.2 0M581.4 208.5a3.6 3.6 0 1 0 7.2 0a3.6 3.6 0 1 0-7.2 0M581.9 209a3.6 3.6 0 1 0 7.2 0a3.6 3.6 0 1 0-7.2 0M582.4 208.7a3.6 3.6 0 1 0 7.2 0a3.6 3.6 0 1 0-7.2 0M582.9 208.1a3.6 3.6 0 1 0 7.2 0a3.6 3.6 0 1 0-7.2 0M583.4 209.3a3.6 3.6 0 1 0 7.2 0a3.6 3.6 0 1 0-7.2 0M583.9 208.5a3.6 3.6 0 1 0 7.2 0a3.6 3.6 0 1 0-7.2 0M584.4 208.4a3.6 3.6 0 1 0 7.2 0a3.6 3.6 0 1 0-7.2 0M584.9 209.5a3.6 3.6 0 1 0 7.2 0a3.6 3.6 0 1 0-7.2 0M585.4 208.9a3.6 3.6 0 1 0 7.2 0a3.6 3.6 0 1 0-7.2 0M585.9 208.4a3.6 3.6 0 1 0 7.2 0a3.6 3.6 0 1 0-7.2 0M586.4 209.7a3.6 3.6 0 1 0 7.2 0a3.6 3.6 0 1 0-7.2 0M586.9 208.5a3.6 3.6 0 1 0 7.2 0a3.6 3.6 0 1 0-7.2 0M587.4 209a3.6 3.6 0 1 0 7.2 0a3.6 3.6 0 1 0-7.2 0M587.9 209.6a3.6 3.6 0 1 0 7.2 0a3.6 3.6 0 1 0-7.2 0M588.4 209.8a3.6 3.6 0 1 0 7.2 0a3.6 3.6 0 1 0-7.2 0M588.9 210a3.6 3.6 0 1 0 7.2 0a3.6 3.6 0 1 0-7.2 0M589.4 210.4a3.6 3.6 0 1 0 7.2 0a3.6 3.6 0 1 0-7.2 0M589.9 209.1a3.6 3.6 0 1 0 7.2 0a3.6 3.6 0 1 0-7.2 0M333.7 155.3a3.6 3.6 0 1 0 7.2 0a3.6 3.6 0 1 0-7.2 0M334 154.8a3.6 3.6 0 1 0 7.2 0a3.6 3.6 0 1 0-7.2 0M334.1 156.4a3.6 3.6 0 1 0 7.2 0a3.6 3.6 0 1 0-7.2 0M333.4 156.6a3.6 3.6 0 1 0 7.2 0a3.6 3.6 0 1 0-7.2 0M334.1 158.1a3.6 3.6 0 1 0 7.2 0a3.6 3.6 0 1 0-7.2 0M333.9 158.4a3.6 3.6 0 1 0 7.2 0a3.6 3.6 0 1 0-7.2 0M334 159.3a3.6 3.6 0 1 0 7.2 0a3.6 3.6 0 1 0-7.2 0M333.3 159.4a3.6 3.6 0 1 0 7.2 0a3.6 3.6 0 1 0-7.2 0M334.1 161.4a3.6 3.6 0 1 0 7.2 0a3.6 3.6 0 1 0-7.2 0M333.5 160.9a3.6 3.6 0 1 0 7.2 0a3.6 3.6 0 1 0-7.2 0M334.1 162.4a3.6 3.6 0 1 0 7.2 0a3.6 3.6 0 1 0-7.2 0M333.7 162.6a3.6 3.6 0 1 0 7.2 0a3.6 3.6 0 1 0-7.2 0M334.3 164.3a3.6 3.6 0 1 0 7.2 0a3.6 3.6 0 1 0-7.2 0M333.4 164.5a3.6 3.6 0 1 0 7.2 0a3.6 3.6 0 1 0-7.2 0M334.2 165.9a3.6 3.6 0 1 0 7.2 0a3.6 3.6 0 1 0-7.2 0M333.7 165.9a3.6 3.6 0 1 0 7.2 0a3.6 3.6 0 1 0-7.2 0M334.4 167.7a3.6 3.6 0 1 0 7.2 0a3.6 3.6 0 1 0-7.2 0M333.2 167.8a3.6 3.6 0 1 0 7.2 0a3.6 3.6 0 1 0-7.2 0M334.4 169.5a3.6 3.6 0 1 0 7.2 0a3.6 3.6 0 1 0-7.2 0M333 169.1a3.6 3.6 0 1 0 7.2 0a3.6 3.6 0 1 0-7.2 0M334.5 171.1a3.6 3.6 0 1 0 7.2 0a3.6 3.6 0 1 0-7.2 0M333.2 171a3.6 3.6 0 1 0 7.2 0a3.6 3.6 0 1 0-7.2 0M334.4 172.7a3.6 3.6 0 1 0 7.2 0a3.6 3.6 0 1 0-7.2 0M333.4 172.6a3.6 3.6 0 1 0 7.2 0a3.6 3.6 0 1 0-7.2 0M334.2 174.2a3.6 3.6 0 1 0 7.2 0a3.6 3.6 0 1 0-7.2 0M333.1 173.2a3.6 3.6 0 1 0 7.2 0a3.6 3.6 0 1 0-7.2 0M334.5 175.3a3.6 3.6 0 1 0 7.2 0a3.6 3.6 0 1 0-7.2 0M333.1 174.6a3.6 3.6 0 1 0 7.2 0a3.6 3.6 0 1 0-7.2 0M334.4 177.2a3.6 3.6 0 1 0 7.2 0a3.6 3.6 0 1 0-7.2 0M333.1 176.8a3.6 3.6 0 1 0 7.2 0a3.6 3.6 0 1 0-7.2 0M334.4 178.7a3.6 3.6 0 1 0 7.2 0a3.6 3.6 0 1 0-7.2 0M333.3 178.5a3.6 3.6 0 1 0 7.2 0a3.6 3.6 0 1 0-7.2 0M334.6 181.2a3.6 3.6 0 1 0 7.2 0a3.6 3.6 0 1 0-7.2 0M332.8 179.5a3.6 3.6 0 1 0 7.2 0a3.6 3.6 0 1 0-7.2 0M334.5 182.1a3.6 3.6 0 1 0 7.2 0a3.6 3.6 0 1 0-7.2 0M332.8 181.7a3.6 3.6 0 1 0 7.2 0a3.6 3.6 0 1 0-7.2 0M334.7 183.4a3.6 3.6 0 1 0 7.2 0a3.6 3.6 0 1 0-7.2 0M332.9 182.9a3.6 3.6 0 1 0 7.2 0a3.6 3.6 0 1 0-7.2 0M334.9 185.6a3.6 3.6 0 1 0 7.2 0a3.6 3.6 0 1 0-7.2 0M333.2 185.3a3.6 3.6 0 1 0 7.2 0a3.6 3.6 0 1 0-7.2 0M334.8 187.2a3.6 3.6 0 1 0 7.2 0a3.6 3.6 0 1 0-7.2 0M332.8 186.3a3.6 3.6 0 1 0 7.2 0a3.6 3.6 0 1 0-7.2 0M334.7 189a3.6 3.6 0 1 0 7.2 0a3.6 3.6 0 1 0-7.2 0M332.9 188a3.6 3.6 0 1 0 7.2 0a3.6 3.6 0 1 0-7.2 0M335 190.2a3.6 3.6 0 1 0 7.2 0a3.6 3.6 0 1 0-7.2 0M332.7 190.1a3.6 3.6 0 1 0 7.2 0a3.6 3.6 0 1 0-7.2 0M335 191.8a3.6 3.6 0 1 0 7.2 0a3.6 3.6 0 1 0-7.2 0M332.4 191.3a3.6 3.6 0 1 0 7.2 0a3.6 3.6 0 1 0-7.2 0M335.5 194a3.6 3.6 0 1 0 7.2 0a3.6 3.6 0 1 0-7.2 0M332.2 192.5a3.6 3.6 0 1 0 7.2 0a3.6 3.6 0 1 0-7.2 0M372.2 199.6a3.6 3.6 0 1 0 7.2 0a3.6 3.6 0 1 0-7.2 0M372.2 199.3a3.6 3.6 0 1 0 7.2 0a3.6 3.6 0 1 0-7.2 0M372.4 199.5a3.6 3.6 0 1 0 7.2 0a3.6 3.6 0 1 0-7.2 0M372.4 199.2a3.6 3.6 0 1 0 7.2 0a3.6 3.6 0 1 0-7.2 0M372.5 198.6a3.6 3.6 0 1 0 7.2 0a3.6 3.6 0 1 0-7.2 0M372.7 198.8a3.6 3.6 0 1 0 7.2 0a3.6 3.6 0 1 0-7.2 0M372.8 198.3a3.6 3.6 0 1 0 7.2 0a3.6 3.6 0 1 0-7.2 0M372.7 198.5a3.6 3.6 0 1 0 7.2 0a3.6 3.6 0 1 0-7.2 0M372.7 198.2a3.6 3.6 0 1 0 7.2 0a3.6 3.6 0 1 0-7.2 0M372.9 197.9a3.6 3.6 0 1 0 7.2 0a3.6 3.6 0 1 0-7.2 0M373 197.1a3.6 3.6 0 1 0 7.2 0a3.6 3.6 0 1 0-7.2 0M373.1 197.6a3.6 3.6 0 1 0 7.2 0a3.6 3.6 0 1 0-7.2 0M373.3 197.8a3.6 3.6 0 1 0 7.2 0a3.6 3.6 0 1 0-7.2 0M373.3 197.3a3.6 3.6 0 1 0 7.2 0a3.6 3.6 0 1 0-7.2 0M373.2 196.8a3.6 3.6 0 1 0 7.2 0a3.6 3.6 0 1 0-7.2 0M373.6 196.6a3.6 3.6 0 1 0 7.2 0a3.6 3.6 0 1 0-7.2 0M373.6 195.9a3.6 3.6 0 1 0 7.2 0a3.6 3.6 0 1 0-7.2 0M373.6 195.6a3.6 3.6 0 1 0 7.2 0a3.6 3.6 0 1 0-7.2 0M373.8 195.3a3.6 3.6 0 1 0 7.2 0a3.6 3.6 0 1 0-7.2 0M373.8 194.3a3.6 3.6 0 1 0 7.2 0a3.6 3.6 0 1 0-7.2 0M374.1 193.9a3.6 3.6 0 1 0 7.2 0a3.6 3.6 0 1 0-7.2 0M373.8 193.9a3.6 3.6 0 1 0 7.2 0a3.6 3.6 0 1 0-7.2 0M374.2 192.9a3.6 3.6 0 1 0 7.2 0a3.6 3.6 0 1 0-7.2 0M374.3 192.2a3.6 3.6 0 1 0 7.2 0a3.6 3.6 0 1 0-7.2 0M374.2 191.2a3.6 3.6 0 1 0 7.2 0a3.6 3.6 0 1 0-7.2 0M374.3 190a3.6 3.6 0 1 0 7.2 0a3.6 3.6 0 1 0-7.2 0M374.4 189.2a3.6 3.6 0 1 0 7.2 0a3.6 3.6 0 1 0-7.2 0M374.7 187.7a3.6 3.6 0 1 0 7.2 0a3.6 3.6 0 1 0-7.2 0M374.7 185.7a3.6 3.6 0 1 0 7.2 0a3.6 3.6 0 1 0-7.2 0M374.6 184.7a3.6 3.6 0 1 0 7.2 0a3.6 3.6 0 1 0-7.2 0M374.9 182.7a3.6 3.6 0 1 0 7.2 0a3.6 3.6 0 1 0-7.2 0M375 179.3a3.6 3.6 0 1 0 7.2 0a3.6 3.6 0 1 0-7.2 0M375 175.9a3.6 3.6 0 1 0 7.2 0a3.6 3.6 0 1 0-7.2 0M375.1 172.9a3.6 3.6 0 1 0 7.2 0a3.6 3.6 0 1 0-7.2 0M375.2 167.9a3.6 3.6 0 1 0 7.2 0a3.6 3.6 0 1 0-7.2 0M375.3 162.7a3.6 3.6 0 1 0 7.2 0a3.6 3.6 0 1 0-7.2 0M375.4 155.6a3.6 3.6 0 1 0 7.2 0a3.6 3.6 0 1 0-7.2 0M375.5 147.7a3.6 3.6 0 1 0 7.2 0a3.6 3.6 0 1 0-7.2 0M375.6 138.4a3.6 3.6 0 1 0 7.2 0a3.6 3.6 0 1 0-7.2 0M375.6 126.7a3.6 3.6 0 1 0 7.2 0a3.6 3.6 0 1 0-7.2 0M375.7 114.7a3.6 3.6 0 1 0 7.2 0a3.6 3.6 0 1 0-7.2 0M375.8 100.7a3.6 3.6 0 1 0 7.2 0a3.6 3.6 0 1 0-7.2 0M375.8 85.9a3.6 3.6 0 1 0 7.2 0a3.6 3.6 0 1 0-7.2 0M376 69.8a3.6 3.6 0 1 0 7.2 0a3.6 3.6 0 1 0-7.2 0M376.2 54.5a3.6 3.6 0 1 0 7.2 0a3.6 3.6 0 1 0-7.2 0M376.2 40.4a3.6 3.6 0 1 0 7.2 0a3.6 3.6 0 1 0-7.2 0M376.3 29a3.6 3.6 0 1 0 7.2 0a3.6 3.6 0 1 0-7.2 0M376.3 21.9a3.6 3.6 0 1 0 7.2 0a3.6 3.6 0 1 0-7.2 0M376.5 21.1a3.6 3.6 0 1 0 7.2 0a3.6 3.6 0 1 0-7.2 0M376.4 26.1a3.6 3.6 0 1 0 7.2 0a3.6 3.6 0 1 0-7.2 0M376.6 35a3.6 3.6 0 1 0 7.2 0a3.6 3.6 0 1 0-7.2 0M376.7 48.4a3.6 3.6 0 1 0 7.2 0a3.6 3.6 0 1 0-7.2 0M376.8 63.4a3.6 3.6 0 1 0 7.2 0a3.6 3.6 0 1 0-7.2 0M376.9 79a3.6 3.6 0 1 0 7.2 0a3.6 3.6 0 1 0-7.2 0M376.9 95.1a3.6 3.6 0 1 0 7.2 0a3.6 3.6 0 1 0-7.2 0M377 109.6a3.6 3.6 0 1 0 7.2 0a3.6 3.6 0 1 0-7.2 0M377.2 122.4a3.6 3.6 0 1 0 7.2 0a3.6 3.6 0 1 0-7.2 0M377 134.5a3.6 3.6 0 1 0 7.2 0a3.6 3.6 0 1 0-7.2 0M377.5 144a3.6 3.6 0 1 0 7.2 0a3.6 3.6 0 1 0-7.2 0M377.4 153.2a3.6 3.6 0 1 0 7.2 0a3.6 3.6 0 1 0-7.2 0M377.3 160.2a3.6 3.6 0 1 0 7.2 0a3.6 3.6 0 1 0-7.2 0M377.7 166.6a3.6 3.6 0 1 0 7.2 0a3.6 3.6 0 1 0-7.2 0M377.7 171.9a3.6 3.6 0 1 0 7.2 0a3.6 3.6 0 1 0-7.2 0M377.7 175.2a3.6 3.6 0 1 0 7.2 0a3.6 3.6 0 1 0-7.2 0M378 179a3.6 3.6 0 1 0 7.2 0a3.6 3.6 0 1 0-7.2 0M378 182.4a3.6 3.6 0 1 0 7.2 0a3.6 3.6 0 1 0-7.2 0M378.1 184.4a3.6 3.6 0 1 0 7.2 0a3.6 3.6 0 1 0-7.2 0M378.1 186.5a3.6 3.6 0 1 0 7.2 0a3.6 3.6 0 1 0-7.2 0M378.4 187.8a3.6 3.6 0 1 0 7.2 0a3.6 3.6 0 1 0-7.2 0M378.2 189.5a3.6 3.6 0 1 0 7.2 0a3.6 3.6 0 1 0-7.2 0M378.3 190.6a3.6 3.6 0 1 0 7.2 0a3.6 3.6 0 1 0-7.2 0M378.5 191.8a3.6 3.6 0 1 0 7.2 0a3.6 3.6 0 1 0-7.2 0M378.6 192.7a3.6 3.6 0 1 0 7.2 0a3.6 3.6 0 1 0-7.2 0M378.8 193.1a3.6 3.6 0 1 0 7.2 0a3.6 3.6 0 1 0-7.2 0M378.8 194.2a3.6 3.6 0 1 0 7.2 0a3.6 3.6 0 1 0-7.2 0M378.7 194.5a3.6 3.6 0 1 0 7.2 0a3.6 3.6 0 1 0-7.2 0M378.9 195.2a3.6 3.6 0 1 0 7.2 0a3.6 3.6 0 1 0-7.2 0M379.1 196a3.6 3.6 0 1 0 7.2 0a3.6 3.6 0 1 0-7.2 0M379.4 196.4a3.6 3.6 0 1 0 7.2 0a3.6 3.6 0 1 0-7.2 0M379.2 197.6a3.6 3.6 0 1 0 7.2 0a3.6 3.6 0 1 0-7.2 0M379.2 198a3.6 3.6 0 1 0 7.2 0a3.6 3.6 0 1 0-7.2 0M379.1 197.5a3.6 3.6 0 1 0 7.2 0a3.6 3.6 0 1 0-7.2 0M379.6 198.6a3.6 3.6 0 1 0 7.2 0a3.6 3.6 0 1 0-7.2 0M379.6 198.2a3.6 3.6 0 1 0 7.2 0a3.6 3.6 0 1 0-7.2 0M379.6 198.9a3.6 3.6 0 1 0 7.2 0a3.6 3.6 0 1 0-7.2 0M379.8 199.3a3.6 3.6 0 1 0 7.2 0a3.6 3.6 0 1 0-7.2 0M379.8 199.5a3.6 3.6 0 1 0 7.2 0a3.6 3.6 0 1 0-7.2 0M380.1 200.5a3.6 3.6 0 1 0 7.2 0a3.6 3.6 0 1 0-7.2 0M380.1 200a3.6 3.6 0 1 0 7.2 0a3.6 3.6 0 1 0-7.2 0M380 199.5a3.6 3.6 0 1 0 7.2 0a3.6 3.6 0 1 0-7.2 0M380 200.2a3.6 3.6 0 1 0 7.2 0a3.6 3.6 0 1 0-7.2 0M380.5 200.3a3.6 3.6 0 1 0 7.2 0a3.6 3.6 0 1 0-7.2 0M380.1 200.5a3.6 3.6 0 1 0 7.2 0a3.6 3.6 0 1 0-7.2 0M380.4 200.6a3.6 3.6 0 1 0 7.2 0a3.6 3.6 0 1 0-7.2 0M380.7 201.3a3.6 3.6 0 1 0 7.2 0a3.6 3.6 0 1 0-7.2 0M380.8 200.8a3.6 3.6 0 1 0 7.2 0a3.6 3.6 0 1 0-7.2 0M380.8 200.8a3.6 3.6 0 1 0 7.2 0a3.6 3.6 0 1 0-7.2 0M410.2 176.4a3.6 3.6 0 1 0 7.2 0a3.6 3.6 0 1 0-7.2 0M409.9 178.7a3.6 3.6 0 1 0 7.2 0a3.6 3.6 0 1 0-7.2 0M410.5 180.1a3.6 3.6 0 1 0 7.2 0a3.6 3.6 0 1 0-7.2 0M409.6 181.8a3.6 3.6 0 1 0 7.2 0a3.6 3.6 0 1 0-7.2 0M410.6 184a3.6 3.6 0 1 0 7.2 0a3.6 3.6 0 1 0-7.2 0M409.5 186.2a3.6 3.6 0 1 0 7.2 0a3.6 3.6 0 1 0-7.2 0M410.9 188.3a3.6 3.6 0 1 0 7.2 0a3.6 3.6 0 1 0-7.2 0M409.4 189.9a3.6 3.6 0 1 0 7.2 0a3.6 3.6 0 1 0-7.2 0M411 191.6a3.6 3.6 0 1 0 7.2 0a3.6 3.6 0 1 0-7.2 0M408.8 194.2a3.6 3.6 0 1 0 7.2 0a3.6 3.6 0 1 0-7.2 0M411.4 195.7a3.6 3.6 0 1 0 7.2 0a3.6 3.6 0 1 0-7.2 0M408.3 197.1a3.6 3.6 0 1 0 7.2 0a3.6 3.6 0 1 0-7.2 0M412 199.7a3.6 3.6 0 1 0 7.2 0a3.6 3.6 0 1 0-7.2 0M408.1 200.9a3.6 3.6 0 1 0 7.2 0a3.6 3.6 0 1 0-7.2 0M439.3 171.3a3.6 3.6 0 1 0 7.2 0a3.6 3.6 0 1 0-7.2 0M439.5 171.5a3.6 3.6 0 1 0 7.2 0a3.6 3.6 0 1 0-7.2 0M439.6 172.9a3.6 3.6 0 1 0 7.2 0a3.6 3.6 0 1 0-7.2 0M438.8 172.7a3.6 3.6 0 1 0 7.2 0a3.6 3.6 0 1 0-7.2 0M439.7 174.6a3.6 3.6 0 1 0 7.2 0a3.6 3.6 0 1 0-7.2 0M438.9 174.3a3.6 3.6 0 1 0 7.2 0a3.6 3.6 0 1 0-7.2 0M440.3 175.9a3.6 3.6 0 1 0 7.2 0a3.6 3.6 0 1 0-7.2 0M438.4 176a3.6 3.6 0 1 0 7.2 0a3.6 3.6 0 1 0-7.2 0M440.1 177.8a3.6 3.6 0 1 0 7.2 0a3.6 3.6 0 1 0-7.2 0M438.4 176.8a3.6 3.6 0 1 0 7.2 0a3.6 3.6 0 1 0-7.2 0M440.4 179.3a3.6 3.6 0 1 0 7.2 0a3.6 3.6 0 1 0-7.2 0M438.4 178.9a3.6 3.6 0 1 0 7.2 0a3.6 3.6 0 1 0-7.2 0M440.5 181.1a3.6 3.6 0 1 0 7.2 0a3.6 3.6 0 1 0-7.2 0M438.1 181.2a3.6 3.6 0 1 0 7.2 0a3.6 3.6 0 1 0-7.2 0M440.4 182.1a3.6 3.6 0 1 0 7.2 0a3.6 3.6 0 1 0-7.2 0M438 182a3.6 3.6 0 1 0 7.2 0a3.6 3.6 0 1 0-7.2 0M440.8 184.2a3.6 3.6 0 1 0 7.2 0a3.6 3.6 0 1 0-7.2 0M437.8 183.6a3.6 3.6 0 1 0 7.2 0a3.6 3.6 0 1 0-7.2 0M440.7 185.5a3.6 3.6 0 1 0 7.2 0a3.6 3.6 0 1 0-7.2 0M437.7 185.6a3.6 3.6 0 1 0 7.2 0a3.6 3.6 0 1 0-7.2 0M440.9 186.6a3.6 3.6 0 1 0 7.2 0a3.6 3.6 0 1 0-7.2 0M437.2 186.9a3.6 3.6 0 1 0 7.2 0a3.6 3.6 0 1 0-7.2 0M440.9 188.5a3.6 3.6 0 1 0 7.2 0a3.6 3.6 0 1 0-7.2 0M437.2 188.7a3.6 3.6 0 1 0 7.2 0a3.6 3.6 0 1 0-7.2 0M441.1 190.4a3.6 3.6 0 1 0 7.2 0a3.6 3.6 0 1 0-7.2 0M437.2 190.5a3.6 3.6 0 1 0 7.2 0a3.6 3.6 0 1 0-7.2 0M441.2 191.7a3.6 3.6 0 1 0 7.2 0a3.6 3.6 0 1 0-7.2 0M436.9 192a3.6 3.6 0 1 0 7.2 0a3.6 3.6 0 1 0-7.2 0M441.6 193.9a3.6 3.6 0 1 0 7.2 0a3.6 3.6 0 1 0-7.2 0M437 193.5a3.6 3.6 0 1 0 7.2 0a3.6 3.6 0 1 0-7.2 0M441.8 195.1a3.6 3.6 0 1 0 7.2 0a3.6 3.6 0 1 0-7.2 0M436.6 195.4a3.6 3.6 0 1 0 7.2 0a3.6 3.6 0 1 0-7.2 0M441.8 196.3a3.6 3.6 0 1 0 7.2 0a3.6 3.6 0 1 0-7.2 0M436.6 196.5a3.6 3.6 0 1 0 7.2 0a3.6 3.6 0 1 0-7.2 0M442 198.1a3.6 3.6 0 1 0 7.2 0a3.6 3.6 0 1 0-7.2 0M436.4 198.2a3.6 3.6 0 1 0 7.2 0a3.6 3.6 0 1 0-7.2 0M442.2 200.1a3.6 3.6 0 1 0 7.2 0a3.6 3.6 0 1 0-7.2 0M436.2 200a3.6 3.6 0 1 0 7.2 0a3.6 3.6 0 1 0-7.2 0M442.7 201.1a3.6 3.6 0 1 0 7.2 0a3.6 3.6 0 1 0-7.2 0M435.9 201.9a3.6 3.6 0 1 0 7.2 0a3.6 3.6 0 1 0-7.2 0M443 203.5a3.6 3.6 0 1 0 7.2 0a3.6 3.6 0 1 0-7.2 0M435.4 203.5a3.6 3.6 0 1 0 7.2 0a3.6 3.6 0 1 0-7.2 0M464.8 202.2a3.6 3.6 0 1 0 7.2 0a3.6 3.6 0 1 0-7.2 0M465 202.2a3.6 3.6 0 1 0 7.2 0a3.6 3.6 0 1 0-7.2 0M465.6 203.5a3.6 3.6 0 1 0 7.2 0a3.6 3.6 0 1 0-7.2 0M463.9 203.6a3.6 3.6 0 1 0 7.2 0a3.6 3.6 0 1 0-7.2 0M489.8 177.4a3.6 3.6 0 1 0 7.2 0a3.6 3.6 0 1 0-7.2 0M489.9 177.5a3.6 3.6 0 1 0 7.2 0a3.6 3.6 0 1 0-7.2 0M490.3 179.1a3.6 3.6 0 1 0 7.2 0a3.6 3.6 0 1 0-7.2 0M489.1 179.2a3.6 3.6 0 1 0 7.2 0a3.6 3.6 0 1 0-7.2 0M490.5 180.6a3.6 3.6 0 1 0 7.2 0a3.6 3.6 0 1 0-7.2 0M489 180.3a3.6 3.6 0 1 0 7.2 0a3.6 3.6 0 1 0-7.2 0M490.5 182a3.6 3.6 0 1 0 7.2 0a3.6 3.6 0 1 0-7.2 0M488.9 181.6a3.6 3.6 0 1 0 7.2 0a3.6 3.6 0 1 0-7.2 0M490.9 184.8a3.6 3.6 0 1 0 7.2 0a3.6 3.6 0 1 0-7.2 0M488.7 183.7a3.6 3.6 0 1 0 7.2 0a3.6 3.6 0 1 0-7.2 0M491.1 185.3a3.6 3.6 0 1 0 7.2 0a3.6 3.6 0 1 0-7.2 0M488.5 185.4a3.6 3.6 0 1 0 7.2 0a3.6 3.6 0 1 0-7.2 0M491 187.3a3.6 3.6 0 1 0 7.2 0a3.6 3.6 0 1 0-7.2 0M488.3 187.2a3.6 3.6 0 1 0 7.2 0a3.6 3.6 0 1 0-7.2 0M491.4 188.9a3.6 3.6 0 1 0 7.2 0a3.6 3.6 0 1 0-7.2 0M488.2 189.4a3.6 3.6 0 1 0 7.2 0a3.6 3.6 0 1 0-7.2 0M491.7 190.5a3.6 3.6 0 1 0 7.2 0a3.6 3.6 0 1 0-7.2 0M488 189.7a3.6 3.6 0 1 0 7.2 0a3.6 3.6 0 1 0-7.2 0M491.6 191.9a3.6 3.6 0 1 0 7.2 0a3.6 3.6 0 1 0-7.2 0M487.9 191.5a3.6 3.6 0 1 0 7.2 0a3.6 3.6 0 1 0-7.2 0M491.7 193a3.6 3.6 0 1 0 7.2 0a3.6 3.6 0 1 0-7.2 0M487.6 193.5a3.6 3.6 0 1 0 7.2 0a3.6 3.6 0 1 0-7.2 0M492.1 195.1a3.6 3.6 0 1 0 7.2 0a3.6 3.6 0 1 0-7.2 0M487.5 195a3.6 3.6 0 1 0 7.2 0a3.6 3.6 0 1 0-7.2 0M492.2 196.7a3.6 3.6 0 1 0 7.2 0a3.6 3.6 0 1 0-7.2 0M487.4 196.7a3.6 3.6 0 1 0 7.2 0a3.6 3.6 0 1 0-7.2 0M492.4 198.1a3.6 3.6 0 1 0 7.2 0a3.6 3.6 0 1 0-7.2 0M487.3 198.5a3.6 3.6 0 1 0 7.2 0a3.6 3.6 0 1 0-7.2 0M492.3 199.8a3.6 3.6 0 1 0 7.2 0a3.6 3.6 0 1 0-7.2 0M486.9 199.9a3.6 3.6 0 1 0 7.2 0a3.6 3.6 0 1 0-7.2 0M492.6 200.8a3.6 3.6 0 1 0 7.2 0a3.6 3.6 0 1 0-7.2 0M486.5 201.3a3.6 3.6 0 1 0 7.2 0a3.6 3.6 0 1 0-7.2 0M493 203.3a3.6 3.6 0 1 0 7.2 0a3.6 3.6 0 1 0-7.2 0M486.4 203a3.6 3.6 0 1 0 7.2 0a3.6 3.6 0 1 0-7.2 0M493.8 204.2a3.6 3.6 0 1 0 7.2 0a3.6 3.6 0 1 0-7.2 0M485.8 203.7a3.6 3.6 0 1 0 7.2 0a3.6 3.6 0 1 0-7.2 0M533.7 197.3a3.6 3.6 0 1 0 7.2 0a3.6 3.6 0 1 0-7.2 0M533.7 196.7a3.6 3.6 0 1 0 7.2 0a3.6 3.6 0 1 0-7.2 0M534.6 198.9a3.6 3.6 0 1 0 7.2 0a3.6 3.6 0 1 0-7.2 0M532.4 198.7a3.6 3.6 0 1 0 7.2 0a3.6 3.6 0 1 0-7.2 0M535.2 200a3.6 3.6 0 1 0 7.2 0a3.6 3.6 0 1 0-7.2 0M532 200.5a3.6 3.6 0 1 0 7.2 0a3.6 3.6 0 1 0-7.2 0M535.6 202.3a3.6 3.6 0 1 0 7.2 0a3.6 3.6 0 1 0-7.2 0M531.7 201.5a3.6 3.6 0 1 0 7.2 0a3.6 3.6 0 1 0-7.2 0M536 203.3a3.6 3.6 0 1 0 7.2 0a3.6 3.6 0 1 0-7.2 0M531.1 203.5a3.6 3.6 0 1 0 7.2 0a3.6 3.6 0 1 0-7.2 0M536.8 205.1a3.6 3.6 0 1 0 7.2 0a3.6 3.6 0 1 0-7.2 0M530.9 204.6a3.6 3.6 0 1 0 7.2 0a3.6 3.6 0 1 0-7.2 0M574.4 201.9a3.6 3.6 0 1 0 7.2 0a3.6 3.6 0 1 0-7.2 0M574.1 201.4a3.6 3.6 0 1 0 7.2 0a3.6 3.6 0 1 0-7.2 0M575.6 203.5a3.6 3.6 0 1 0 7.2 0a3.6 3.6 0 1 0-7.2 0M573.4 203.5a3.6 3.6 0 1 0 7.2 0a3.6 3.6 0 1 0-7.2 0M576.3 204.7a3.6 3.6 0 1 0 7.2 0a3.6 3.6 0 1 0-7.2 0M572.6 205.6a3.6 3.6 0 1 0 7.2 0a3.6 3.6 0 1 0-7.2 0" fill="none" stroke="#000" stroke-width="1.55"/>
<path d="M325.5 192.5 331 194.5 333 195.1 334.1 195.1 334.8 194.8 335.3 194.3 335.7 193.4 336.1 190.9 336.4 187 337.2 160.8 337.4 156.8 337.7 162.4 338.2 182.1 338.6 190.6 338.9 193.2 339.2 194.6 339.4 195.3 340 196.2 340.7 196.7 341.5 197.1 344.4 197.7 355 198.9 365.9 200.4 371.1 200.9 373.2 200.7 374.2 200.5 374.8 200.1 375.5 199.6 376.1 198.9 376.9 197 377.5 193.9 378.1 188.9 378.5 180.8 378.7 170.2 379.1 137.3 379.9 18.6 380.1 18.7 380.2 31.2 380.9 137.6 381.4 176.8 381.8 187.5 382.5 194.9 383 197.7 383.6 199.5 384.2 200.9 385.2 202.1 386.5 202.9 388.3 203.6 390.7 204 394.2 204.5 400.7 205 406 205.2 408.8 205.1 409.7 204.9 410.4 204.6 410.8 204.2 411.2 203.4 411.6 201.9 411.9 200.3 412.4 194.8 413.2 183.6 413.6 181 413.7 181.2 414 183.1 414.9 196.1 415.3 200.1 415.9 203.1 416.3 204.2 416.7 204.8 417.8 205.4 419.8 205.8 429.7 206.7 434.9 206.9 436.3 206.6 437.2 206.3 438 205.7 438.7 204.7 439.2 203.2 439.8 200.8 440.6 194.7 442.2 177.5 442.6 175.1 442.8 174.7 443.1 175.3 443.5 177.9 445 193.8 445.8 200.2 446.2 202.3 446.7 204.1 447.3 205.2 447.9 205.9 448.6 206.3 449.5 206.6 452.6 207 461.3 207.3 464 207.3 465.4 207.1 466.2 206.7 466.7 205.9 468 201.6 468.3 201 468.6 200.9 469 201.5 469.9 204.7 470.5 206.1 471 206.9 471.7 207.2 474.2 207.5 480 207.6 483.9 207.4 486.4 207.1 487.8 206.6 488.6 205.8 489.2 204.6 489.9 202.2 490.4 199.2 491 195 492.6 178.8 493 176.3 493.3 175.6 493.4 175.6 493.7 176.3 494.1 178.8 495.7 195 496.6 201.7 497.1 203.9 497.8 205.5 498.6 206.5 499.8 207.1 501.4 207.5 503.6 207.8 510.6 208.1 525.6 208.3 529.5 208.2 531.5 208 532.8 207.5 533.8 206.5 534.7 204.7 536.4 200.4 536.8 199.8 537.2 199.7 537.6 199.9 538 200.6 539.8 205 540.7 206.7 541.8 207.7 542.5 208 543.4 208.3 548.4 208.6 553.9 208.5 555.3 208.2 557.2 206.9 557.9 206.6 558.6 206.8 560.6 208.2 561.9 208.6 568.2 208.8 572.9 208.6 574.1 208.1 575.1 207.3 575.9 206 577.3 203 577.7 202.5 578 202.4 578.4 202.5 578.8 203.1 580.3 206.1 581 207.2 581.6 208 582.4 208.4 583.5 208.7 585.1 208.8 593.7 209.1" fill="none" stroke="#ff0000" stroke-width="1.3" stroke-linejoin="round" />
</g>
<line x1="336.32" y1="216" x2="336.32" y2="221" stroke="#1f9a1f" stroke-width="1.9" />
<line x1="379.32" y1="216" x2="379.32" y2="221" stroke="#1f9a1f" stroke-width="1.9" />
<line x1="413.02" y1="216" x2="413.02" y2="221" stroke="#1f9a1f" stroke-width="1.9" />
<line x1="441.41" y1="216" x2="441.41" y2="221" stroke="#1f9a1f" stroke-width="1.9" />
<line x1="467.74" y1="216" x2="467.74" y2="221" stroke="#1f9a1f" stroke-width="1.9" />
<line x1="491.74" y1="216" x2="491.74" y2="221" stroke="#1f9a1f" stroke-width="1.9" />
<line x1="535.95" y1="216" x2="535.95" y2="221" stroke="#1f9a1f" stroke-width="1.9" />
<line x1="557.36" y1="216" x2="557.36" y2="221" stroke="#1f9a1f" stroke-width="1.9" />
<line x1="577.52" y1="216" x2="577.52" y2="221" stroke="#1f9a1f" stroke-width="1.9" />
<path d="M325.5 227.5 325.6 227.2 325.9 227.7 325.9 227.3 326 227.5 326.4 227.3 326.6 227.5 326.7 227.1 326.8 227.8 327 227 327.1 227.8 327.2 227.4 327.4 227.5 327.6 227.2 327.7 227.5 327.9 227.3 328 227.9 328.1 227.5 328.3 227.9 328.4 227.4 328.5 227.4 328.7 227.9 329 227.3 329.2 227.9 329.3 227.3 329.3 227.8 329.4 227.5 329.7 227.3 329.9 227.7 330 227.1 330.1 227.4 330.2 227.1 330.3 227.3 330.4 227.1 330.5 227.6 330.6 227.6 330.7 227.1 330.8 227.8 331 226.9 331.1 227.5 331.2 226.8 331.3 227.4 331.5 227.6 331.6 227.3 331.7 227.7 331.8 227.3 331.8 227.6 331.9 227.2 332 227.5 332.1 227.3 332.2 227.4 332.3 228 332.4 227.4 332.7 227.5 332.7 226.9 332.8 227.6 333 226.9 333.1 227.4 333.2 227.1 333.4 227.7 333.5 227.2 333.7 227.9 333.8 227.4 333.9 227.8 334 227.8 334.1 227.1 334.2 227.6 334.3 227.1 334.4 227.5 334.4 227.5 334.6 227 334.9 227.5 335 227.4 335.1 227.5 335.2 227 335.4 227.7 335.5 227.2 335.7 226.9 335.8 227.9 335.9 227.1 336 227.6 336.2 227.3 336.3 227.7 336.6 226.8 336.7 227.2 336.9 226.8 336.9 227 337 226.7 337.1 227.2 337.4 227 337.6 227.5 337.7 227 337.9 227.7 338.1 227.3 338.2 227.7 338.5 227.2 338.6 227.6 338.7 227.3 338.8 227.5 339.1 227.2 339.2 227.6 339.5 227.4 339.6 227.6 339.7 227 339.8 227.6 339.9 227.1 340 227.4 340.3 227.5 340.3 227.2 340.4 227.8 340.6 227.5 340.7 227.6 340.9 227 341.1 227.5 341.1 226.8 341.2 227.8 341.4 227.2 341.5 227.3 341.6 227 341.9 227.7 341.9 227.1 342 227.7 342.1 227.5 342.3 227.4 342.5 227.9 342.8 227.2 342.9 227.6 343.1 227.2 343.3 228 343.5 227.3 343.6 227.4 343.7 227.1 343.8 227.5 343.9 227.3 344.1 228.1 344.2 227.5 344.4 227.4 344.5 227.8 344.6 227.5 344.7 227.6 344.8 227.2 345.1 227.6 345.2 227.2 345.3 227.7 345.3 227.2 345.6 227.8 345.7 227.2 346.1 227.6 346.2 227.1 346.2 227.2 346.3 227.1 346.4 227.8 346.5 227.5 346.6 227.6 346.7 226.9 346.8 227.5 346.9 227.4 347 227.7 347 227 347.1 227.8 347.3 227.6 347.4 227.1 347.5 227.9 347.6 227.5 347.8 227.4 348.1 227.7 348.3 227.3 348.5 227.7 348.6 227.3 348.7 227.7 348.9 227.3 349.1 227.7 349.3 227.5 349.4 227.9 349.5 227.1 349.6 227.6 349.7 227.2 349.9 227.3 350 227.5 350.1 227.4 350.3 227.7 350.4 227.3 350.5 227.5 350.6 226.9 350.7 227.4 350.8 227 350.9 227.2 351 227.2 351.1 227.7 351.2 227.3 351.2 227.2 351.3 227.6 351.5 227.1 351.6 227.7 351.7 227.6 351.9 227 352 227.2 352.1 227.2 352.1 227.8 352.2 227.2 352.4 227.7 352.5 227.5 352.7 227.7 352.9 227 352.9 227.7 353 226.8 353.2 227.6 353.3 226.9 353.5 227.9 353.7 226.9 353.8 227.8 353.9 227.1 354.2 227.2 354.3 227.9 354.5 227 354.7 227.8 354.8 227 355 227.6 355.1 227.3 355.3 227.3 355.4 227.5 355.4 227.2 355.5 227.7 355.6 226.9 355.7 227.6 355.8 227.6 356 227.3 356.1 227.7 356.2 227.1 356.3 227.3 356.3 227.2 356.4 227.4 356.5 227.1 356.7 227.5 356.8 227.4 356.9 227.4 357 227.8 357.1 226.9 357.3 227.7 357.4 227.1 357.6 227.5 357.7 227.1 357.9 227.4 358 227.3 358.1 227.6 358.2 227.3 358.3 227.6 358.6 227.2 358.7 227.8 358.8 227.1 358.9 227.6 359 226.8 359.1 227.2 359.2 226.9 359.4 227.5 359.5 227.2 359.7 227.6 359.7 227.2 359.8 227.3 359.9 227.1 360 227.5 360.1 227.3 360.2 227.8 360.4 227.1 360.5 227.4 360.7 227.5 360.8 227.3 360.9 227.6 361.2 227.3 361.3 227.7 361.3 227 361.4 227.6 361.6 227.2 361.8 228 362 227.2 362.2 227.8 362.3 227.4 362.4 227.6 362.5 227.5 362.6 227.7 362.8 227.2 363 227.7 363.1 226.9 363.4 227.6 363.5 227.3 363.6 227.7 363.8 227.1 363.9 227.5 363.9 227.2 364 227.7 364.3 227.2 364.5 227.6 364.7 227.2 364.7 227.5 365.1 226.4 365.2 226.8 365.3 226.7 365.4 226.8 365.5 226.4 365.9 226.2 366 226.7 366.1 226.4 366.3 226.6 366.4 226.2 366.6 226.8 366.7 226.9 366.8 226.7 366.9 227.2 367 227.1 367.1 227.4 367.2 226.6 367.3 227.4 367.4 227.4 367.5 227.9 367.6 227.4 367.8 227.8 367.9 226.7 368 227 368.1 226.9 368.1 227.5 368.2 227.3 368.3 227.5 368.4 227 368.6 227.4 368.8 227.3 368.9 227.6 368.9 227.2 369.1 227.2 369.2 227.5 369.3 227.1 369.5 227.1 369.6 226.9 369.7 227.3 369.8 226.8 370.1 227.7 370.2 227.3 370.3 227.7 370.4 227.4 370.5 227.7 370.6 227 370.7 227.3 371 227.5 371.1 227.1 371.2 227.4 371.3 227.2 371.4 227.8 371.5 227.2 371.6 227.8 371.7 227 371.8 227.8 372 227.3 372.3 227.4 372.3 227.2 372.5 227.5 372.6 227.4 372.7 227.7 372.8 227.1 373 227.6 373.1 227.5 373.2 227.7 373.3 227.1 373.4 227.7 373.5 227.2 373.6 227.7 373.7 227.4 373.8 227.7 373.9 226.8 374 227.6 374 227.3 374.1 227.8 374.3 227.7 374.4 227.4 374.5 227.4 374.6 227.2 374.9 227.7 375 227.2 375.2 227.6 375.4 227 375.5 227.3 375.7 227.1 375.7 227.4 375.8 227.3 376.1 227.4 376.2 227.5 376.4 227.4 376.5 227.6 376.6 227.3 376.8 227.7 376.9 227.4 377 227.7 377.2 227.5 377.3 227.8 377.4 227.1 377.4 227.6 377.5 227.2 377.6 227.4 377.7 226.8 377.8 227.6 377.9 227.7 378 227.1 378.1 227.6 378.3 224.7 378.5 224 378.9 230.7 379.1 229.7 379.3 224.7 379.8 229.1 379.9 229.1 380.1 227.7 380.4 227.1 380.5 227.6 380.7 226.9 381 227.4 381.1 227.2 381.3 227.6 381.4 227.1 381.5 227.2 381.6 227.7 381.6 227.5 381.7 227.6 381.8 227.3 382 227.3 382.1 227.2 382.2 227.6 382.3 227.1 382.4 227.2 382.4 227.1 382.5 227.8 382.6 227.1 382.7 227.6 382.8 227 383 228 383.1 227.4 383.2 227.7 383.3 227.1 383.4 227.7 383.6 227.3 383.7 227.4 383.9 227.2 384 227.6 384.1 226.9 384.3 227.6 384.6 226.8 384.7 228.1 384.8 227.2 384.9 227.5 385 227.1 385 227.6 385.1 227 385.3 227.4 385.4 227.1 385.5 227.6 385.6 227.4 385.7 227.7 385.9 227.1 386.1 227.6 386.2 227 386.3 227.6 386.4 227 386.5 227.5 386.7 227 386.9 227.5 387 227.1 387.1 227.5 387.4 226.9 387.5 227.4 387.6 227 387.7 227.2 387.8 227.9 388.1 227.2 388.3 227.7 388.3 227.2 388.6 227.3 388.7 227.5 388.8 227.2 388.9 227.4 389.2 227.4 389.2 227 389.4 226.9 389.5 227.4 389.7 227.5 389.8 227.8 389.9 227.3 390 227.7 390 227.4 390.1 227.6 390.2 227.2 390.3 227.4 390.6 226.9 390.9 228.1 390.9 227.4 391 227.5 391.1 227.1 391.2 227.7 391.3 227.2 391.5 228 391.6 226.9 391.7 227.2 391.7 227.1 391.8 227.2 391.9 227.1 392.1 227.7 392.2 227.4 392.3 227.8 392.4 227.5 392.5 227.8 392.6 227.2 392.7 227.8 392.8 227.2 392.9 227.2 393 227.6 393.2 227.1 393.3 227.6 393.4 227.3 393.6 227.2 393.7 227.5 393.9 227.2 394 227.9 394.2 227.1 394.2 227.5 394.3 227.2 394.4 227.3 394.5 227.9 394.7 227.5 394.8 227.7 394.9 227 395.1 227.6 395.2 227 395.3 227.5 395.5 227.4 395.7 227.4 395.9 227.8 395.9 227.3 396 227.7 396.2 227.2 396.4 227.6 396.7 227.1 396.8 227.6 396.8 227.3 396.9 227.4 397 227.2 397.1 227.8 397.3 227.1 397.4 227.6 397.5 227.4 397.6 227.6 397.7 227 397.9 228 398 227.5 398.3 227.7 398.4 227.4 398.5 227.6 398.7 227.4 398.8 227.6 399.1 227.1 399.3 227.8 399.4 227.4 399.6 227.3 399.9 227.7 400 227.3 400.1 227.6 400.2 227 400.3 227.5 400.4 227.2 400.6 227.3 400.8 227.2 401 227.5 401.1 227.1 401.3 227.8 401.6 227.1 401.8 227.9 401.9 227 402 227.5 402.2 227.7 402.3 227 402.4 227.5 402.5 227.4 402.7 227.5 402.7 227.2 402.8 227.5 403 227 403.3 227.8 403.4 227.3 403.5 227.8 403.5 227.2 403.6 227.2 403.7 227 404 227.6 404.1 227.3 404.2 227.4 404.3 227.1 404.4 227.8 404.5 227.1 404.7 227.6 405.1 227.1 405.2 227.7 405.2 227 405.3 227.3 405.4 227.1 405.5 227.2 405.6 227 405.8 227.6 405.9 227.2 406 227.4 406.1 227.3 406.2 227.8 406.3 227.1 406.5 227.6 406.7 227.3 406.8 227.7 406.9 226.8 407 227.7 407.1 227.1 407.2 228.1 407.3 227.5 407.5 227.5 407.6 227.4 407.7 228 407.7 227.1 407.9 227.5 408 227.5 408.1 227.1 408.2 227.7 408.3 227.1 408.6 227.4 408.6 227.3 408.9 227.6 409 227.1 409.2 227.7 409.4 227.6 409.5 226.5 409.7 228 409.8 226.9 409.9 227.5 410.1 226.9 410.2 227.7 410.3 227.2 410.4 227.5 410.5 227.3 410.7 227.8 410.8 227.3 411 227.8 411.1 227.1 411.1 227.4 411.2 227.1 411.3 227.6 411.4 227.1 411.5 227.5 411.6 227.3 411.7 227.6 411.9 227.2 412 228.5 412.1 228.8 412.2 228.6 412.3 228.9 412.6 228.3 412.8 228.6 412.8 227.6 412.9 228 413.1 227.7 413.2 227 413.4 227.7 413.5 226.9 413.6 227.3 413.7 227.4 413.8 227.6 413.9 227.3 414 227.6 414.1 227.6 414.2 227 414.3 227.4 414.4 227.3 414.5 227.4 414.5 227.2 414.7 227.7 414.9 227.1 415.1 227.6 415.2 227 415.4 227.6 415.5 227.3 415.8 227.6 415.9 227.3 416 227.9 416.1 227.5 416.2 227.6 416.5 226.9 416.6 227.7 416.8 227.1 417 227.6 417 227.4 417.1 227.7 417.2 227 417.5 227.8 417.6 227.5 417.8 227.7 417.9 227 418 227.8 418.2 227.4 418.4 227.8 418.6 227.4 418.7 227.6 418.7 227.2 418.8 227.5 418.9 227.4 419 227.5 419.1 226.9 419.3 228.1 419.4 227.3 419.5 227.5 419.6 227.3 419.7 227.5 419.8 227 419.9 227.4 420 227.4 420.1 226.9 420.3 227.6 420.4 227.2 420.5 227.5 420.7 226.9 420.8 227.3 421 227.3 421.1 227.7 421.2 227.2 421.3 228 421.5 227 421.6 227.3 421.7 227.1 421.9 227.4 422 227.1 422.1 227.7 422.2 227.3 422.5 227.4 422.6 227.2 422.7 227.6 422.8 227 422.9 227.4 423 227.5 423.1 227.6 423.2 227.2 423.3 227.6 423.4 226.9 423.5 227.2 423.6 227.1 423.7 227.6 423.8 226.8 423.8 227.6 424.1 227 424.3 228 424.4 226.8 424.6 227.5 424.7 227.5 424.8 227.3 424.9 227.4 425 227.1 425.1 227.6 425.2 227.2 425.4 227.6 425.4 227.3 425.5 227.6 425.7 227.2 426 227.3 426.1 227.5 426.3 227.4 426.5 227.6 426.7 227.3 426.9 227.8 427.1 227.2 427.4 227.9 427.6 227.1 427.8 227.2 427.9 227.7 428 227.3 428 227.5 428.1 227 428.2 227.6 428.4 227.2 428.7 227.4 428.8 227.2 428.9 227.3 429 227.2 429.1 227.5 429.3 227.2 429.6 227.4 429.7 227.1 430.1 227.7 430.2 227.4 430.4 227.8 430.5 227.5 430.5 227.9 430.6 227 430.7 227.5 431 227.2 431.2 227.5 431.3 227.2 431.3 227.4 431.4 227.2 431.5 228 431.9 226.8 432.1 227.6 432.2 227.2 432.3 227.6 432.4 227.3 432.5 227.4 432.6 227.3 432.7 227.5 432.9 227.2 433 227.6 433.2 227.5 433.3 227.8 433.4 227.2 433.5 227.6 433.6 226.9 433.7 227.5 433.8 227.3 433.9 227.4 433.9 227.3 434 227.8 434.1 227.4 434.2 227.7 434.3 227.3 434.4 227.5 434.6 227.2 434.8 227.8 435 227.1 435.1 227.7 435.2 227.3 435.3 227.6 435.4 227.1 435.5 227.4 435.6 227.5 435.6 227.4 435.7 227.7 435.8 227.2 435.9 227.7 436 227.1 436.1 227.8 436.3 227.6 436.4 227 436.4 227.6 436.6 227.3 436.8 227.8 437 227 437.2 227.5 437.2 227.2 437.3 227.3 437.4 227.8 437.5 227.4 437.8 227 438.1 227.8 438.1 227.2 438.3 227.5 438.4 227 438.5 227.3 438.6 227.1 438.7 227.4 438.9 226.9 439 227.4 439.2 227.6 439.3 227.3 439.4 227.8 439.5 227 439.6 227.2 439.7 227 439.8 227.7 439.9 227.4 440 227.7 440.1 227.7 440.2 227.1 440.4 227.3 440.6 227 440.6 227.1 440.7 227.9 440.9 227.4 441 227.4 441.1 226.7 441.5 227.5 441.6 226.9 441.7 227 441.8 226.5 441.9 226.6 442 226.1 442.1 226.6 442.3 225.5 442.4 225.6 442.6 225.1 442.8 225.7 443 225.5 443.2 226.8 443.3 226.5 443.6 227.3 444 227.5 444.1 226.8 444.4 227.7 444.5 227.2 444.6 227.3 444.7 227.1 444.9 228 445 227.4 445.2 227.7 445.3 227.2 445.5 227.7 445.6 227 445.7 227.8 445.9 227.7 446 227.2 446.1 227.6 446.2 226.8 446.4 227.5 446.7 227.5 446.8 227.1 446.9 227.8 447.1 227.3 447.2 227.4 447.3 227.3 447.4 227.5 447.6 226.9 447.9 227.2 448 227.9 448.2 227.3 448.3 227.7 448.5 227.1 448.7 227.6 448.8 227 448.9 227.2 449 227 449.1 227.2 449.1 227.1 449.3 227.5 449.4 227 449.5 228 449.7 227.3 449.8 227.7 450.2 227.3 450.4 227.5 450.5 227.4 450.6 227.6 450.7 227.4 450.8 227.6 451 227.2 451.1 227.7 451.2 227.3 451.3 227.5 451.6 227.1 451.6 227.4 451.7 227.2 451.9 227.3 452 227.8 452.3 227.4 452.4 226.9 452.5 228 452.6 227.6 452.7 227.7 452.8 227.1 452.9 227.5 453.1 227.6 453.2 227.4 453.3 227.5 453.3 227 453.7 227.5 453.8 227.1 454 227.9 454.1 227.4 454.1 227.8 454.3 227.7 454.5 227.1 454.8 227.8 454.9 227.4 455 227.7 455 226.9 455.2 227.6 455.5 227.2 455.8 227.7 455.9 227.2 456.1 227.9 456.3 227.1 456.5 227.5 456.6 227.4 456.6 227.6 456.8 227.5 457 227.8 457.3 227.4 457.5 227.5 457.5 227.3 457.6 227.5 457.7 227.3 457.8 227.6 458.1 227.4 458.2 227.1 458.3 227.4 458.3 227.1 458.4 227.6 458.5 227.4 458.8 227.9 458.9 227.1 459 227.4 459.1 227.4 459.2 227.8 459.3 227.4 459.4 227.8 459.6 226.9 460 227.7 460.2 227.7 460.3 227.1 460.4 227.6 460.6 227.4 460.7 227.5 460.8 227.3 460.9 227.6 461 227.2 461.1 227.4 461.2 227.3 461.3 227.4 461.4 227.8 461.5 227.5 461.6 227.7 461.7 227.6 461.7 226.9 461.8 227.9 462.1 226.6 462.2 227.5 462.3 226.9 462.4 227.7 462.5 227.2 462.6 227.5 462.7 227.3 462.8 227.4 462.9 227.8 463 227.2 463.2 227.8 463.3 227.2 463.4 227.3 463.5 227.2 463.6 227.6 463.7 227.6 464.1 227 464.3 227.7 464.5 226.9 464.7 227.5 464.8 227.2 464.9 227.6 465 227 465.3 227.6 465.4 227.1 465.6 227.6 465.9 227 465.9 227.3 466 227.3 466.1 227.8 466.4 226.9 466.5 227.6 466.6 227.2 466.7 227.9 466.8 227.4 466.9 227.9 467 227.9 467.1 227.6 467.3 227.9 467.5 227.7 467.7 228.7 467.8 228.6 468.2 229.7 468.5 230.2 468.6 229.9 468.7 230.6 468.8 229.9 468.9 230.5 469.1 230.6 469.3 230.3 469.4 229.3 469.5 230 469.7 228.5 469.9 228.9 470.1 227.7 470.3 228.3 470.5 228.4 470.6 227.6 470.7 227.8 470.8 227.3 471 227.7 471.2 227.1 471.3 227.6 471.4 227.6 471.5 227 471.6 227.7 471.8 227.3 471.8 227.8 471.9 227.5 472 228 472.1 227.2 472.3 227.4 472.4 226.8 472.5 227.7 472.6 227.4 472.7 227.3 472.7 227.5 472.8 227.5 473 227.1 473.1 227.5 473.2 227.4 473.3 227.5 473.5 226.9 473.5 227.3 473.7 226.8 473.9 227.6 474 227 474.2 227.5 474.3 226.8 474.4 227.5 474.4 227.5 474.5 226.9 474.6 227.5 474.8 227 474.9 228 475.1 227.1 475.2 227.7 475.3 227.2 475.5 227.8 475.6 227.5 475.7 227.6 475.8 227 476 227.6 476 227.1 476.2 227.3 476.3 227.9 476.4 227.4 476.6 227.6 476.8 227.1 476.9 227.8 477 227.5 477.2 227.5 477.4 227.3 477.5 227.6 477.7 227.3 477.9 227.7 478.1 227.2 478.2 227.8 478.3 227 478.4 227.7 478.5 227.1 478.6 227.7 478.7 227.2 478.9 227.7 479.1 227 479.2 227.7 479.3 227.2 479.4 227.7 479.5 227.1 479.7 227.6 479.8 227.1 479.9 227.4 480.2 227.3 480.3 227.4 480.3 227.3 480.4 227.6 480.5 227.2 480.6 227.8 480.7 227.3 480.8 227.8 480.9 227.8 481 227.3 481.1 227.6 481.2 227.5 481.3 227.6 481.5 227.1 481.8 227.7 481.9 227.2 482 227.8 482.1 227.1 482.3 227.7 482.5 226.9 482.6 227.8 482.8 227 482.9 227.4 483 227.3 483.1 227.5 483.4 227.3 483.6 227.5 483.6 227.2 483.7 227.6 483.9 226.9 484.2 228 484.5 227 484.7 227.6 484.9 227.1 485 227.5 485.1 227 485.3 227.5 485.5 227.4 485.6 226.8 485.7 227.3 485.8 227.3 485.9 227.5 486 227.1 486.1 227.4 486.2 227.3 486.2 226.8 486.3 226.8 486.4 227.6 486.6 227.6 486.8 227.3 486.9 227.6 487.2 226.9 487.5 227.7 487.6 227.3 487.7 227.4 487.9 227 488 227.4 488.2 227.3 488.5 227.5 488.7 227.4 488.9 227.1 489 227.6 489.1 227.2 489.2 227.6 489.5 226.6 489.6 227.4 489.7 226.4 489.8 226.5 490.2 225.7 490.3 226 490.4 226 490.5 226.2 490.6 226.1 490.7 226.4 490.8 226.2 490.9 226.6 491.2 226.1 491.2 226.2 491.4 227.1 491.5 226.8 491.7 227.5 491.8 227 492 227.8 492.2 227.1 492.3 227.6 492.4 227.3 492.5 227.7 492.9 227.5 493 227.9 493.1 227.2 493.2 227.7 493.3 227.3 493.4 227.6 493.5 227.1 493.6 227.7 493.7 227.2 493.8 227.3 493.8 227 493.9 227.4 494 227.2 494.2 227.8 494.5 226.7 494.6 227.4 494.6 227 494.7 227.6 494.8 227.3 495 227.8 495.3 227.2 495.4 227.8 495.4 227.5 495.5 227.6 495.6 227.4 495.7 227.7 495.9 227.3 496 227.7 496.1 227.4 496.3 227.7 496.3 227.3 496.4 227.7 496.5 227.6 496.6 227.8 496.7 227.4 497 227.7 497.1 227.1 497.2 227.4 497.5 227.6 497.6 227.1 497.8 227.8 497.9 226.9 498 227.6 498 227.2 498.3 227.8 498.4 227.5 498.5 227.9 498.7 227.5 498.8 227.8 499 226.9 499.1 227.7 499.2 226.8 499.5 227.2 499.6 227.8 499.8 227.6 499.9 227 500.2 227.6 500.4 227.2 500.5 227.5 500.6 227.4 500.7 227.2 501 227.7 501.1 226.8 501.3 227.6 501.5 227 501.7 227.2 501.9 227.1 502.1 227.6 502.2 227.1 502.3 227.8 502.4 227.2 502.8 227.5 502.9 227 503 227.4 503.1 227 503.2 227.9 503.3 227.4 503.4 227.5 503.6 227.3 503.8 228 503.9 227.4 504 227.5 504.3 227.1 504.4 227.8 504.5 227.4 504.7 227.6 504.8 227.2 505.1 227.6 505.3 226.9 505.4 227.4 505.6 227.4 505.6 227.1 505.8 227.9 506 227.2 506.2 227.5 506.3 227 506.4 227.6 506.6 226.8 506.9 227.9 507 227.7 507.1 228 507.2 227.3 507.3 227.5 507.3 227.1 507.5 227.8 507.7 227.3 507.8 227.6 507.9 227.3 508.1 227.6 508.1 227.1 508.2 227.8 508.4 227.5 508.7 227.4 508.9 227.9 509 227.6 509.1 227.1 509.2 227.7 509.3 227.5 509.4 226.9 509.6 227.4 509.8 227.2 509.8 227.8 509.9 227.4 510 227.6 510.1 227.1 510.3 227.7 510.4 227.2 510.5 227.8 510.6 227.4 510.7 227.6 510.8 227.1 510.9 227.8 511 226.8 511.1 227.6 511.4 227.1 511.5 228 511.8 226.9 511.9 227.2 512.1 226.9 512.2 227.4 512.3 227.2 512.5 227.7 512.6 227 512.9 227.9 513.1 227.7 513.2 227.9 513.3 227.5 513.4 227.6 513.6 227.1 513.8 227.5 513.9 227.1 514 227.4 514 227.1 514.2 227.8 514.4 227 514.5 227.7 514.8 227.1 514.8 227.7 514.9 227.1 515.1 227.7 515.2 227.1 515.3 227.1 515.4 227.6 515.5 227.1 515.7 227.8 515.9 227.4 516 227.8 516.2 227.1 516.3 227.8 516.4 227.6 516.5 227.8 516.5 226.9 516.7 227.7 516.9 227.1 517.1 227.6 517.3 227.4 517.4 226.7 517.5 227.5 517.6 227.3 517.8 227.5 518 227.2 518.2 227.8 518.3 227.5 518.4 227.1 518.6 227.4 518.8 227 519.1 227.4 519.1 227.4 519.2 227.1 519.3 227.5 519.4 226.9 519.5 227.5 519.8 227.2 520 227.5 520.3 227 520.5 227.7 520.8 227.5 520.9 227.7 521.1 227.2 521.3 227.7 521.4 227 521.6 227.5 521.7 227.5 521.9 227.3 522 227.7 522.1 227.5 522.2 227.5 522.3 227.2 522.4 227.6 522.5 227.1 522.8 227.3 523 227.9 523.2 227.2 523.3 227.3 523.3 227.2 523.7 227.3 523.9 227.4 524 227.9 524.1 227.4 524.2 228 524.3 227.1 524.4 227.6 524.5 227.4 524.6 227.6 524.7 227 524.9 227.4 525 227 525.1 228 525.2 227.4 525.3 227.7 525.4 227.2 525.6 227.7 525.8 227.3 525.9 227.5 526 226.8 526.2 227.5 526.3 227.5 526.4 227.7 526.5 227.3 526.6 227.9 526.8 227.2 526.9 227.2 527 227.6 527.1 227.1 527.2 227.4 527.4 227.5 527.5 227.3 527.5 227.7 527.6 227.1 527.7 227.9 527.9 227.7 528 227.2 528.2 227.7 528.5 227.1 528.7 227.7 529 227 529.1 227.2 529.2 227.2 529.3 228.3 529.5 227.5 529.6 227.4 529.9 227.5 530 227.1 530 227.9 530.1 227 530.3 227.6 530.5 226.9 530.8 227.4 530.9 228 530.9 227.6 531 227.7 531.2 227.3 531.3 227.6 531.4 227.7 531.5 227.3 531.7 227.7 531.7 226.8 531.9 227.4 532 226.8 532.2 227.7 532.4 227 532.6 227.8 532.6 227.3 532.9 227.6 533 227.2 533.4 227.8 533.4 227.2 533.6 228 533.8 227.4 534 228 534.1 227.2 534.3 227.7 534.4 227.7 534.7 228 534.9 227.8 535.1 228.6 535.1 228.2 535.2 228.2 535.3 228.7 535.4 228.3 535.5 228.7 535.6 228.3 535.9 228.3 536 227.6 536.1 228.5 536.2 228.5 536.4 227.5 536.5 228.1 536.6 227.8 536.7 228.1 536.8 227.6 536.9 227.6 537 227.2 537.1 227.4 537.2 227.2 537.3 227.4 537.4 227.2 537.6 227.7 537.7 227.3 537.9 227.7 538.2 227 538.3 227.5 538.4 227.5 538.5 226.9 538.5 227.7 538.6 227.9 538.7 227.6 538.8 227.9 539 227 539.1 227.5 539.2 227.3 539.3 227.4 539.4 226.8 539.5 227.1 539.9 227.7 540.2 227.2 540.4 227.4 540.6 227.2 540.7 227.5 540.8 227.4 540.9 227.8 541 227.2 541.2 227.8 541.4 227.1 541.5 227.5 541.6 227.1 541.8 227.5 541.9 227.1 542 227.7 542.2 227.2 542.5 227.9 542.6 227 542.8 227.6 542.9 227.7 543 227.4 543.1 227.7 543.2 227.5 543.3 227.8 543.4 227.3 543.5 227.8 543.5 226.7 543.8 227.7 543.9 227.1 544.1 227.5 544.2 227.2 544.3 227.7 544.4 227.1 544.5 227.8 544.7 227.2 544.8 227.3 545.1 226.8 545.2 227.9 545.2 227.3 545.4 227.1 545.6 227.4 545.7 226.7 545.8 227.7 546 227 546.1 227.3 546.2 227.3 546.3 227.8 546.4 227.2 546.5 227.4 546.6 227.3 546.8 227.3 546.9 227 547 227.6 547.2 227.5 547.3 227.3 547.4 227.5 547.5 227.4 547.7 227.6 547.8 227.5 548 226.8 548.1 227.4 548.4 227.4 548.6 226.6 548.6 227.5 548.8 227.5 548.9 227.8 549 227.8 549.1 227.6 549.2 227.7 549.4 227.2 549.4 227.3 549.5 227.1 549.7 227.4 549.9 227.4 550 227 550.3 228 550.4 227 550.6 227.5 550.7 227.3 550.9 227.7 551 227.1 551.1 227.2 551.4 227.6 551.5 227.3 551.6 227.5 551.7 227.4 551.8 227.8 552 227.3 552.1 226.8 552.2 227.8 552.3 227.1 552.6 227.8 552.8 227.3 553.1 227.5 553.2 227 553.3 227.7 553.4 227.1 553.6 227.6 553.8 227 553.9 227.6 554.2 227.4 554.4 227.7 554.6 227.3 554.7 227.5 554.9 227 555 227.5 555.3 227.3 555.5 228 555.6 227.3 555.7 228.1 555.8 227.7 555.9 228 556 227.9 556.2 228.4 556.3 228 556.4 228.4 556.6 227.9 556.9 229 557 229.1 557 228.5 557.2 228.3 557.3 228.7 557.4 228.5 557.5 229.3 557.6 228.9 557.7 229.2 557.9 229 558 229.3 558.1 229.2 558.2 229.3 558.3 228.7 558.5 228.7 558.6 228.9 558.7 228.3 558.7 228.6 558.9 228.3 559 228.4 559.1 228.1 559.2 228.2 559.4 227.8 559.5 228.4 559.5 227.6 559.6 228 559.7 227.8 559.8 228.1 560 227.7 560.1 228 560.2 227.6 560.3 227.5 560.4 227.7 560.5 227.4 560.7 228.1 560.9 227.2 561 227.2 561.2 227.5 561.2 227.2 561.3 227.6 561.4 227.3 561.5 227.5 561.6 227.4 561.7 227.7 561.8 227.2 561.9 227.9 562 227.3 562.1 227.5 562.3 227.2 562.5 227.6 562.6 227.2 562.8 227.5 562.9 226.9 563.1 227.7 563.3 227.5 563.4 227.6 563.5 227.3 563.6 227.7 563.8 227.3 563.8 227.5 564 227.4 564.1 227.7 564.3 227.1 564.4 227.8 564.5 227.5 564.6 228 564.7 227.2 564.9 227.8 565.3 227.6 565.4 227.7 565.4 227.3 565.5 227.5 565.6 227.4 565.8 227.9 566 226.7 566.1 227.3 566.2 227.1 566.3 227.7 566.5 226.9 566.6 227.6 566.7 227.6 566.8 227.9 567 227.3 567.1 227.8 567.1 227.2 567.3 227.4 567.4 227.1 567.5 228.2 567.6 227 567.8 227.7 568 227.5 568.1 227.9 568.2 227.2 568.4 227.8 568.6 227.3 568.7 227.5 568.8 227.2 568.8 227.5 569 227.3 569.1 227.4 569.2 227.3 569.3 227.9 569.5 226.9 569.7 227.7 569.7 227.4 569.8 227.6 570 227.3 570.1 227.6 570.2 227.1 570.3 227.1 570.4 228.2 570.5 227.4 570.5 227.7 570.6 227.4 570.7 227.7 570.9 227.3 571 227.6 571.1 227.3 571.2 227.5 571.3 227.2 571.3 227.6 571.4 227 571.5 227.2 571.6 227.1 571.8 227.7 572 227.3 572.1 227.6 572.2 227.3 572.4 227 572.6 227.6 572.7 227 572.8 227.6 572.9 227.5 573 227.6 573.1 227.1 573.2 227.4 573.3 227.2 573.4 227.6 573.8 227.2 573.9 227.8 573.9 227.1 574.2 227.3 574.4 227.7 574.7 226.7 574.7 227.6 574.8 227.4 575.1 227.7 575.2 227.4 575.3 227.6 575.4 227.1 575.5 227.6 575.6 227.2 575.6 227.5 575.8 227.5 575.9 227.8 576.3 227.1 576.4 227.5 576.4 227.1 576.5 227.6 576.7 227.3 576.8 227.6 576.9 227.3 577.1 227.4 577.2 227.4 577.3 227.8 577.4 227.3 577.5 227.9 577.6 227.6 577.7 227.8 577.8 227.7 577.9 228.1 578 228 578.1 228.2 578.2 228.1 578.3 228.4 578.5 227.9 578.8 228.6 578.9 228.2 579 228.4 579.2 228 579.3 228.2 579.4 227.7 579.5 227.9 579.7 227.1 579.8 227.6 579.8 227.4 580 227.5 580.2 227.2 580.3 227.5 580.4 227.2 580.6 227.4 580.6 227.2 580.7 227.2 580.9 227.7 581.1 227.4 581.2 227.9 581.3 227.2 581.5 227.8 581.5 227.4 581.7 228.1 581.8 227.3 582 227.5 582.1 227 582.2 228.2 582.4 226.8 582.7 227.7 582.9 227.4 583 227.5 583.2 227 583.3 227.4 583.5 227.2 583.6 227.6 583.7 227.3 583.8 227.4 583.9 226.5 584 227.7 584.3 227.4 584.5 227.7 584.6 227.1 584.9 227.8 585.1 227.1 585.2 227.9 585.3 227.2 585.4 227.4 585.5 227.2 585.6 227.2 585.7 227.7 585.7 227.4 585.8 227.6 585.9 227.3 586 227.9 586.1 227.4 586.2 227.6 586.3 227.2 586.4 227.3 586.5 227.9 586.6 227.4 586.7 227.7 586.8 227.4 586.9 227.6 587 227.2 587.2 227.5 587.4 227.2 587.4 227.8 587.6 227.1 587.7 227.9 587.8 227.4 588 227.1 588.2 227.7 588.2 227.4 588.3 227.6 588.4 227 588.5 227.5 588.6 227.3 588.7 227.3 588.9 227.6 589 227.4 589.1 227.7 589.1 227.5 589.2 227.8 589.3 227.4 589.4 227.8 589.5 227.1 589.6 227.6 589.9 226.6 590 227.7 590.1 227.2 590.3 227.7 590.4 227.3 590.6 227.3 590.7 227.5 590.7 227.3 590.8 227.5 590.9 227.2 591 228 591.2 227.1 591.4 227.6 591.6 227 591.8 227.8 591.9 227.6 592 227.9 592.1 227.2 592.4 227.9 592.4 227.2 592.7 227.5 592.9 227.2 593.1 227.4 593.2 226.9 593.3 227.9 593.5 227.2 593.6 227.7 593.7 227" fill="none" stroke="#1010ff" stroke-width="1.4" stroke-linejoin="round" />
<text x="325.5" y="262.6" font-size="16.4" font-weight="bold" font-family='"Liberation Sans", sans-serif' fill="#000" text-anchor="middle" textLength="17.6" lengthAdjust="spacingAndGlyphs" >20</text>
<text x="370.2" y="262.6" font-size="16.4" font-weight="bold" font-family='"Liberation Sans", sans-serif' fill="#000" text-anchor="middle" textLength="17.6" lengthAdjust="spacingAndGlyphs" >30</text>
<text x="414.9" y="262.6" font-size="16.4" font-weight="bold" font-family='"Liberation Sans", sans-serif' fill="#000" text-anchor="middle" textLength="17.6" lengthAdjust="spacingAndGlyphs" >40</text>
<text x="459.6" y="262.6" font-size="16.4" font-weight="bold" font-family='"Liberation Sans", sans-serif' fill="#000" text-anchor="middle" textLength="17.6" lengthAdjust="spacingAndGlyphs" >50</text>
<text x="504.3" y="262.6" font-size="16.4" font-weight="bold" font-family='"Liberation Sans", sans-serif' fill="#000" text-anchor="middle" textLength="17.6" lengthAdjust="spacingAndGlyphs" >60</text>
<text x="549" y="262.6" font-size="16.4" font-weight="bold" font-family='"Liberation Sans", sans-serif' fill="#000" text-anchor="middle" textLength="17.6" lengthAdjust="spacingAndGlyphs" >70</text>
<text x="593.7" y="262.6" font-size="16.4" font-weight="bold" font-family='"Liberation Sans", sans-serif' fill="#000" text-anchor="middle" textLength="17.6" lengthAdjust="spacingAndGlyphs" >80</text>
<text transform="translate(32.5 128.1) rotate(-90)" font-size="13.2" font-weight="normal" font-family='"Liberation Mono", monospace' fill="#000" text-anchor="middle" textLength="40.2" lengthAdjust="spacingAndGlyphs" stroke="#000" stroke-width="0.3"><tspan font-size="11">(</tspan>1OO<tspan font-size="11">)</tspan></text>
<text transform="translate(42.5 133.2) rotate(-90)" font-size="13.2" font-weight="normal" font-family='"Liberation Mono", monospace' fill="#000" text-anchor="middle" textLength="40.2" lengthAdjust="spacingAndGlyphs" stroke="#000" stroke-width="0.3"><tspan font-size="11">(</tspan>OO1<tspan font-size="11">)</tspan></text>
<text transform="translate(66.7 25.3) rotate(-90)" font-size="13.2" font-weight="normal" font-family='"Liberation Mono", monospace' fill="#000" text-anchor="middle" textLength="40.2" lengthAdjust="spacingAndGlyphs" stroke="#000" stroke-width="0.3"><tspan font-size="11">(</tspan>1O1<tspan font-size="11">)</tspan></text>
<text transform="translate(88.2 25) rotate(-90)" font-size="13.2" font-weight="normal" font-family='"Liberation Mono", monospace' fill="#000" text-anchor="middle" textLength="40.2" lengthAdjust="spacingAndGlyphs" stroke="#000" stroke-width="0.3"><tspan font-size="11">(</tspan>11O<tspan font-size="11">)</tspan></text>
<text transform="translate(112.8 143.2) rotate(-90)" font-size="13.2" font-weight="normal" font-family='"Liberation Mono", monospace' fill="#000" text-anchor="middle" textLength="40.2" lengthAdjust="spacingAndGlyphs" stroke="#000" stroke-width="0.3"><tspan font-size="11">(</tspan>111<tspan font-size="11">)</tspan></text>
<text transform="translate(134.9 141.2) rotate(-90)" font-size="13.2" font-weight="normal" font-family='"Liberation Mono", monospace' fill="#000" text-anchor="middle" textLength="40.2" lengthAdjust="spacingAndGlyphs" stroke="#000" stroke-width="0.3"><tspan font-size="11">(</tspan>2OO<tspan font-size="11">)</tspan></text>
<text transform="translate(144.6 115.2) rotate(-90)" font-size="13.2" font-weight="normal" font-family='"Liberation Mono", monospace' fill="#000" text-anchor="middle" textLength="40.2" lengthAdjust="spacingAndGlyphs" stroke="#000" stroke-width="0.3"><tspan font-size="11">(</tspan>OO2<tspan font-size="11">)</tspan></text>
<text transform="translate(159.5 176.9) rotate(-90)" font-size="13.2" font-weight="normal" font-family='"Liberation Mono", monospace' fill="#000" text-anchor="middle" textLength="40.2" lengthAdjust="spacingAndGlyphs" stroke="#000" stroke-width="0.3"><tspan font-size="11">(</tspan>21O<tspan font-size="11">)</tspan></text>
<text transform="translate(164.5 142.7) rotate(-90)" font-size="13.2" font-weight="normal" font-family='"Liberation Mono", monospace' fill="#000" text-anchor="middle" textLength="40.2" lengthAdjust="spacingAndGlyphs" stroke="#000" stroke-width="0.3"><tspan font-size="11">(</tspan>2O1<tspan font-size="11">)</tspan></text>
<text transform="translate(172.6 175.9) rotate(-90)" font-size="13.2" font-weight="normal" font-family='"Liberation Mono", monospace' fill="#000" text-anchor="middle" textLength="40.2" lengthAdjust="spacingAndGlyphs" stroke="#000" stroke-width="0.3"><tspan font-size="11">(</tspan>1O2<tspan font-size="11">)</tspan></text>
<text transform="translate(186.8 149.6) rotate(-90)" font-size="13.2" font-weight="normal" font-family='"Liberation Mono", monospace' fill="#000" text-anchor="middle" textLength="40.2" lengthAdjust="spacingAndGlyphs" stroke="#000" stroke-width="0.3"><tspan font-size="11">(</tspan>211<tspan font-size="11">)</tspan></text>
<text transform="translate(197.1 154) rotate(-90)" font-size="13.2" font-weight="normal" font-family='"Liberation Mono", monospace' fill="#000" text-anchor="middle" textLength="40.2" lengthAdjust="spacingAndGlyphs" stroke="#000" stroke-width="0.3"><tspan font-size="11">(</tspan>112<tspan font-size="11">)</tspan></text>
<text transform="translate(230.2 169.3) rotate(-90)" font-size="13.2" font-weight="normal" font-family='"Liberation Mono", monospace' fill="#000" text-anchor="middle" textLength="40.2" lengthAdjust="spacingAndGlyphs" stroke="#000" stroke-width="0.3"><tspan font-size="11">(</tspan>22O<tspan font-size="11">)</tspan></text>
<text transform="translate(238.7 137.2) rotate(-90)" font-size="13.2" font-weight="normal" font-family='"Liberation Mono", monospace' fill="#000" text-anchor="middle" textLength="40.2" lengthAdjust="spacingAndGlyphs" stroke="#000" stroke-width="0.3"><tspan font-size="11">(</tspan>2O2<tspan font-size="11">)</tspan></text>
<text transform="translate(248.6 181.7) rotate(-90)" font-size="13.2" font-weight="normal" font-family='"Liberation Mono", monospace' fill="#000" text-anchor="middle" textLength="40.2" lengthAdjust="spacingAndGlyphs" stroke="#000" stroke-width="0.3"><tspan font-size="11">(</tspan>3OO<tspan font-size="11">)</tspan></text>
<text transform="translate(251.6 148) rotate(-90)" font-size="13.2" font-weight="normal" font-family='"Liberation Mono", monospace' fill="#000" text-anchor="middle" textLength="40.2" lengthAdjust="spacingAndGlyphs" stroke="#000" stroke-width="0.3"><tspan font-size="11">(</tspan>221<tspan font-size="11">)</tspan></text>
<text transform="translate(257.6 118.4) rotate(-90)" font-size="13.2" font-weight="normal" font-family='"Liberation Mono", monospace' fill="#000" text-anchor="middle" textLength="40.2" lengthAdjust="spacingAndGlyphs" stroke="#000" stroke-width="0.3"><tspan font-size="11">(</tspan>212<tspan font-size="11">)</tspan></text>
<text transform="translate(259.5 180.8) rotate(-90)" font-size="13.2" font-weight="normal" font-family='"Liberation Mono", monospace' fill="#000" text-anchor="middle" textLength="40.2" lengthAdjust="spacingAndGlyphs" stroke="#000" stroke-width="0.3"><tspan font-size="11">(</tspan>OO3<tspan font-size="11">)</tspan></text>
<text transform="translate(268.5 174.9) rotate(-90)" font-size="13.2" font-weight="normal" font-family='"Liberation Mono", monospace' fill="#000" text-anchor="middle" textLength="40.2" lengthAdjust="spacingAndGlyphs" stroke="#000" stroke-width="0.3"><tspan font-size="11">(</tspan>31O<tspan font-size="11">)</tspan></text>
<text transform="translate(274.4 142.7) rotate(-90)" font-size="13.2" font-weight="normal" font-family='"Liberation Mono", monospace' fill="#000" text-anchor="middle" textLength="40.2" lengthAdjust="spacingAndGlyphs" stroke="#000" stroke-width="0.3"><tspan font-size="11">(</tspan>3O1<tspan font-size="11">)</tspan></text>
<text transform="translate(286.3 181.2) rotate(-90)" font-size="13.2" font-weight="normal" font-family='"Liberation Mono", monospace' fill="#000" text-anchor="middle" textLength="40.2" lengthAdjust="spacingAndGlyphs" stroke="#000" stroke-width="0.3"><tspan font-size="11">(</tspan>311<tspan font-size="11">)</tspan></text>
<text transform="translate(291.3 151) rotate(-90)" font-size="13.2" font-weight="normal" font-family='"Liberation Mono", monospace' fill="#000" text-anchor="middle" textLength="40.2" lengthAdjust="spacingAndGlyphs" stroke="#000" stroke-width="0.3"><tspan font-size="11">(</tspan>113<tspan font-size="11">)</tspan></text>
<text transform="translate(339.1 130) rotate(-90)" font-size="13.2" font-weight="normal" font-family='"Liberation Mono", monospace' fill="#000" text-anchor="middle" textLength="40.2" lengthAdjust="spacingAndGlyphs" stroke="#000" stroke-width="0.3"><tspan font-size="11">(</tspan>OO1<tspan font-size="11">)</tspan></text>
<text transform="translate(349.9 108.5) rotate(-90)" font-size="13.2" font-weight="normal" font-family='"Liberation Mono", monospace' fill="#000" text-anchor="middle" textLength="40.2" lengthAdjust="spacingAndGlyphs" stroke="#000" stroke-width="0.3"><tspan font-size="11">(</tspan>1OO<tspan font-size="11">)</tspan></text>
<text transform="translate(371.6 28.4) rotate(-90)" font-size="13.2" font-weight="normal" font-family='"Liberation Mono", monospace' fill="#000" text-anchor="middle" textLength="40.2" lengthAdjust="spacingAndGlyphs" stroke="#000" stroke-width="0.3"><tspan font-size="11">(</tspan>1O1<tspan font-size="11">)</tspan></text>
<text transform="translate(395.6 25.5) rotate(-90)" font-size="13.2" font-weight="normal" font-family='"Liberation Mono", monospace' fill="#000" text-anchor="middle" textLength="40.2" lengthAdjust="spacingAndGlyphs" stroke="#000" stroke-width="0.3"><tspan font-size="11">(</tspan>11O<tspan font-size="11">)</tspan></text>
<text transform="translate(417.3 147) rotate(-90)" font-size="13.2" font-weight="normal" font-family='"Liberation Mono", monospace' fill="#000" text-anchor="middle" textLength="40.2" lengthAdjust="spacingAndGlyphs" stroke="#000" stroke-width="0.3"><tspan font-size="11">(</tspan>111<tspan font-size="11">)</tspan></text>
<text transform="translate(439 146) rotate(-90)" font-size="13.2" font-weight="normal" font-family='"Liberation Mono", monospace' fill="#000" text-anchor="middle" textLength="40.2" lengthAdjust="spacingAndGlyphs" stroke="#000" stroke-width="0.3"><tspan font-size="11">(</tspan>OO2<tspan font-size="11">)</tspan></text>
<text transform="translate(450.4 142.2) rotate(-90)" font-size="13.2" font-weight="normal" font-family='"Liberation Mono", monospace' fill="#000" text-anchor="middle" textLength="40.2" lengthAdjust="spacingAndGlyphs" stroke="#000" stroke-width="0.3"><tspan font-size="11">(</tspan>2OO<tspan font-size="11">)</tspan></text>
<text transform="translate(469.6 180.8) rotate(-90)" font-size="13.2" font-weight="normal" font-family='"Liberation Mono", monospace' fill="#000" text-anchor="middle" textLength="40.2" lengthAdjust="spacingAndGlyphs" stroke="#000" stroke-width="0.3"><tspan font-size="11">(</tspan>1O2<tspan font-size="11">)</tspan></text>
<text transform="translate(473.6 146.5) rotate(-90)" font-size="13.2" font-weight="normal" font-family='"Liberation Mono", monospace' fill="#000" text-anchor="middle" textLength="40.2" lengthAdjust="spacingAndGlyphs" stroke="#000" stroke-width="0.3"><tspan font-size="11">(</tspan>2O1<tspan font-size="11">)</tspan></text>
<text transform="translate(478.6 179.3) rotate(-90)" font-size="13.2" font-weight="normal" font-family='"Liberation Mono", monospace' fill="#000" text-anchor="middle" textLength="40.2" lengthAdjust="spacingAndGlyphs" stroke="#000" stroke-width="0.3"><tspan font-size="11">(</tspan>21O<tspan font-size="11">)</tspan></text>
<text transform="translate(494.5 153) rotate(-90)" font-size="13.2" font-weight="normal" font-family='"Liberation Mono", monospace' fill="#000" text-anchor="middle" textLength="40.2" lengthAdjust="spacingAndGlyphs" stroke="#000" stroke-width="0.3"><tspan font-size="11">(</tspan>112<tspan font-size="11">)</tspan></text>
<text transform="translate(503.4 135.2) rotate(-90)" font-size="13.2" font-weight="normal" font-family='"Liberation Mono", monospace' fill="#000" text-anchor="middle" textLength="40.2" lengthAdjust="spacingAndGlyphs" stroke="#000" stroke-width="0.3"><tspan font-size="11">(</tspan>211<tspan font-size="11">)</tspan></text>
<text transform="translate(536.6 176.5) rotate(-90)" font-size="13.2" font-weight="normal" font-family='"Liberation Mono", monospace' fill="#000" text-anchor="middle" textLength="40.2" lengthAdjust="spacingAndGlyphs" stroke="#000" stroke-width="0.3"><tspan font-size="11">(</tspan>2O2<tspan font-size="11">)</tspan></text>
<text transform="translate(541.4 144) rotate(-90)" font-size="13.2" font-weight="normal" font-family='"Liberation Mono", monospace' fill="#000" text-anchor="middle" textLength="40.2" lengthAdjust="spacingAndGlyphs" stroke="#000" stroke-width="0.3"><tspan font-size="11">(</tspan>22O<tspan font-size="11">)</tspan></text>
<text transform="translate(553.3 181.9) rotate(-90)" font-size="13.2" font-weight="normal" font-family='"Liberation Mono", monospace' fill="#000" text-anchor="middle" textLength="40.2" lengthAdjust="spacingAndGlyphs" stroke="#000" stroke-width="0.3"><tspan font-size="11">(</tspan>OO3<tspan font-size="11">)</tspan></text>
<text transform="translate(557.1 147.3) rotate(-90)" font-size="13.2" font-weight="normal" font-family='"Liberation Mono", monospace' fill="#000" text-anchor="middle" textLength="40.2" lengthAdjust="spacingAndGlyphs" stroke="#000" stroke-width="0.3"><tspan font-size="11">(</tspan>212<tspan font-size="11">)</tspan></text>
<text transform="translate(565.2 181.9) rotate(-90)" font-size="13.2" font-weight="normal" font-family='"Liberation Mono", monospace' fill="#000" text-anchor="middle" textLength="40.2" lengthAdjust="spacingAndGlyphs" stroke="#000" stroke-width="0.3"><tspan font-size="11">(</tspan>3OO<tspan font-size="11">)</tspan></text>
<text transform="translate(562.5 118.7) rotate(-90)" font-size="13.2" font-weight="normal" font-family='"Liberation Mono", monospace' fill="#000" text-anchor="middle" textLength="40.2" lengthAdjust="spacingAndGlyphs" stroke="#000" stroke-width="0.3"><tspan font-size="11">(</tspan>221<tspan font-size="11">)</tspan></text>
<text transform="translate(580.9 174.3) rotate(-90)" font-size="13.2" font-weight="normal" font-family='"Liberation Mono", monospace' fill="#000" text-anchor="middle" textLength="40.2" lengthAdjust="spacingAndGlyphs" stroke="#000" stroke-width="0.3"><tspan font-size="11">(</tspan>3O1<tspan font-size="11">)</tspan></text>
<text transform="translate(589.5 180.8) rotate(-90)" font-size="13.2" font-weight="normal" font-family='"Liberation Mono", monospace' fill="#000" text-anchor="middle" textLength="40.2" lengthAdjust="spacingAndGlyphs" stroke="#000" stroke-width="0.3"><tspan font-size="11">(</tspan>31O<tspan font-size="11">)</tspan></text>
<circle cx="152.2" cy="11.6" r="3.1" fill="none" stroke="#000" stroke-width="1.9"/>
<circle cx="152.2" cy="11.6" r="1" fill="#000"/>
<line x1="137.2" y1="28.5" x2="167.2" y2="28.5" stroke="#ff2020" stroke-width="1.4" />
<line x1="152" y1="42" x2="152" y2="50.5" stroke="#1f8f1f" stroke-width="1.9" />
<line x1="137.2" y1="63.4" x2="167.2" y2="63.4" stroke="#2020ff" stroke-width="1.4" />
<text x="170.4" y="16.6" font-size="14" font-weight="bold" font-family='"Liberation Sans", sans-serif' fill="#000" textLength="112.7" lengthAdjust="spacingAndGlyphs" >Intensity observed</text>
<text x="170.4" y="33.9" font-size="14" font-weight="bold" font-family='"Liberation Sans", sans-serif' fill="#000" textLength="120.8" lengthAdjust="spacingAndGlyphs" >Intensity calculated</text>
<text x="170.4" y="51" font-size="14" font-weight="bold" font-family='"Liberation Sans", sans-serif' fill="#000" textLength="71.6" lengthAdjust="spacingAndGlyphs" >Bragg Peak</text>
<text x="170.4" y="68.1" font-size="14" font-weight="bold" font-family='"Liberation Sans", sans-serif' fill="#000" textLength="62.9" lengthAdjust="spacingAndGlyphs" >Difference</text>
<text x="171.9" y="89.9" font-size="15.4" font-weight="bold" font-family='"Liberation Sans", sans-serif' fill="#000" textLength="59.6" lengthAdjust="spacingAndGlyphs" >BFBST-0</text>
<circle cx="453.6" cy="12.2" r="3.1" fill="none" stroke="#000" stroke-width="1.9"/>
<circle cx="453.6" cy="12.2" r="1" fill="#000"/>
<line x1="438.6" y1="29.1" x2="468.6" y2="29.1" stroke="#ff2020" stroke-width="1.4" />
<line x1="453.4" y1="42.6" x2="453.4" y2="51.1" stroke="#1f8f1f" stroke-width="1.9" />
<line x1="438.6" y1="64" x2="468.6" y2="64" stroke="#2020ff" stroke-width="1.4" />
<text x="471.8" y="17.2" font-size="14" font-weight="bold" font-family='"Liberation Sans", sans-serif' fill="#000" textLength="110.5" lengthAdjust="spacingAndGlyphs" >Intensity observed</text>
<text x="471.8" y="34.5" font-size="14" font-weight="bold" font-family='"Liberation Sans", sans-serif' fill="#000" textLength="118.4" lengthAdjust="spacingAndGlyphs" >Intensity calculated</text>
<text x="471.8" y="51.6" font-size="14" font-weight="bold" font-family='"Liberation Sans", sans-serif' fill="#000" textLength="70.2" lengthAdjust="spacingAndGlyphs" >Bragg Peak</text>
<text x="471.8" y="68.7" font-size="14" font-weight="bold" font-family='"Liberation Sans", sans-serif' fill="#000" textLength="62.2" lengthAdjust="spacingAndGlyphs" >Difference</text>
<text x="472" y="91.9" font-size="15.4" font-weight="bold" font-family='"Liberation Sans", sans-serif' fill="#000" textLength="63.6" lengthAdjust="spacingAndGlyphs" >BFBST-Mn</text>
<text x="22.9" y="31.4" font-size="25.6" font-weight="bold" font-family='"Liberation Serif", serif' fill="#0000ff" >(a)</text>
<text x="327" y="28.1" font-size="25.6" font-weight="bold" font-family='"Liberation Serif", serif' fill="#0000ff" >(b)</text>
<text transform="translate(12.2 199.4) rotate(-90)" font-size="14.8" font-weight="bold" font-family='"Liberation Sans", sans-serif' fill="#000" textLength="116" lengthAdjust="spacingAndGlyphs" >Intensity (a.u)</text>
<line x1="8.1" y1="84.2" x2="8.1" y2="56" stroke="#000" stroke-width="2.1" stroke-dasharray="3.8 0.9"/>
<text transform="translate(12.2 55.9) rotate(-90)" font-size="14.8" font-weight="normal" font-family='"Liberation Sans", sans-serif' fill="#000" textLength="38.8" lengthAdjust="spacingAndGlyphs" >&gt;&gt;&gt;&gt;</text>
<text transform="translate(313.9 210.2) rotate(-90)" font-size="14.8" font-weight="bold" font-family='"Liberation Sans", sans-serif' fill="#000" textLength="116" lengthAdjust="spacingAndGlyphs" >Intensity (a.u)</text>
<line x1="309.8" y1="95" x2="309.8" y2="66.8" stroke="#000" stroke-width="2.1" stroke-dasharray="3.8 0.9"/>
<text transform="translate(313.9 66.7) rotate(-90)" font-size="14.8" font-weight="normal" font-family='"Liberation Sans", sans-serif' fill="#000" textLength="38.8" lengthAdjust="spacingAndGlyphs" >&gt;&gt;&gt;&gt;</text>
<text x="95.6" y="277" font-size="16" font-weight="bold" font-family='"Liberation Sans", sans-serif' fill="#000" textLength="84.8" lengthAdjust="spacingAndGlyphs" >2<tspan font-weight="normal">θ</tspan> (degree)</text>
<text x="185.5" y="277" font-size="16" font-weight="bold" font-family='"Liberation Sans", sans-serif' fill="#000" textLength="32.6" lengthAdjust="spacingAndGlyphs" >------</text>
<text x="217.8" y="277" font-size="16" font-weight="normal" font-family='"Liberation Sans", sans-serif' fill="#000" textLength="32.6" lengthAdjust="spacingAndGlyphs" >&gt;&gt;&gt;&gt;</text>
<text x="392.3" y="277" font-size="16" font-weight="bold" font-family='"Liberation Sans", sans-serif' fill="#000" textLength="84.8" lengthAdjust="spacingAndGlyphs" >2<tspan font-weight="normal">θ</tspan> (degree)</text>
<text x="482.2" y="277" font-size="16" font-weight="bold" font-family='"Liberation Sans", sans-serif' fill="#000" textLength="32.6" lengthAdjust="spacingAndGlyphs" >------</text>
<text x="514.5" y="277" font-size="16" font-weight="normal" font-family='"Liberation Sans", sans-serif' fill="#000" textLength="32.6" lengthAdjust="spacingAndGlyphs" >&gt;&gt;&gt;&gt;</text>
<rect x="56.6" y="287.8" width="487.8" height="265" fill="none" stroke="#000" stroke-width="2.5"/>
<path d="M75.5 479.9 76 479.8 76.5 479.2 79 479.7 80.5 479.3 81.5 479.8 83 479.4 84 480 85.5 479.7 87 480.1 89.5 479.4 91.5 479.4 93.5 479.8 96 479.3 97 479.7 99.5 479 100 479.1 101 479.8 103 479.6 105 479 105.5 479.2 106 479 107 479.3 110 478.8 111 479.1 113 479.1 114.5 478 115 478.2 115.5 477.9 116 478.3 117 478.4 118 477.7 118.5 477.9 120 477.5 121 477.6 122.5 477.1 123 477.3 124.5 476.8 125 476.9 126.5 475.8 129 475.9 130 475.6 130.5 474.8 131.5 473.9 132.5 474.1 134 473.4 136 472 136.5 472.2 138 470.8 139.5 470.3 142 468.1 143.5 467.3 145 465.3 146.5 464.4 147.5 462.9 150 460.5 152 457.5 153.5 456.1 155 453.4 158.5 449 160 445.9 162 442.1 163.5 439.9 165 436.8 166.5 434.8 168 431.7 169.5 429.8 171.5 426.2 172 425.4 175.5 422 176.5 420.3 178.5 417.7 179.5 416.7 181 416.3 183 413.9 183.5 413.8 185.5 411.9 186.5 411.5 187.5 411.6 188 410.9 189 410.3 190 410.2 190.5 409.7 192 409.4 193 408.8 196 409.1 197 408.6 198 408.5 201 409.5 202 410.4 203.5 410.5 205.5 412.4 206 412.8 207.5 413.1 210.5 416 211.5 416.3 213 418.4 214.5 419.9 220.5 429.7 221 430 222.5 432.2 223 432.4 226 437.5 228 440.1 229.5 442.9 232.5 446.4 235 450.8 236.5 451.9 239 455.8 241 457.2 243.5 461.1 244 461.3 244.5 462.1 245 462.3 245.5 462.9 246 462.9 247.5 464.7 248.5 465.2 250.5 467.2 251 468 252.5 468.5 254.5 469.9 255.5 471.1 256 471.1 257.5 472.2 259 472.5 260.5 473.4 261.5 473.4 263 474.9 264.5 475.1 265.5 475.8 267.5 475.6 268 476.1 269 476.5 269.5 476.3 271 477.1 272 477.2 273 477.6 274.5 477.7 275.5 478.1 277.5 477.9 279 478.4 280.5 478.1 282 478.6 282.5 478.3 283 478.3 283.5 477.9 284 478.4 284.5 478.4 285 478.9 285.5 478.6 286.5 478.5" fill="none" stroke="#ff0000" stroke-width="3.9" stroke-linejoin="round" />
<path d="M75.5 496.8 77 497 78.5 496.3 80 496.1 82.5 496.7 84 496.2 86.5 496.8 88 496.4 90 496.4 90.5 496.1 92.5 496.5 94 495.8 95.5 496 96.5 495.7 97 496.1 98 496.2 100.5 495.5 102 495.8 103 495.4 107 495.4 108.5 495 109.5 495.1 111.5 494.8 113 494.3 114.5 494.4 115 494 117 493.9 117.5 493.5 119 493.2 120.5 492.5 122 492.5 123.5 491.5 126.5 490.1 129 487.5 131 484.5 133 480.5 135 475.1 136.5 469.6 139.5 454.7 142.5 435.5 146 410.6 148 398.6 150 391.3 150.5 390.2 151.5 389.9 152.5 390.7 154 393.7 156.5 402.4 159 414.2 166 452 168 461.2 170 468.9 172 475.5 174.5 482 177.5 487.2 180.5 490.6 181 490.9 181.5 490.8 183 492.2 184.5 492.7 186 493.7 188 494.3 189 494 190.5 494.6 193 494.8 195.5 495.6 197.5 495.2 198.5 495.7 200 495.6 202.5 496.1 207.5 496 208 496.1 208.5 495.9 213 496.8 214 496.3 214.5 496.3 215 496.9 216.5 496.5 218.5 496.5 221.5 496.9 222.5 496.6 224 496.7 224.5 496.5 226.5 497 228 496.8 231 497.3 233 496.8 234.5 497.4 235.5 497.3 236 497 238 497.3 238.5 497.1 240 497.6 241.5 497.4 243 497.6 243.5 497.3 244 497.5 245 497.5 247 496.8 250 497.6 251.5 497.4 252.5 497.8 253.5 497.3 254.5 497.6 257 497.3 260 498 262.5 497.9 264 497.4 266 497.7 267.5 497.5 269 498.2 271.5 497.8 275.5 498.5 277 497.9 278.5 498.1 280 497.7 281 498.2 282.5 497.7 283 497.9 284.5 497.8 286 498.2 286.5 498.1" fill="none" stroke="#000" stroke-width="3.8" stroke-linejoin="round" stroke-linecap="round"/>
<line x1="75" y1="306.7" x2="75" y2="505.2" stroke="#000" stroke-width="1.8" />
<line x1="74.1" y1="504.3" x2="287.5" y2="504.3" stroke="#000" stroke-width="2" />
<line x1="286.6" y1="498" x2="286.6" y2="505.2" stroke="#000" stroke-width="1.8" />
<line x1="145.4" y1="504.3" x2="145.4" y2="499.6" stroke="#000" stroke-width="1.8" />
<line x1="215.8" y1="504.3" x2="215.8" y2="499.6" stroke="#000" stroke-width="1.8" />
<text x="75.5" y="520.2" font-size="13.5" font-weight="bold" font-family='"Liberation Sans", sans-serif' fill="#000" text-anchor="middle" textLength="25.8" lengthAdjust="spacingAndGlyphs" >31.5</text>
<text x="145.7" y="520.2" font-size="13.5" font-weight="bold" font-family='"Liberation Sans", sans-serif' fill="#000" text-anchor="middle" textLength="25.8" lengthAdjust="spacingAndGlyphs" >32.0</text>
<text x="216.2" y="520.2" font-size="13.5" font-weight="bold" font-family='"Liberation Sans", sans-serif' fill="#000" text-anchor="middle" textLength="25.8" lengthAdjust="spacingAndGlyphs" >32.5</text>
<text x="286.3" y="520.2" font-size="13.5" font-weight="bold" font-family='"Liberation Sans", sans-serif' fill="#000" text-anchor="middle" textLength="25.8" lengthAdjust="spacingAndGlyphs" >33.0</text>
<path d="M292.6 477.3 293.6 476.1 294.1 478 294.6 476.9 295.1 476.4 295.6 476.9 296.1 479 296.6 477.9 297.1 477.8 297.6 477.6 298.1 478.4 298.6 478.3 299.1 476.4 299.6 477.4 300.1 477 300.6 477.8 301.1 477.6 301.6 475.8 302.1 478.8 302.6 477.9 303.1 476.1 303.6 478.8 304.1 477.9 304.6 478.2 305.1 477.8 305.6 477.9 306.1 477.3 306.6 476.3 307.1 477.2 307.6 478 308.1 477.8 308.6 478.4 309.1 477.7 309.6 475.6 310.1 478.3 310.6 476.8 311.1 476.2 311.6 476.9 312.1 475.7 312.6 477 313.1 475.4 313.6 477.5 314.1 474.9 315.1 472.7 315.6 470.1 316.1 469.9 317.1 466.8 317.6 462.9 318.1 462.4 318.6 460.8 319.1 456.1 320.1 450.1 320.6 445.2 321.1 441.8 321.6 439.2 322.6 429.7 323.1 425.7 323.6 426.2 324.6 417.6 325.1 417.4 325.6 416.7 326.1 415.6 326.6 413.8 327.1 417.7 327.6 417.5 328.1 418.1 328.6 420.7 329.1 421.9 329.6 424.2 330.1 428 330.6 428.3 331.1 434 331.6 436.6 333.1 447.3 333.6 450.4 334.1 452.9 334.6 454.6 335.1 458.3 335.6 459.8 336.1 461.7 336.6 465.2 337.1 467 337.6 469.6 338.1 468.1 338.6 472 339.1 473.3 339.6 473.9 340.1 476 340.6 474.6 341.1 476.4 341.6 476.3 342.1 477.1 342.6 476.7 343.6 478.7 344.1 478.5 344.6 478.8 345.1 478 345.6 480.2 346.1 478.2 347.1 479.6 347.6 478.9 348.1 479.8 348.6 479.3 349.1 480.7 349.6 479.7 350.1 479.6 350.6 478.5 351.1 479.7 351.6 480.2 352.1 479.7 352.6 478.5 353.1 478.8 354.1 479.4 354.6 478.1 355.1 481.1 355.6 479.3 356.1 479.5 356.6 479 357.1 479.4 357.6 481.2 358.1 478.6 358.6 479 359.1 478.6 359.6 479 360.1 480.9 360.6 479 361.1 479.2 361.6 477.9 362.1 479.3 362.6 479.8 363.1 479.2 363.6 479.3 364.1 480.4 364.6 480.2 366.1 478.4 366.6 481.3 367.1 478.4 367.6 480.4 368.1 479.6 368.6 479.1 369.1 480.6 369.6 479.2 370.1 481 370.6 478.9 371.1 480.3 371.6 481.1 372.1 479 372.6 481.8 373.1 480.7 373.6 478 374.1 481.2 374.6 481.7 375.1 479.8 375.6 479.9 376.1 480.4 376.6 478.3 377.1 480.2 377.6 480.9 378.1 479.6 378.6 481.1 379.1 482.1 379.6 478.4 380.1 478.5 381.1 480.8 381.6 480.6 382.1 479.4 382.6 479.2 383.1 479.6 383.6 481.8 384.1 479.4 384.6 479.8 385.1 481.2 385.6 480.1 386.1 479.4 386.6 481.6 387.6 479.7 388.1 480 388.6 481.2 389.1 480 390.1 481.2 390.6 481.3 391.1 478.7 391.6 480 392.1 480.1 392.6 480.5 393.1 481.1 393.6 481.5 394.1 480 394.6 479.5 395.1 480.6 395.6 479.9 396.1 482.1 396.6 480.8 397.1 480.6 397.6 481.4 398.1 479.9 398.6 480.2 399.1 480.4 400.1 481.7 400.6 481.3 401.1 481.3 401.6 480.4 402.1 480.9 402.6 480.4 403.1 481.6 403.6 480 404.1 480.5 404.6 480.8 405.1 481.3 405.6 480 406.1 480.4 407.1 479.4 407.6 481.6 408.1 481.1 408.6 479.3 409.1 479.8 409.6 481.2 410.1 480.1 410.6 479.7 411.1 481.8 411.6 480.3 412.1 480.4 412.6 481.2 413.1 480.1 413.6 480.7 414.1 480.9 414.6 481.4 415.1 480.1 415.6 481.7 416.1 481.1 416.6 482.4 417.1 481 417.6 480.3 418.1 480.3 418.6 479.8 419.1 480.8 419.6 480.7 420.1 481.6 421.1 480 421.6 481.7 422.1 480.4 422.6 481.1 423.1 482.1 423.6 482 424.1 480.2 424.6 480.7 425.1 482.1 426.1 481.4 426.6 481.7 427.1 478.9 427.6 480.6 428.1 479.6 428.6 480.3 429.1 480.5 430.1 482 430.6 481.6 431.6 480.6 432.1 482.1 432.6 481.2 433.1 479.3 433.6 480.9 434.1 481.4 434.6 480.1 435.6 482.3 436.1 480.7 436.6 480.9 437.1 480.9 437.6 480.1 438.1 480.5 438.6 480 439.1 480.7 439.6 480.2 440.1 481.8 440.6 480.9 441.1 481.8 441.6 479.8 442.1 481 442.6 481.5 443.1 481.6 443.6 480.5 444.1 480.9 444.6 481.1 445.1 480.7 445.6 480.6 446.1 481.5 446.6 479.9 447.1 479.4 447.6 480.6 448.1 481.3 448.6 478.9 449.1 482.2 449.6 481.1 450.1 481.5 450.6 480.2 451.1 481 451.6 482.6 452.1 482.7 452.6 481.6 453.1 480.7 453.6 480.9 454.1 482.2 454.6 480.3 455.1 480.1 455.6 480.8 456.1 481.8 456.6 480 457.1 481.3 457.6 481.3 458.6 480.8 459.1 481.8 459.6 481.4 460.1 479.6 460.6 482.4 461.1 481.3 461.6 481.2 462.1 480.6 462.6 480.6 463.1 478.6 463.6 480.7 464.1 481.4 464.6 481.4 465.1 480.2 465.6 478.7 466.1 479.8 466.6 480.5 467.1 482 467.6 479.3 468.1 480.8 468.6 481.3 469.1 481.3 469.6 480.7 470.1 478.2 470.6 481.3 471.1 480.8 471.6 481.1 472.1 479.7 472.6 480.1 473.1 481.8 473.6 480.2 474.1 480.1 474.6 479.2 475.1 480.7 475.6 477.6 476.1 478.2 476.6 478.4 477.1 477.3 477.6 477.2 478.1 475.7 478.6 475.3 479.1 472.3 480.1 468.9 480.6 464.6 481.1 464.9 481.6 459.8 482.1 458.4 482.6 455.1 483.6 446.1 484.6 435.4 485.1 433.4 485.6 428.3 486.1 425.8 486.6 419.9 487.1 417 487.6 412.6 488.1 410.5 488.6 407.4 489.1 405.7 489.6 403 490.6 404.2 491.1 406 491.6 405.9 492.1 405.6 492.6 409.7 493.1 410.3 493.6 413.1 494.6 413.9 495.1 418.9 495.6 421.5 496.1 425.7 496.6 427.2 497.1 430.9 497.6 433.6 498.1 438.2 498.6 440.3 499.1 445.5 500.1 450.9 500.6 452.7 501.6 458.8 502.1 459.6 502.6 463.7 503.1 464.5 504.1 470.2 504.6 471.1 505.1 470.1 505.6 473.4 506.1 473.2 507.1 475.1 507.6 475 508.1 477 508.6 476.7 509.1 478.9 509.6 478.6 510.1 476.4 510.6 478.2 511.1 478.4 511.6 478.9 512.1 479.1 512.6 480.1 513.1 479.9 513.6 479.1 514.1 480.6 514.6 481.1 515.1 480.3 515.6 481.4 516.1 480.8 516.6 479.9 517.1 480.1 518.1 481 518.6 480.6 519.1 481.4 519.6 481.5 520.1 479.6 520.6 479.4 521.1 480.4 522.1 481.3 522.6 481.1 523.1 481 523.6 479.6 524.1 480.8 524.6 479.9 525.1 480.8 525.6 481.3 526.1 479.9 526.6 480.2 527.1 482.7 527.6 479.8 528.1 480 528.6 479.4 529.1 479.1 529.6 481.3 530.1 479.8 530.6 479.9 531.1 479.7 531.6 477.9 532.1 481.1 532.6 479.9 533.1 480.4 533.6 481.6 534.1 480.3 534.6 480.5 535.1 480.5" fill="none" stroke="#ff0000" stroke-width="3.1" stroke-linejoin="round" />
<path d="M292.6 490.5 293.1 488.4 293.6 489 294.1 487.7 294.6 489.5 295.1 490 295.6 489.1 296.1 491.1 296.6 490.3 297.1 491.1 297.6 489.6 298.1 490.9 298.6 489.1 299.1 489.8 299.6 489.6 300.1 489.1 300.6 490.8 301.1 490.5 301.6 488.8 302.1 489.9 302.6 489.4 303.1 489.4 303.6 489.8 304.1 488.8 304.6 489.3 305.1 489.4 305.6 488.6 306.1 488.6 306.6 489.6 307.1 488.8 307.6 490.6 308.1 490.2 308.6 487.7 309.1 488.3 309.6 486.2 310.1 486.9 311.1 485.6 311.6 483.4 312.1 483.4 312.6 480 313.1 474 313.6 466.6 314.1 456.1 314.6 442.4 315.1 423.8 316.1 395.4 316.6 391.5 317.1 394.8 317.6 404.7 318.1 415.6 319.1 442.4 320.6 471.5 321.1 475.8 321.6 479 322.1 481.4 322.6 484.8 323.1 487.3 323.6 487.2 324.1 487.2 324.6 488.6 325.1 486.7 325.6 488.5 326.1 488 326.6 489.7 327.1 488.1 327.6 489.5 328.1 489.2 328.6 489.1 329.1 489.8 329.6 489.2 330.1 490.6 331.1 487.8 331.6 490.8 332.1 490.8 332.6 490.1 333.1 490.9 333.6 490.4 334.1 489.2 334.6 488.3 335.1 489.1 336.1 490.4 336.6 488.9 337.1 489.3 337.6 491.3 338.1 489.6 338.6 489.6 339.1 489.4 339.6 491.5 340.1 490.9 340.6 491 341.1 491.6 341.6 491.1 342.1 491.4 342.6 490.6 343.1 491.1 343.6 490.9 344.1 491 344.6 489.5 345.1 490.3 345.6 490.2 346.1 489.9 346.6 490.4 347.1 492 348.1 490.6 348.6 490.8 349.1 491.7 349.6 489.6 350.1 490.9 350.6 491.9 351.1 492.1 351.6 491.3 352.1 491.1 352.6 489.2 353.1 490.1 353.6 490.6 354.1 491 354.6 491 355.1 488.9 355.6 490.3 356.1 490.9 356.6 490.1 357.1 490.6 357.6 491.2 358.6 490.9 359.1 491.4 359.6 491.7 360.1 490.6 360.6 490 361.1 490.3 361.6 490.5 362.1 490.8 362.6 489.7 363.1 490.3 363.6 490.7 364.1 492 365.1 490.8 365.6 491.6 366.1 491.1 366.6 491.1 367.1 491.8 367.6 491.3 368.1 491.1 368.6 491.6 369.1 490.6 369.6 491.1 370.1 489.4 371.1 492.3 371.6 490.8 372.1 491.1 372.6 490.8 373.1 490.3 373.6 491.5 374.1 491.1 374.6 492 375.1 490.4 375.6 491.2 376.6 490.7 377.1 492.1 377.6 490.6 378.1 490.6 378.6 493.2 379.1 491.2 379.6 491.1 380.1 491.6 380.6 490.5 381.1 491.5 381.6 490.3 382.1 490.9 382.6 490.8 383.1 492.4 383.6 491.8 384.1 492.8 384.6 492.7 385.1 490.8 385.6 491.8 386.1 491 386.6 490.8 387.1 492.3 387.6 492.5 388.1 491.5 388.6 491.6 390.1 491.7 390.6 490.6 391.1 491.9 391.6 490.8 392.1 490.4 392.6 491.3 393.1 491.6 393.6 492.1 394.1 491.7 394.6 491.6 395.1 490.9 395.6 491.7 396.1 491.6 396.6 491.7 397.1 490.8 397.6 492.8 398.1 492 398.6 492 399.1 491.5 399.6 491.2 400.1 492.2 400.6 490.4 401.1 491.1 401.6 491.2 402.1 491.9 402.6 491.2 403.1 492.6 403.6 490.1 404.1 492.7 404.6 491.7 405.1 492.2 405.6 491.1 406.1 492.3 406.6 491.2 407.1 491.7 407.6 490.3 408.1 491.9 408.6 491.6 409.1 490 409.6 491.4 410.1 491.2 410.6 492.2 411.1 491 412.1 492.5 412.6 490.8 413.1 493 413.6 491.7 414.1 491.3 414.6 490.4 415.1 490.1 415.6 492.3 416.1 491.2 416.6 491 417.1 492.4 417.6 492.1 418.1 491.6 418.6 490.4 419.1 490 419.6 492.3 420.1 491.5 420.6 491.3 421.1 493.1 421.6 491.2 422.1 491.9 422.6 493.3 423.1 492.1 423.6 491.1 424.1 490.9 424.6 492.6 425.1 490.6 425.6 492.3 426.1 492.9 426.6 491.5 427.1 492.3 427.6 491.7 428.1 492.7 429.1 491 429.6 491.9 430.1 491.7 430.6 491.1 431.1 491.4 431.6 490.7 432.1 490.9 432.6 492.1 433.1 490.1 433.6 491.9 434.1 491.6 434.6 491.2 435.1 492.8 435.6 492.2 436.1 491.2 437.1 492.4 437.6 490.4 438.1 491.8 438.6 491.4 439.1 492 439.6 493.3 440.1 491.1 440.6 491.4 441.1 490.7 441.6 491.8 442.1 492.1 442.6 489.7 443.1 492.8 443.6 492.9 444.1 489.5 444.6 490.4 445.1 492 445.6 491.7 446.1 492.6 446.6 491.4 447.1 492.6 447.6 490.5 448.1 491.9 448.6 491.2 449.1 491.2 449.6 490.1 450.1 491.2 450.6 492.6 451.1 491 452.1 491.6 452.6 490.7 453.1 491.7 453.6 491.9 454.1 491.3 454.6 489.9 455.1 492.6 455.6 491.4 456.6 491.2 457.1 490.9 457.6 490 458.1 491.3 458.6 491.4 459.1 492 459.6 492.5 460.1 490.6 460.6 492.5 461.1 491.2 461.6 491.6 462.1 490.2 462.6 491.3 463.1 490.2 463.6 491.5 464.1 489.9 464.6 490.9 465.1 490.4 465.6 491 466.6 490.7 467.1 490.1 467.6 491.1 468.1 490.7 468.6 489.5 469.1 490.6 469.6 489.3 470.1 489.7 471.1 489.1 471.6 489.5 472.1 487 472.6 489 473.1 485.9 473.6 487.4 474.1 485.4 474.6 481.4 475.1 479.2 475.6 473.2 476.6 455.4 477.1 441.3 478.6 389.2 479.1 375.8 479.6 371 480.1 371.1 480.6 379.7 481.6 404.8 483.1 446.3 483.6 456.3 484.1 462.7 484.6 471.9 485.1 476.1 485.6 481.7 486.1 483 486.6 485.3 487.1 486.9 487.6 487.9 488.1 486.9 488.6 489.9 489.1 489.2 489.6 489.3 490.1 488.3 490.6 490.9 491.1 489.9 491.6 490.5 492.1 489.5 492.6 491.4 493.1 491.1 493.6 490 494.1 491.7 494.6 489.4 495.1 491 495.6 490.9 496.1 491 496.6 489.9 497.1 490.2 497.6 491.3 498.1 491.4 498.6 490.6 499.6 490.2 500.1 491.8 500.6 490.6 501.1 490.3 501.6 489.2 502.1 489.3 502.6 489.9 503.1 489.1 503.6 490.5 504.1 490.6 504.6 490 505.1 490.5 505.6 490.8 506.1 489.4 506.6 491.4 507.1 488.6 507.6 492.5 508.1 489.7 508.6 490.9 509.1 490.6 509.6 491.2 510.1 490.3 510.6 491.3 511.1 489.6 511.6 491.5 512.1 490.7 513.1 491.8 513.6 490 514.1 490.5 514.6 490.3 515.1 490.9 515.6 491.1 516.1 491.5 517.1 490.8 517.6 491.4 518.1 491.8 518.6 491.7 519.1 492.6 519.6 490.4 520.1 491.1 520.6 489.9 521.1 490.4 521.6 491.5 522.1 492 522.6 490.6 523.1 491.3 523.6 491 524.1 491.4 524.6 491.1 525.1 490.6 525.6 489.1 526.1 489.7 526.6 491.3 527.1 490.9 527.6 492.6 528.1 491 528.6 491.7 529.1 490 529.6 489.8 530.6 492.3 531.1 491.3 531.6 490.7 532.1 491.2 532.6 491.4 533.1 491.3 533.6 490.9 534.1 490.1 534.6 490 535.1 490.5" fill="none" stroke="#000" stroke-width="1.9" stroke-linejoin="round" />
<line x1="291.3" y1="301.2" x2="291.3" y2="505.4" stroke="#000" stroke-width="2" />
<line x1="290.3" y1="504.6" x2="535.2" y2="504.6" stroke="#000" stroke-width="2" />
<line x1="330.72" y1="504.6" x2="330.72" y2="499.8" stroke="#000" stroke-width="1.8" />
<line x1="381.82" y1="504.6" x2="381.82" y2="499.8" stroke="#000" stroke-width="1.8" />
<line x1="432.92" y1="504.6" x2="432.92" y2="499.8" stroke="#000" stroke-width="1.8" />
<line x1="484.02" y1="504.6" x2="484.02" y2="499.8" stroke="#000" stroke-width="1.8" />
<line x1="535.12" y1="504.6" x2="535.12" y2="499.8" stroke="#000" stroke-width="1.8" />
<text x="330.72" y="521.2" font-size="14.6" font-weight="bold" font-family='"Liberation Sans", sans-serif' fill="#000" text-anchor="middle" textLength="16.2" lengthAdjust="spacingAndGlyphs" >40</text>
<text x="381.82" y="521.2" font-size="14.6" font-weight="bold" font-family='"Liberation Sans", sans-serif' fill="#000" text-anchor="middle" textLength="16.2" lengthAdjust="spacingAndGlyphs" >42</text>
<text x="432.92" y="521.2" font-size="14.6" font-weight="bold" font-family='"Liberation Sans", sans-serif' fill="#000" text-anchor="middle" textLength="16.2" lengthAdjust="spacingAndGlyphs" >44</text>
<text x="484.02" y="521.2" font-size="14.6" font-weight="bold" font-family='"Liberation Sans", sans-serif' fill="#000" text-anchor="middle" textLength="16.2" lengthAdjust="spacingAndGlyphs" >46</text>
<text x="535.12" y="521.2" font-size="14.6" font-weight="bold" font-family='"Liberation Sans", sans-serif' fill="#000" text-anchor="middle" textLength="16.2" lengthAdjust="spacingAndGlyphs" >48</text>
<ellipse cx="180" cy="378.6" rx="41.0" ry="79.8" fill="none" stroke="#12e012" stroke-width="2.6" stroke-dasharray="11.5 7" stroke-dashoffset="9.75"/>
<ellipse cx="324.2" cy="418.7" rx="23.1" ry="59.3" fill="none" stroke="#22e022" stroke-width="1.7" stroke-dasharray="5.5 4"/>
<ellipse cx="486.3" cy="406.3" rx="23.4" ry="51.3" fill="none" stroke="#22e022" stroke-width="1.7" stroke-dasharray="5.5 4"/>
<line x1="167.6" y1="365.7" x2="157.5" y2="387" stroke="#111" stroke-width="1.15" stroke-dasharray="3.6 2.4"/>
<line x1="183.1" y1="386.8" x2="163" y2="430.5" stroke="#111" stroke-width="1.15" stroke-dasharray="3.6 2.4"/>
<line x1="489.9" y1="355" x2="489.9" y2="404.3" stroke="#111" stroke-width="1.15" stroke-dasharray="3.6 2.4"/>
<line x1="528.8" y1="355" x2="497.5" y2="401.8" stroke="#111" stroke-width="1.15" stroke-dasharray="3.6 2.4"/>
<text transform="translate(176.3 346.8) rotate(-90)" font-size="12.6" font-weight="bold" font-family='"Liberation Sans", sans-serif' fill="#000" text-anchor="middle" textLength="30.2" lengthAdjust="spacingAndGlyphs" >(101)</text>
<text transform="translate(195.15 366.55) rotate(-90)" font-size="12.6" font-weight="bold" font-family='"Liberation Sans", sans-serif' fill="#000" text-anchor="middle" textLength="29.5" lengthAdjust="spacingAndGlyphs" >(110)</text>
<text transform="translate(330.25 336.15) rotate(-90)" font-size="12.6" font-weight="bold" font-family='"Liberation Sans", sans-serif' fill="#000" text-anchor="middle" textLength="31.3" lengthAdjust="spacingAndGlyphs" >(111)</text>
<text transform="translate(494.75 336.1) rotate(-90)" font-size="12.6" font-weight="bold" font-family='"Liberation Sans", sans-serif' fill="#000" text-anchor="middle" textLength="28" lengthAdjust="spacingAndGlyphs" >(002)</text>
<text transform="translate(536.7 337) rotate(-90)" font-size="12.6" font-weight="bold" font-family='"Liberation Sans", sans-serif' fill="#000" text-anchor="middle" textLength="27.6" lengthAdjust="spacingAndGlyphs" >(200)</text>
<line x1="354.8" y1="299" x2="390.3" y2="299" stroke="#000" stroke-width="2" />
<line x1="354.8" y1="316.9" x2="390.3" y2="316.9" stroke="#ff0000" stroke-width="2" />
<text x="394.5" y="303.3" font-size="14.2" font-weight="bold" font-family='"Liberation Sans", sans-serif' fill="#000" textLength="63.8" lengthAdjust="spacingAndGlyphs" >BFBST-0</text>
<text x="394.5" y="321.2" font-size="14.2" font-weight="bold" font-family='"Liberation Sans", sans-serif' fill="#000" textLength="76.6" lengthAdjust="spacingAndGlyphs" >BFBST-Mn</text>
<text x="254.6" y="316" font-size="25.2" font-weight="bold" font-family='"Liberation Serif", serif' fill="#0000ff" >(c)</text>
<text transform="translate(71.2 465.6) rotate(-90)" font-size="16" font-weight="bold" font-family='"Liberation Sans", sans-serif' fill="#000" textLength="99" lengthAdjust="spacingAndGlyphs" >Intensity (a.u)</text>
<text transform="translate(71.2 366.6) rotate(-90)" font-size="16" font-weight="bold" font-family='"Liberation Sans", sans-serif' fill="#000" textLength="26" lengthAdjust="spacingAndGlyphs" >-- --</text>
<text transform="translate(71.2 337.2) rotate(-90)" font-size="15" font-weight="bold" font-family='"Liberation Sans", sans-serif' fill="#000" textLength="26" lengthAdjust="spacingAndGlyphs" >&gt;&gt;&gt;</text>
<text x="203.4" y="546" font-size="17" font-weight="bold" font-family='"Liberation Sans", sans-serif' fill="#000" textLength="97.4" lengthAdjust="spacingAndGlyphs" >2<tspan font-weight="normal">θ</tspan> (degree)</text>
<text x="306.5" y="546" font-size="17" font-weight="bold" font-family='"Liberation Sans", sans-serif' fill="#000" textLength="65" lengthAdjust="spacingAndGlyphs" >-- -- -- --</text>
<text x="377.2" y="546" font-size="17" font-weight="normal" font-family='"Liberation Sans", sans-serif' fill="#000" textLength="38.2" lengthAdjust="spacingAndGlyphs" >&gt;&gt;&gt;&gt;</text>
</svg>
</body></html>
